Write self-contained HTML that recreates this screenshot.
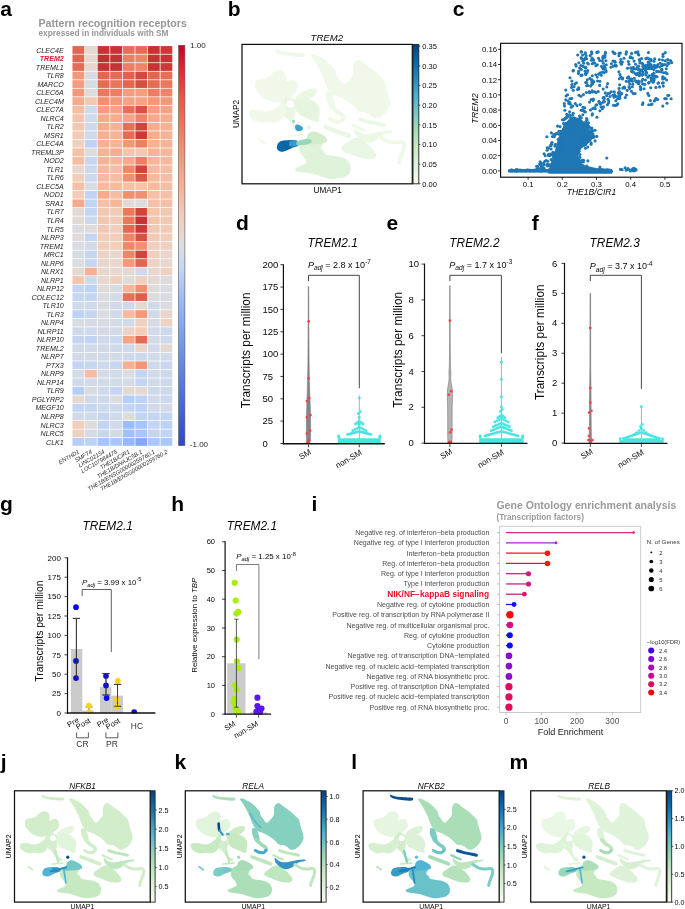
<!DOCTYPE html>
<html><head><meta charset="utf-8"><style>
html,body{margin:0;padding:0;background:#fff;}
svg{display:block;will-change:transform;font-family:"Liberation Sans", sans-serif;}
</style></head><body>
<svg width="685" height="909" viewBox="0 0 685 909">
<text x="0.20" y="15.70" font-size="21" font-weight="bold" fill="#000">a</text>
<text x="227.70" y="15.60" font-size="21" font-weight="bold" fill="#000">b</text>
<text x="452.80" y="16.00" font-size="21" font-weight="bold" fill="#000">c</text>
<text x="235.90" y="230.40" font-size="21" font-weight="bold" fill="#000">d</text>
<text x="386.50" y="230.40" font-size="21" font-weight="bold" fill="#000">e</text>
<text x="531.80" y="230.40" font-size="21" font-weight="bold" fill="#000">f</text>
<text x="0.00" y="511.20" font-size="21" font-weight="bold" fill="#000">g</text>
<text x="171.20" y="511.20" font-size="21" font-weight="bold" fill="#000">h</text>
<text x="311.40" y="511.00" font-size="21" font-weight="bold" fill="#000">i</text>
<text x="0.80" y="769.20" font-size="21" font-weight="bold" fill="#000">j</text>
<text x="174.40" y="769.00" font-size="21" font-weight="bold" fill="#000">k</text>
<text x="351.30" y="769.40" font-size="21" font-weight="bold" fill="#000">l</text>
<text x="509.50" y="769.40" font-size="21" font-weight="bold" fill="#000">m</text>
<g>
<rect x="72.1" y="45.7" width="100.60" height="400.50" fill="#fff"/>
<rect x="72.47" y="46.08" width="11.82" height="7.77" fill="#e16751"/>
<rect x="85.05" y="46.08" width="11.82" height="7.77" fill="#e3d9d3"/>
<rect x="97.62" y="46.08" width="11.82" height="7.77" fill="#c53334"/>
<rect x="110.20" y="46.08" width="11.82" height="7.77" fill="#c53334"/>
<rect x="122.77" y="46.08" width="11.82" height="7.77" fill="#e57058"/>
<rect x="135.35" y="46.08" width="11.82" height="7.77" fill="#e36c55"/>
<rect x="147.92" y="46.08" width="11.82" height="7.77" fill="#c53334"/>
<rect x="160.50" y="46.08" width="11.82" height="7.77" fill="#ca3b37"/>
<rect x="72.47" y="54.60" width="11.82" height="7.77" fill="#e16751"/>
<rect x="85.05" y="54.60" width="11.82" height="7.77" fill="#e7d7ce"/>
<rect x="97.62" y="54.60" width="11.82" height="7.77" fill="#c32e31"/>
<rect x="110.20" y="54.60" width="11.82" height="7.77" fill="#c53334"/>
<rect x="122.77" y="54.60" width="11.82" height="7.77" fill="#ec7f63"/>
<rect x="135.35" y="54.60" width="11.82" height="7.77" fill="#ee8468"/>
<rect x="147.92" y="54.60" width="11.82" height="7.77" fill="#c53334"/>
<rect x="160.50" y="54.60" width="11.82" height="7.77" fill="#c53334"/>
<rect x="72.47" y="63.12" width="11.82" height="7.77" fill="#e36c55"/>
<rect x="85.05" y="63.12" width="11.82" height="7.77" fill="#e7d7ce"/>
<rect x="97.62" y="63.12" width="11.82" height="7.77" fill="#c53334"/>
<rect x="110.20" y="63.12" width="11.82" height="7.77" fill="#c53334"/>
<rect x="122.77" y="63.12" width="11.82" height="7.77" fill="#ec7f63"/>
<rect x="135.35" y="63.12" width="11.82" height="7.77" fill="#ee8468"/>
<rect x="147.92" y="63.12" width="11.82" height="7.77" fill="#c53334"/>
<rect x="160.50" y="63.12" width="11.82" height="7.77" fill="#ca3b37"/>
<rect x="72.47" y="71.64" width="11.82" height="7.77" fill="#f4987a"/>
<rect x="85.05" y="71.64" width="11.82" height="7.77" fill="#d6dce4"/>
<rect x="97.62" y="71.64" width="11.82" height="7.77" fill="#e16751"/>
<rect x="110.20" y="71.64" width="11.82" height="7.77" fill="#e36c55"/>
<rect x="122.77" y="71.64" width="11.82" height="7.77" fill="#df634e"/>
<rect x="135.35" y="71.64" width="11.82" height="7.77" fill="#d1493f"/>
<rect x="147.92" y="71.64" width="11.82" height="7.77" fill="#e16751"/>
<rect x="160.50" y="71.64" width="11.82" height="7.77" fill="#e57058"/>
<rect x="72.47" y="80.16" width="11.82" height="7.77" fill="#f59d7e"/>
<rect x="85.05" y="80.16" width="11.82" height="7.77" fill="#d7dce3"/>
<rect x="97.62" y="80.16" width="11.82" height="7.77" fill="#e36c55"/>
<rect x="110.20" y="80.16" width="11.82" height="7.77" fill="#e8765c"/>
<rect x="122.77" y="80.16" width="11.82" height="7.77" fill="#e16751"/>
<rect x="135.35" y="80.16" width="11.82" height="7.77" fill="#d44e41"/>
<rect x="147.92" y="80.16" width="11.82" height="7.77" fill="#e36c55"/>
<rect x="160.50" y="80.16" width="11.82" height="7.77" fill="#e9785d"/>
<rect x="72.47" y="88.68" width="11.82" height="7.77" fill="#f4987a"/>
<rect x="85.05" y="88.68" width="11.82" height="7.77" fill="#dddcdc"/>
<rect x="97.62" y="88.68" width="11.82" height="7.77" fill="#e9785d"/>
<rect x="110.20" y="88.68" width="11.82" height="7.77" fill="#ec7f63"/>
<rect x="122.77" y="88.68" width="11.82" height="7.77" fill="#f59d7e"/>
<rect x="135.35" y="88.68" width="11.82" height="7.77" fill="#f59d7e"/>
<rect x="147.92" y="88.68" width="11.82" height="7.77" fill="#ec7f63"/>
<rect x="160.50" y="88.68" width="11.82" height="7.77" fill="#ee8468"/>
<rect x="72.47" y="97.20" width="11.82" height="7.77" fill="#f7a98b"/>
<rect x="85.05" y="97.20" width="11.82" height="7.77" fill="#f3c8b2"/>
<rect x="97.62" y="97.20" width="11.82" height="7.77" fill="#f18f71"/>
<rect x="110.20" y="97.20" width="11.82" height="7.77" fill="#f4987a"/>
<rect x="122.77" y="97.20" width="11.82" height="7.77" fill="#f6a385"/>
<rect x="135.35" y="97.20" width="11.82" height="7.77" fill="#f6a385"/>
<rect x="147.92" y="97.20" width="11.82" height="7.77" fill="#f39577"/>
<rect x="160.50" y="97.20" width="11.82" height="7.77" fill="#f4987a"/>
<rect x="72.47" y="105.72" width="11.82" height="7.77" fill="#f6bda2"/>
<rect x="85.05" y="105.72" width="11.82" height="7.77" fill="#cedaeb"/>
<rect x="97.62" y="105.72" width="11.82" height="7.77" fill="#f59d7e"/>
<rect x="110.20" y="105.72" width="11.82" height="7.77" fill="#f6a385"/>
<rect x="122.77" y="105.72" width="11.82" height="7.77" fill="#e57058"/>
<rect x="135.35" y="105.72" width="11.82" height="7.77" fill="#d65244"/>
<rect x="147.92" y="105.72" width="11.82" height="7.77" fill="#f59d7e"/>
<rect x="160.50" y="105.72" width="11.82" height="7.77" fill="#f6a385"/>
<rect x="72.47" y="114.25" width="11.82" height="7.77" fill="#f5c4ac"/>
<rect x="85.05" y="114.25" width="11.82" height="7.77" fill="#cedaeb"/>
<rect x="97.62" y="114.25" width="11.82" height="7.77" fill="#f7a98b"/>
<rect x="110.20" y="114.25" width="11.82" height="7.77" fill="#f7ac8e"/>
<rect x="122.77" y="114.25" width="11.82" height="7.77" fill="#f6a385"/>
<rect x="135.35" y="114.25" width="11.82" height="7.77" fill="#ee8468"/>
<rect x="147.92" y="114.25" width="11.82" height="7.77" fill="#f7a98b"/>
<rect x="160.50" y="114.25" width="11.82" height="7.77" fill="#f7ac8e"/>
<rect x="72.47" y="122.77" width="11.82" height="7.77" fill="#f3c8b2"/>
<rect x="85.05" y="122.77" width="11.82" height="7.77" fill="#cedaeb"/>
<rect x="97.62" y="122.77" width="11.82" height="7.77" fill="#f7ac8e"/>
<rect x="110.20" y="122.77" width="11.82" height="7.77" fill="#f7b093"/>
<rect x="122.77" y="122.77" width="11.82" height="7.77" fill="#e57058"/>
<rect x="135.35" y="122.77" width="11.82" height="7.77" fill="#cf453c"/>
<rect x="147.92" y="122.77" width="11.82" height="7.77" fill="#f7ac8e"/>
<rect x="160.50" y="122.77" width="11.82" height="7.77" fill="#f7b093"/>
<rect x="72.47" y="131.29" width="11.82" height="7.77" fill="#f2cbb7"/>
<rect x="85.05" y="131.29" width="11.82" height="7.77" fill="#cedaeb"/>
<rect x="97.62" y="131.29" width="11.82" height="7.77" fill="#f7b093"/>
<rect x="110.20" y="131.29" width="11.82" height="7.77" fill="#f7b396"/>
<rect x="122.77" y="131.29" width="11.82" height="7.77" fill="#e36c55"/>
<rect x="135.35" y="131.29" width="11.82" height="7.77" fill="#ca3b37"/>
<rect x="147.92" y="131.29" width="11.82" height="7.77" fill="#f7ac8e"/>
<rect x="160.50" y="131.29" width="11.82" height="7.77" fill="#f7b396"/>
<rect x="72.47" y="139.81" width="11.82" height="7.77" fill="#eed0c0"/>
<rect x="85.05" y="139.81" width="11.82" height="7.77" fill="#bed2f6"/>
<rect x="97.62" y="139.81" width="11.82" height="7.77" fill="#f7b093"/>
<rect x="110.20" y="139.81" width="11.82" height="7.77" fill="#f7b396"/>
<rect x="122.77" y="139.81" width="11.82" height="7.77" fill="#f39577"/>
<rect x="135.35" y="139.81" width="11.82" height="7.77" fill="#ec7f63"/>
<rect x="147.92" y="139.81" width="11.82" height="7.77" fill="#f7b093"/>
<rect x="160.50" y="139.81" width="11.82" height="7.77" fill="#f7b396"/>
<rect x="72.47" y="148.33" width="11.82" height="7.77" fill="#f5c0a7"/>
<rect x="85.05" y="148.33" width="11.82" height="7.77" fill="#dddcdc"/>
<rect x="97.62" y="148.33" width="11.82" height="7.77" fill="#f7b396"/>
<rect x="110.20" y="148.33" width="11.82" height="7.77" fill="#f7ac8e"/>
<rect x="122.77" y="148.33" width="11.82" height="7.77" fill="#f5c4ac"/>
<rect x="135.35" y="148.33" width="11.82" height="7.77" fill="#f3c8b2"/>
<rect x="147.92" y="148.33" width="11.82" height="7.77" fill="#f7b396"/>
<rect x="160.50" y="148.33" width="11.82" height="7.77" fill="#f7b79b"/>
<rect x="72.47" y="156.85" width="11.82" height="7.77" fill="#f6bda2"/>
<rect x="85.05" y="156.85" width="11.82" height="7.77" fill="#c6d6f1"/>
<rect x="97.62" y="156.85" width="11.82" height="7.77" fill="#f7b396"/>
<rect x="110.20" y="156.85" width="11.82" height="7.77" fill="#f7b599"/>
<rect x="122.77" y="156.85" width="11.82" height="7.77" fill="#f7a98b"/>
<rect x="135.35" y="156.85" width="11.82" height="7.77" fill="#ec7f63"/>
<rect x="147.92" y="156.85" width="11.82" height="7.77" fill="#f7b599"/>
<rect x="160.50" y="156.85" width="11.82" height="7.77" fill="#f7b89c"/>
<rect x="72.47" y="165.37" width="11.82" height="7.77" fill="#e9d5cb"/>
<rect x="85.05" y="165.37" width="11.82" height="7.77" fill="#cbd8ee"/>
<rect x="97.62" y="165.37" width="11.82" height="7.77" fill="#f7ba9f"/>
<rect x="110.20" y="165.37" width="11.82" height="7.77" fill="#f6bda2"/>
<rect x="122.77" y="165.37" width="11.82" height="7.77" fill="#ef886b"/>
<rect x="135.35" y="165.37" width="11.82" height="7.77" fill="#cf453c"/>
<rect x="147.92" y="165.37" width="11.82" height="7.77" fill="#f7ba9f"/>
<rect x="160.50" y="165.37" width="11.82" height="7.77" fill="#f6bda2"/>
<rect x="72.47" y="173.89" width="11.82" height="7.77" fill="#f1cdba"/>
<rect x="85.05" y="173.89" width="11.82" height="7.77" fill="#cbd8ee"/>
<rect x="97.62" y="173.89" width="11.82" height="7.77" fill="#f7ba9f"/>
<rect x="110.20" y="173.89" width="11.82" height="7.77" fill="#f6bda2"/>
<rect x="122.77" y="173.89" width="11.82" height="7.77" fill="#f18f71"/>
<rect x="135.35" y="173.89" width="11.82" height="7.77" fill="#d95847"/>
<rect x="147.92" y="173.89" width="11.82" height="7.77" fill="#f7ba9f"/>
<rect x="160.50" y="173.89" width="11.82" height="7.77" fill="#f6bda2"/>
<rect x="72.47" y="182.42" width="11.82" height="7.77" fill="#f5c0a7"/>
<rect x="85.05" y="182.42" width="11.82" height="7.77" fill="#d7dce3"/>
<rect x="97.62" y="182.42" width="11.82" height="7.77" fill="#f7ba9f"/>
<rect x="110.20" y="182.42" width="11.82" height="7.77" fill="#f7ba9f"/>
<rect x="122.77" y="182.42" width="11.82" height="7.77" fill="#f5c0a7"/>
<rect x="135.35" y="182.42" width="11.82" height="7.77" fill="#f5c4ac"/>
<rect x="147.92" y="182.42" width="11.82" height="7.77" fill="#f7ba9f"/>
<rect x="160.50" y="182.42" width="11.82" height="7.77" fill="#f6bda2"/>
<rect x="72.47" y="190.94" width="11.82" height="7.77" fill="#f1cdba"/>
<rect x="85.05" y="190.94" width="11.82" height="7.77" fill="#c1d4f4"/>
<rect x="97.62" y="190.94" width="11.82" height="7.77" fill="#f7ac8e"/>
<rect x="110.20" y="190.94" width="11.82" height="7.77" fill="#f6bda2"/>
<rect x="122.77" y="190.94" width="11.82" height="7.77" fill="#f18f71"/>
<rect x="135.35" y="190.94" width="11.82" height="7.77" fill="#f18f71"/>
<rect x="147.92" y="190.94" width="11.82" height="7.77" fill="#f5c0a7"/>
<rect x="160.50" y="190.94" width="11.82" height="7.77" fill="#f5c0a7"/>
<rect x="72.47" y="199.46" width="11.82" height="7.77" fill="#f7a98b"/>
<rect x="85.05" y="199.46" width="11.82" height="7.77" fill="#c1d4f4"/>
<rect x="97.62" y="199.46" width="11.82" height="7.77" fill="#f5c0a7"/>
<rect x="110.20" y="199.46" width="11.82" height="7.77" fill="#f7b599"/>
<rect x="122.77" y="199.46" width="11.82" height="7.77" fill="#dfdbd9"/>
<rect x="135.35" y="199.46" width="11.82" height="7.77" fill="#dddcdc"/>
<rect x="147.92" y="199.46" width="11.82" height="7.77" fill="#f5c0a7"/>
<rect x="160.50" y="199.46" width="11.82" height="7.77" fill="#f5c0a7"/>
<rect x="72.47" y="207.98" width="11.82" height="7.77" fill="#e3d9d3"/>
<rect x="85.05" y="207.98" width="11.82" height="7.77" fill="#c4d5f3"/>
<rect x="97.62" y="207.98" width="11.82" height="7.77" fill="#f3c8b2"/>
<rect x="110.20" y="207.98" width="11.82" height="7.77" fill="#f2cbb7"/>
<rect x="122.77" y="207.98" width="11.82" height="7.77" fill="#e9785d"/>
<rect x="135.35" y="207.98" width="11.82" height="7.77" fill="#cf453c"/>
<rect x="147.92" y="207.98" width="11.82" height="7.77" fill="#f5c4ac"/>
<rect x="160.50" y="207.98" width="11.82" height="7.77" fill="#f3c8b2"/>
<rect x="72.47" y="216.50" width="11.82" height="7.77" fill="#e3d9d3"/>
<rect x="85.05" y="216.50" width="11.82" height="7.77" fill="#cbd8ee"/>
<rect x="97.62" y="216.50" width="11.82" height="7.77" fill="#f3c8b2"/>
<rect x="110.20" y="216.50" width="11.82" height="7.77" fill="#f2cbb7"/>
<rect x="122.77" y="216.50" width="11.82" height="7.77" fill="#e9785d"/>
<rect x="135.35" y="216.50" width="11.82" height="7.77" fill="#c53334"/>
<rect x="147.92" y="216.50" width="11.82" height="7.77" fill="#f5c4ac"/>
<rect x="160.50" y="216.50" width="11.82" height="7.77" fill="#f3c8b2"/>
<rect x="72.47" y="225.02" width="11.82" height="7.77" fill="#dadce0"/>
<rect x="85.05" y="225.02" width="11.82" height="7.77" fill="#e0dbd8"/>
<rect x="97.62" y="225.02" width="11.82" height="7.77" fill="#f3c8b2"/>
<rect x="110.20" y="225.02" width="11.82" height="7.77" fill="#f1cdba"/>
<rect x="122.77" y="225.02" width="11.82" height="7.77" fill="#e16751"/>
<rect x="135.35" y="225.02" width="11.82" height="7.77" fill="#ca3b37"/>
<rect x="147.92" y="225.02" width="11.82" height="7.77" fill="#f3c8b2"/>
<rect x="160.50" y="225.02" width="11.82" height="7.77" fill="#f2cbb7"/>
<rect x="72.47" y="233.54" width="11.82" height="7.77" fill="#dfdbd9"/>
<rect x="85.05" y="233.54" width="11.82" height="7.77" fill="#c4d5f3"/>
<rect x="97.62" y="233.54" width="11.82" height="7.77" fill="#f1cdba"/>
<rect x="110.20" y="233.54" width="11.82" height="7.77" fill="#f1cdba"/>
<rect x="122.77" y="233.54" width="11.82" height="7.77" fill="#ee8468"/>
<rect x="135.35" y="233.54" width="11.82" height="7.77" fill="#d65244"/>
<rect x="147.92" y="233.54" width="11.82" height="7.77" fill="#f2cbb7"/>
<rect x="160.50" y="233.54" width="11.82" height="7.77" fill="#f1cdba"/>
<rect x="72.47" y="242.06" width="11.82" height="7.77" fill="#d9dce1"/>
<rect x="85.05" y="242.06" width="11.82" height="7.77" fill="#d1dae9"/>
<rect x="97.62" y="242.06" width="11.82" height="7.77" fill="#f1cdba"/>
<rect x="110.20" y="242.06" width="11.82" height="7.77" fill="#f1cdba"/>
<rect x="122.77" y="242.06" width="11.82" height="7.77" fill="#ef886b"/>
<rect x="135.35" y="242.06" width="11.82" height="7.77" fill="#f18f71"/>
<rect x="147.92" y="242.06" width="11.82" height="7.77" fill="#eed0c0"/>
<rect x="160.50" y="242.06" width="11.82" height="7.77" fill="#eed0c0"/>
<rect x="72.47" y="250.59" width="11.82" height="7.77" fill="#d7dce3"/>
<rect x="85.05" y="250.59" width="11.82" height="7.77" fill="#c6d6f1"/>
<rect x="97.62" y="250.59" width="11.82" height="7.77" fill="#ebd3c6"/>
<rect x="110.20" y="250.59" width="11.82" height="7.77" fill="#e7d7ce"/>
<rect x="122.77" y="250.59" width="11.82" height="7.77" fill="#ee8468"/>
<rect x="135.35" y="250.59" width="11.82" height="7.77" fill="#cf453c"/>
<rect x="147.92" y="250.59" width="11.82" height="7.77" fill="#eed0c0"/>
<rect x="160.50" y="250.59" width="11.82" height="7.77" fill="#e9d5cb"/>
<rect x="72.47" y="259.11" width="11.82" height="7.77" fill="#dadce0"/>
<rect x="85.05" y="259.11" width="11.82" height="7.77" fill="#c6d6f1"/>
<rect x="97.62" y="259.11" width="11.82" height="7.77" fill="#e9d5cb"/>
<rect x="110.20" y="259.11" width="11.82" height="7.77" fill="#e7d7ce"/>
<rect x="122.77" y="259.11" width="11.82" height="7.77" fill="#f4987a"/>
<rect x="135.35" y="259.11" width="11.82" height="7.77" fill="#e16751"/>
<rect x="147.92" y="259.11" width="11.82" height="7.77" fill="#ebd3c6"/>
<rect x="160.50" y="259.11" width="11.82" height="7.77" fill="#e7d7ce"/>
<rect x="72.47" y="267.63" width="11.82" height="7.77" fill="#e3d9d3"/>
<rect x="85.05" y="267.63" width="11.82" height="7.77" fill="#f7b093"/>
<rect x="97.62" y="267.63" width="11.82" height="7.77" fill="#e7d7ce"/>
<rect x="110.20" y="267.63" width="11.82" height="7.77" fill="#e7d7ce"/>
<rect x="122.77" y="267.63" width="11.82" height="7.77" fill="#e3d9d3"/>
<rect x="135.35" y="267.63" width="11.82" height="7.77" fill="#cedaeb"/>
<rect x="147.92" y="267.63" width="11.82" height="7.77" fill="#e7d7ce"/>
<rect x="160.50" y="267.63" width="11.82" height="7.77" fill="#eed0c0"/>
<rect x="72.47" y="276.15" width="11.82" height="7.77" fill="#f5c4ac"/>
<rect x="85.05" y="276.15" width="11.82" height="7.77" fill="#cedaeb"/>
<rect x="97.62" y="276.15" width="11.82" height="7.77" fill="#e7d7ce"/>
<rect x="110.20" y="276.15" width="11.82" height="7.77" fill="#eed0c0"/>
<rect x="122.77" y="276.15" width="11.82" height="7.77" fill="#dfdbd9"/>
<rect x="135.35" y="276.15" width="11.82" height="7.77" fill="#eed0c0"/>
<rect x="147.92" y="276.15" width="11.82" height="7.77" fill="#e3d9d3"/>
<rect x="160.50" y="276.15" width="11.82" height="7.77" fill="#dddcdc"/>
<rect x="72.47" y="284.67" width="11.82" height="7.77" fill="#c4d5f3"/>
<rect x="85.05" y="284.67" width="11.82" height="7.77" fill="#bed2f6"/>
<rect x="97.62" y="284.67" width="11.82" height="7.77" fill="#dfdbd9"/>
<rect x="110.20" y="284.67" width="11.82" height="7.77" fill="#d7dce3"/>
<rect x="122.77" y="284.67" width="11.82" height="7.77" fill="#f7b599"/>
<rect x="135.35" y="284.67" width="11.82" height="7.77" fill="#f18f71"/>
<rect x="147.92" y="284.67" width="11.82" height="7.77" fill="#dddcdc"/>
<rect x="160.50" y="284.67" width="11.82" height="7.77" fill="#dadce0"/>
<rect x="72.47" y="293.19" width="11.82" height="7.77" fill="#c6d6f1"/>
<rect x="85.05" y="293.19" width="11.82" height="7.77" fill="#c4d5f3"/>
<rect x="97.62" y="293.19" width="11.82" height="7.77" fill="#dadce0"/>
<rect x="110.20" y="293.19" width="11.82" height="7.77" fill="#d4dbe6"/>
<rect x="122.77" y="293.19" width="11.82" height="7.77" fill="#e57058"/>
<rect x="135.35" y="293.19" width="11.82" height="7.77" fill="#dd5f4b"/>
<rect x="147.92" y="293.19" width="11.82" height="7.77" fill="#dddcdc"/>
<rect x="160.50" y="293.19" width="11.82" height="7.77" fill="#d7dce3"/>
<rect x="72.47" y="301.71" width="11.82" height="7.77" fill="#d1dae9"/>
<rect x="85.05" y="301.71" width="11.82" height="7.77" fill="#cedaeb"/>
<rect x="97.62" y="301.71" width="11.82" height="7.77" fill="#d7dce3"/>
<rect x="110.20" y="301.71" width="11.82" height="7.77" fill="#d1dae9"/>
<rect x="122.77" y="301.71" width="11.82" height="7.77" fill="#cedaeb"/>
<rect x="135.35" y="301.71" width="11.82" height="7.77" fill="#e3d9d3"/>
<rect x="147.92" y="301.71" width="11.82" height="7.77" fill="#d1dae9"/>
<rect x="160.50" y="301.71" width="11.82" height="7.77" fill="#dadce0"/>
<rect x="72.47" y="310.23" width="11.82" height="7.77" fill="#bed2f6"/>
<rect x="85.05" y="310.23" width="11.82" height="7.77" fill="#c6d6f1"/>
<rect x="97.62" y="310.23" width="11.82" height="7.77" fill="#d9dce1"/>
<rect x="110.20" y="310.23" width="11.82" height="7.77" fill="#d1dae9"/>
<rect x="122.77" y="310.23" width="11.82" height="7.77" fill="#f7ba9f"/>
<rect x="135.35" y="310.23" width="11.82" height="7.77" fill="#f4987a"/>
<rect x="147.92" y="310.23" width="11.82" height="7.77" fill="#d1dae9"/>
<rect x="160.50" y="310.23" width="11.82" height="7.77" fill="#e9d5cb"/>
<rect x="72.47" y="318.76" width="11.82" height="7.77" fill="#d7dce3"/>
<rect x="85.05" y="318.76" width="11.82" height="7.77" fill="#d4dbe6"/>
<rect x="97.62" y="318.76" width="11.82" height="7.77" fill="#d7dce3"/>
<rect x="110.20" y="318.76" width="11.82" height="7.77" fill="#d4dbe6"/>
<rect x="122.77" y="318.76" width="11.82" height="7.77" fill="#d1dae9"/>
<rect x="135.35" y="318.76" width="11.82" height="7.77" fill="#eed0c0"/>
<rect x="147.92" y="318.76" width="11.82" height="7.77" fill="#d4dbe6"/>
<rect x="160.50" y="318.76" width="11.82" height="7.77" fill="#ebd3c6"/>
<rect x="72.47" y="327.28" width="11.82" height="7.77" fill="#cedaeb"/>
<rect x="85.05" y="327.28" width="11.82" height="7.77" fill="#cedaeb"/>
<rect x="97.62" y="327.28" width="11.82" height="7.77" fill="#d4dbe6"/>
<rect x="110.20" y="327.28" width="11.82" height="7.77" fill="#d1dae9"/>
<rect x="122.77" y="327.28" width="11.82" height="7.77" fill="#ebd3c6"/>
<rect x="135.35" y="327.28" width="11.82" height="7.77" fill="#f1cdba"/>
<rect x="147.92" y="327.28" width="11.82" height="7.77" fill="#d1dae9"/>
<rect x="160.50" y="327.28" width="11.82" height="7.77" fill="#cedaeb"/>
<rect x="72.47" y="335.80" width="11.82" height="7.77" fill="#c4d5f3"/>
<rect x="85.05" y="335.80" width="11.82" height="7.77" fill="#c1d4f4"/>
<rect x="97.62" y="335.80" width="11.82" height="7.77" fill="#cedaeb"/>
<rect x="110.20" y="335.80" width="11.82" height="7.77" fill="#cbd8ee"/>
<rect x="122.77" y="335.80" width="11.82" height="7.77" fill="#f6a385"/>
<rect x="135.35" y="335.80" width="11.82" height="7.77" fill="#e36c55"/>
<rect x="147.92" y="335.80" width="11.82" height="7.77" fill="#d4dbe6"/>
<rect x="160.50" y="335.80" width="11.82" height="7.77" fill="#cedaeb"/>
<rect x="72.47" y="344.32" width="11.82" height="7.77" fill="#d1dae9"/>
<rect x="85.05" y="344.32" width="11.82" height="7.77" fill="#d1dae9"/>
<rect x="97.62" y="344.32" width="11.82" height="7.77" fill="#d1dae9"/>
<rect x="110.20" y="344.32" width="11.82" height="7.77" fill="#cedaeb"/>
<rect x="122.77" y="344.32" width="11.82" height="7.77" fill="#cedaeb"/>
<rect x="135.35" y="344.32" width="11.82" height="7.77" fill="#e9d5cb"/>
<rect x="147.92" y="344.32" width="11.82" height="7.77" fill="#d1dae9"/>
<rect x="160.50" y="344.32" width="11.82" height="7.77" fill="#e3d9d3"/>
<rect x="72.47" y="352.84" width="11.82" height="7.77" fill="#d1dae9"/>
<rect x="85.05" y="352.84" width="11.82" height="7.77" fill="#d1dae9"/>
<rect x="97.62" y="352.84" width="11.82" height="7.77" fill="#d1dae9"/>
<rect x="110.20" y="352.84" width="11.82" height="7.77" fill="#d1dae9"/>
<rect x="122.77" y="352.84" width="11.82" height="7.77" fill="#cedaeb"/>
<rect x="135.35" y="352.84" width="11.82" height="7.77" fill="#cbd8ee"/>
<rect x="147.92" y="352.84" width="11.82" height="7.77" fill="#d1dae9"/>
<rect x="160.50" y="352.84" width="11.82" height="7.77" fill="#d1dae9"/>
<rect x="72.47" y="361.36" width="11.82" height="7.77" fill="#c4d5f3"/>
<rect x="85.05" y="361.36" width="11.82" height="7.77" fill="#c6d6f1"/>
<rect x="97.62" y="361.36" width="11.82" height="7.77" fill="#cedaeb"/>
<rect x="110.20" y="361.36" width="11.82" height="7.77" fill="#c6d6f1"/>
<rect x="122.77" y="361.36" width="11.82" height="7.77" fill="#f7b093"/>
<rect x="135.35" y="361.36" width="11.82" height="7.77" fill="#f39577"/>
<rect x="147.92" y="361.36" width="11.82" height="7.77" fill="#cedaeb"/>
<rect x="160.50" y="361.36" width="11.82" height="7.77" fill="#cbd8ee"/>
<rect x="72.47" y="369.88" width="11.82" height="7.77" fill="#d4dbe6"/>
<rect x="85.05" y="369.88" width="11.82" height="7.77" fill="#f6bda2"/>
<rect x="97.62" y="369.88" width="11.82" height="7.77" fill="#d4dbe6"/>
<rect x="110.20" y="369.88" width="11.82" height="7.77" fill="#d1dae9"/>
<rect x="122.77" y="369.88" width="11.82" height="7.77" fill="#dadce0"/>
<rect x="135.35" y="369.88" width="11.82" height="7.77" fill="#c4d5f3"/>
<rect x="147.92" y="369.88" width="11.82" height="7.77" fill="#d1dae9"/>
<rect x="160.50" y="369.88" width="11.82" height="7.77" fill="#cedaeb"/>
<rect x="72.47" y="378.40" width="11.82" height="7.77" fill="#cedaeb"/>
<rect x="85.05" y="378.40" width="11.82" height="7.77" fill="#d1dae9"/>
<rect x="97.62" y="378.40" width="11.82" height="7.77" fill="#d1dae9"/>
<rect x="110.20" y="378.40" width="11.82" height="7.77" fill="#d1dae9"/>
<rect x="122.77" y="378.40" width="11.82" height="7.77" fill="#d4dbe6"/>
<rect x="135.35" y="378.40" width="11.82" height="7.77" fill="#c4d5f3"/>
<rect x="147.92" y="378.40" width="11.82" height="7.77" fill="#d1dae9"/>
<rect x="160.50" y="378.40" width="11.82" height="7.77" fill="#cedaeb"/>
<rect x="72.47" y="386.93" width="11.82" height="7.77" fill="#b6cefa"/>
<rect x="85.05" y="386.93" width="11.82" height="7.77" fill="#d7dce3"/>
<rect x="97.62" y="386.93" width="11.82" height="7.77" fill="#cedaeb"/>
<rect x="110.20" y="386.93" width="11.82" height="7.77" fill="#c4d5f3"/>
<rect x="122.77" y="386.93" width="11.82" height="7.77" fill="#e3d9d3"/>
<rect x="135.35" y="386.93" width="11.82" height="7.77" fill="#e3d9d3"/>
<rect x="147.92" y="386.93" width="11.82" height="7.77" fill="#cedaeb"/>
<rect x="160.50" y="386.93" width="11.82" height="7.77" fill="#cedaeb"/>
<rect x="72.47" y="395.45" width="11.82" height="7.77" fill="#e3d9d3"/>
<rect x="85.05" y="395.45" width="11.82" height="7.77" fill="#cedaeb"/>
<rect x="97.62" y="395.45" width="11.82" height="7.77" fill="#cedaeb"/>
<rect x="110.20" y="395.45" width="11.82" height="7.77" fill="#dadce0"/>
<rect x="122.77" y="395.45" width="11.82" height="7.77" fill="#b6cefa"/>
<rect x="135.35" y="395.45" width="11.82" height="7.77" fill="#bed2f6"/>
<rect x="147.92" y="395.45" width="11.82" height="7.77" fill="#d1dae9"/>
<rect x="160.50" y="395.45" width="11.82" height="7.77" fill="#cbd8ee"/>
<rect x="72.47" y="403.97" width="11.82" height="7.77" fill="#c4d5f3"/>
<rect x="85.05" y="403.97" width="11.82" height="7.77" fill="#c6d6f1"/>
<rect x="97.62" y="403.97" width="11.82" height="7.77" fill="#cbd8ee"/>
<rect x="110.20" y="403.97" width="11.82" height="7.77" fill="#cbd8ee"/>
<rect x="122.77" y="403.97" width="11.82" height="7.77" fill="#c4d5f3"/>
<rect x="135.35" y="403.97" width="11.82" height="7.77" fill="#bed2f6"/>
<rect x="147.92" y="403.97" width="11.82" height="7.77" fill="#d1dae9"/>
<rect x="160.50" y="403.97" width="11.82" height="7.77" fill="#d4dbe6"/>
<rect x="72.47" y="412.49" width="11.82" height="7.77" fill="#d1dae9"/>
<rect x="85.05" y="412.49" width="11.82" height="7.77" fill="#d1dae9"/>
<rect x="97.62" y="412.49" width="11.82" height="7.77" fill="#c6d6f1"/>
<rect x="110.20" y="412.49" width="11.82" height="7.77" fill="#cedaeb"/>
<rect x="122.77" y="412.49" width="11.82" height="7.77" fill="#dddcdc"/>
<rect x="135.35" y="412.49" width="11.82" height="7.77" fill="#c1d4f4"/>
<rect x="147.92" y="412.49" width="11.82" height="7.77" fill="#c4d5f3"/>
<rect x="160.50" y="412.49" width="11.82" height="7.77" fill="#c4d5f3"/>
<rect x="72.47" y="421.01" width="11.82" height="7.77" fill="#f1cdba"/>
<rect x="85.05" y="421.01" width="11.82" height="7.77" fill="#dddcdc"/>
<rect x="97.62" y="421.01" width="11.82" height="7.77" fill="#c1d4f4"/>
<rect x="110.20" y="421.01" width="11.82" height="7.77" fill="#cedaeb"/>
<rect x="122.77" y="421.01" width="11.82" height="7.77" fill="#9bbcff"/>
<rect x="135.35" y="421.01" width="11.82" height="7.77" fill="#a5c3fe"/>
<rect x="147.92" y="421.01" width="11.82" height="7.77" fill="#c4d5f3"/>
<rect x="160.50" y="421.01" width="11.82" height="7.77" fill="#bed2f6"/>
<rect x="72.47" y="429.53" width="11.82" height="7.77" fill="#eed0c0"/>
<rect x="85.05" y="429.53" width="11.82" height="7.77" fill="#d4dbe6"/>
<rect x="97.62" y="429.53" width="11.82" height="7.77" fill="#c6d6f1"/>
<rect x="110.20" y="429.53" width="11.82" height="7.77" fill="#d1dae9"/>
<rect x="122.77" y="429.53" width="11.82" height="7.77" fill="#9fbfff"/>
<rect x="135.35" y="429.53" width="11.82" height="7.77" fill="#aac7fd"/>
<rect x="147.92" y="429.53" width="11.82" height="7.77" fill="#c4d5f3"/>
<rect x="160.50" y="429.53" width="11.82" height="7.77" fill="#c1d4f4"/>
<rect x="72.47" y="438.05" width="11.82" height="7.77" fill="#b6cefa"/>
<rect x="85.05" y="438.05" width="11.82" height="7.77" fill="#bed2f6"/>
<rect x="97.62" y="438.05" width="11.82" height="7.77" fill="#a5c3fe"/>
<rect x="110.20" y="438.05" width="11.82" height="7.77" fill="#aac7fd"/>
<rect x="122.77" y="438.05" width="11.82" height="7.77" fill="#96b7ff"/>
<rect x="135.35" y="438.05" width="11.82" height="7.77" fill="#85a8fc"/>
<rect x="147.92" y="438.05" width="11.82" height="7.77" fill="#aac7fd"/>
<rect x="160.50" y="438.05" width="11.82" height="7.77" fill="#aac7fd"/>
</g>
<text x="63.80" y="52.56" font-size="7.1" font-style="italic" text-anchor="end" fill="#262626">CLEC4E</text>
<text x="63.80" y="61.08" font-size="7.1" font-weight="bold" font-style="italic" text-anchor="end" fill="#e3172d">TREM2</text>
<text x="63.80" y="69.60" font-size="7.1" font-style="italic" text-anchor="end" fill="#262626">TREML1</text>
<text x="63.80" y="78.12" font-size="7.1" font-style="italic" text-anchor="end" fill="#262626">TLR8</text>
<text x="63.80" y="86.65" font-size="7.1" font-style="italic" text-anchor="end" fill="#262626">MARCO</text>
<text x="63.80" y="95.17" font-size="7.1" font-style="italic" text-anchor="end" fill="#262626">CLEC6A</text>
<text x="63.80" y="103.69" font-size="7.1" font-style="italic" text-anchor="end" fill="#262626">CLEC4M</text>
<text x="63.80" y="112.21" font-size="7.1" font-style="italic" text-anchor="end" fill="#262626">CLEC7A</text>
<text x="63.80" y="120.73" font-size="7.1" font-style="italic" text-anchor="end" fill="#262626">NLRC4</text>
<text x="63.80" y="129.25" font-size="7.1" font-style="italic" text-anchor="end" fill="#262626">TLR2</text>
<text x="63.80" y="137.77" font-size="7.1" font-style="italic" text-anchor="end" fill="#262626">MSR1</text>
<text x="63.80" y="146.29" font-size="7.1" font-style="italic" text-anchor="end" fill="#262626">CLEC4A</text>
<text x="63.80" y="154.82" font-size="7.1" font-style="italic" text-anchor="end" fill="#262626">TREML3P</text>
<text x="63.80" y="163.34" font-size="7.1" font-style="italic" text-anchor="end" fill="#262626">NOD2</text>
<text x="63.80" y="171.86" font-size="7.1" font-style="italic" text-anchor="end" fill="#262626">TLR1</text>
<text x="63.80" y="180.38" font-size="7.1" font-style="italic" text-anchor="end" fill="#262626">TLR6</text>
<text x="63.80" y="188.90" font-size="7.1" font-style="italic" text-anchor="end" fill="#262626">CLEC5A</text>
<text x="63.80" y="197.42" font-size="7.1" font-style="italic" text-anchor="end" fill="#262626">NOD1</text>
<text x="63.80" y="205.94" font-size="7.1" font-style="italic" text-anchor="end" fill="#262626">SRA1</text>
<text x="63.80" y="214.46" font-size="7.1" font-style="italic" text-anchor="end" fill="#262626">TLR7</text>
<text x="63.80" y="222.99" font-size="7.1" font-style="italic" text-anchor="end" fill="#262626">TLR4</text>
<text x="63.80" y="231.51" font-size="7.1" font-style="italic" text-anchor="end" fill="#262626">TLR5</text>
<text x="63.80" y="240.03" font-size="7.1" font-style="italic" text-anchor="end" fill="#262626">NLRP3</text>
<text x="63.80" y="248.55" font-size="7.1" font-style="italic" text-anchor="end" fill="#262626">TREM1</text>
<text x="63.80" y="257.07" font-size="7.1" font-style="italic" text-anchor="end" fill="#262626">MRC1</text>
<text x="63.80" y="265.59" font-size="7.1" font-style="italic" text-anchor="end" fill="#262626">NLRP6</text>
<text x="63.80" y="274.11" font-size="7.1" font-style="italic" text-anchor="end" fill="#262626">NLRX1</text>
<text x="63.80" y="282.64" font-size="7.1" font-style="italic" text-anchor="end" fill="#262626">NLRP1</text>
<text x="63.80" y="291.16" font-size="7.1" font-style="italic" text-anchor="end" fill="#262626">NLRP12</text>
<text x="63.80" y="299.68" font-size="7.1" font-style="italic" text-anchor="end" fill="#262626">COLEC12</text>
<text x="63.80" y="308.20" font-size="7.1" font-style="italic" text-anchor="end" fill="#262626">TLR10</text>
<text x="63.80" y="316.72" font-size="7.1" font-style="italic" text-anchor="end" fill="#262626">TLR3</text>
<text x="63.80" y="325.24" font-size="7.1" font-style="italic" text-anchor="end" fill="#262626">NLRP4</text>
<text x="63.80" y="333.76" font-size="7.1" font-style="italic" text-anchor="end" fill="#262626">NLRP11</text>
<text x="63.80" y="342.28" font-size="7.1" font-style="italic" text-anchor="end" fill="#262626">NLRP10</text>
<text x="63.80" y="350.81" font-size="7.1" font-style="italic" text-anchor="end" fill="#262626">TREML2</text>
<text x="63.80" y="359.33" font-size="7.1" font-style="italic" text-anchor="end" fill="#262626">NLRP7</text>
<text x="63.80" y="367.85" font-size="7.1" font-style="italic" text-anchor="end" fill="#262626">PTX3</text>
<text x="63.80" y="376.37" font-size="7.1" font-style="italic" text-anchor="end" fill="#262626">NLRP9</text>
<text x="63.80" y="384.89" font-size="7.1" font-style="italic" text-anchor="end" fill="#262626">NLRP14</text>
<text x="63.80" y="393.41" font-size="7.1" font-style="italic" text-anchor="end" fill="#262626">TLR9</text>
<text x="63.80" y="401.93" font-size="7.1" font-style="italic" text-anchor="end" fill="#262626">PGLYRP2</text>
<text x="63.80" y="410.45" font-size="7.1" font-style="italic" text-anchor="end" fill="#262626">MEGF10</text>
<text x="63.80" y="418.98" font-size="7.1" font-style="italic" text-anchor="end" fill="#262626">NLRP8</text>
<text x="63.80" y="427.50" font-size="7.1" font-style="italic" text-anchor="end" fill="#262626">NLRC3</text>
<text x="63.80" y="436.02" font-size="7.1" font-style="italic" text-anchor="end" fill="#262626">NLRC5</text>
<text x="63.80" y="444.54" font-size="7.1" font-style="italic" text-anchor="end" fill="#262626">CLK1</text>
<text x="38.50" y="26.90" font-size="10.6" font-weight="bold" fill="#979797">Pattern recognition receptors</text>
<text x="38.50" y="35.60" font-size="8.3" font-weight="bold" fill="#979797">expressed in individuals with SM</text>
<defs><linearGradient id="cwg" x1="0" y1="1" x2="0" y2="0"><stop offset="0.0" stop-color="#2c48c8"/><stop offset="0.12" stop-color="#4a6ee2"/><stop offset="0.25" stop-color="#7097f2"/><stop offset="0.37" stop-color="#9dbcf8"/><stop offset="0.45" stop-color="#c8d8f2"/><stop offset="0.5" stop-color="#dddddd"/><stop offset="0.57" stop-color="#f2cdbd"/><stop offset="0.65" stop-color="#f8b096"/><stop offset="0.75" stop-color="#f58a6a"/><stop offset="0.87" stop-color="#ee5540"/><stop offset="0.95" stop-color="#de2030"/><stop offset="1.0" stop-color="#cc0022"/></linearGradient></defs>
<rect x="178.6" y="45.3" width="6.3" height="400.3" fill="url(#cwg)" stroke="#555" stroke-width="0.6"/>
<text x="190.20" y="48.20" font-size="8" fill="#262626">1.00</text>
<text x="189.80" y="446.80" font-size="8" fill="#262626">-1.00</text>
<text transform="translate(79.89,452.9) rotate(-30)" font-size="5.75" font-style="italic" text-anchor="end" fill="#262626">ENTHD1</text>
<text transform="translate(92.46,452.9) rotate(-30)" font-size="5.75" font-style="italic" text-anchor="end" fill="#262626">SMFT4</text>
<text transform="translate(105.04,452.9) rotate(-30)" font-size="5.75" font-style="italic" text-anchor="end" fill="#262626">LINC02154</text>
<text transform="translate(117.61,452.9) rotate(-30)" font-size="5.75" font-style="italic" text-anchor="end" fill="#262626">LOC107984475</text>
<text transform="translate(130.19,452.9) rotate(-30)" font-size="5.75" font-style="italic" text-anchor="end" fill="#262626">THE1B/CIR1</text>
<text transform="translate(142.76,452.9) rotate(-30)" font-size="5.75" font-style="italic" text-anchor="end" fill="#262626">THE1B/DNAJC5B.1</text>
<text transform="translate(155.34,452.9) rotate(-30)" font-size="5.75" font-style="italic" text-anchor="end" fill="#262626">THE1B/ENSG00000259760.1</text>
<text transform="translate(167.91,452.9) rotate(-30)" font-size="5.75" font-style="italic" text-anchor="end" fill="#262626">THE1B/ENSG00000259760.2</text>
<g fill="#1f77b4">
<polygon points="549.0,171.8 552.7,159.5 555.6,151.3 558.2,141.1 560.9,132.9 564.4,125.8 568.5,120.7 572.6,117.6 577.7,118.6 582.8,121.7 586.9,126.8 590.9,132.9 594.0,136.0 589.9,141.1 584.8,145.2 580.7,148.2 577.7,153.4 578.1,159.5 580.7,163.6 585.8,166.6 596.1,168.7 611.4,169.7 612.4,171.4 611.4,173.0 549.0,173.0" stroke="#1f77b4" stroke-width="1.6" stroke-linejoin="round"/>
<rect x="509.3" y="169.3" width="100.9" height="3.3" rx="1.6"/>
<circle cx="564.9" cy="110.2" r="1.55"/>
<circle cx="557.5" cy="155.1" r="1.55"/>
<circle cx="668.6" cy="95.3" r="1.55"/>
<circle cx="595.3" cy="108.7" r="1.55"/>
<circle cx="652.0" cy="104.1" r="1.55"/>
<circle cx="593.3" cy="99.0" r="1.55"/>
<circle cx="578.4" cy="73.4" r="1.55"/>
<circle cx="592.4" cy="113.9" r="1.55"/>
<circle cx="663.3" cy="86.1" r="1.55"/>
<circle cx="606.8" cy="86.9" r="1.55"/>
<circle cx="555.5" cy="166.8" r="1.55"/>
<circle cx="655.7" cy="99.4" r="1.55"/>
<circle cx="559.9" cy="149.9" r="1.55"/>
<circle cx="560.4" cy="168.7" r="1.55"/>
<circle cx="585.7" cy="82.5" r="1.55"/>
<circle cx="611.0" cy="67.2" r="1.55"/>
<circle cx="576.1" cy="132.6" r="1.55"/>
<circle cx="581.3" cy="51.9" r="1.55"/>
<circle cx="579.6" cy="68.1" r="1.55"/>
<circle cx="642.5" cy="104.5" r="1.55"/>
<circle cx="632.3" cy="86.7" r="1.55"/>
<circle cx="647.5" cy="58.1" r="1.55"/>
<circle cx="567.6" cy="94.8" r="1.55"/>
<circle cx="566.8" cy="117.0" r="1.55"/>
<circle cx="648.1" cy="62.1" r="1.55"/>
<circle cx="579.5" cy="127.5" r="1.55"/>
<circle cx="553.5" cy="156.9" r="1.55"/>
<circle cx="618.9" cy="93.4" r="1.55"/>
<circle cx="589.7" cy="92.7" r="1.55"/>
<circle cx="588.5" cy="122.8" r="1.55"/>
<circle cx="670.5" cy="60.6" r="1.55"/>
<circle cx="650.7" cy="87.8" r="1.55"/>
<circle cx="566.8" cy="114.4" r="1.55"/>
<circle cx="639.6" cy="73.1" r="1.55"/>
<circle cx="566.1" cy="123.4" r="1.55"/>
<circle cx="625.3" cy="97.6" r="1.55"/>
<circle cx="579.0" cy="95.2" r="1.55"/>
<circle cx="593.8" cy="81.6" r="1.55"/>
<circle cx="585.4" cy="73.8" r="1.55"/>
<circle cx="601.1" cy="103.6" r="1.55"/>
<circle cx="581.2" cy="51.8" r="1.55"/>
<circle cx="560.8" cy="131.4" r="1.55"/>
<circle cx="647.8" cy="93.4" r="1.55"/>
<circle cx="662.7" cy="79.0" r="1.55"/>
<circle cx="586.4" cy="92.5" r="1.55"/>
<circle cx="591.7" cy="79.7" r="1.55"/>
<circle cx="659.5" cy="86.9" r="1.55"/>
<circle cx="642.9" cy="102.9" r="1.55"/>
<circle cx="618.9" cy="71.8" r="1.55"/>
<circle cx="637.9" cy="73.2" r="1.55"/>
<circle cx="611.4" cy="63.7" r="1.55"/>
<circle cx="602.8" cy="67.3" r="1.55"/>
<circle cx="566.1" cy="95.9" r="1.55"/>
<circle cx="601.0" cy="106.7" r="1.55"/>
<circle cx="613.4" cy="66.1" r="1.55"/>
<circle cx="570.3" cy="169.5" r="1.55"/>
<circle cx="563.8" cy="120.0" r="1.55"/>
<circle cx="574.9" cy="84.1" r="1.55"/>
<circle cx="580.9" cy="65.5" r="1.55"/>
<circle cx="599.9" cy="81.2" r="1.55"/>
<circle cx="568.8" cy="126.8" r="1.55"/>
<circle cx="555.4" cy="144.2" r="1.55"/>
<circle cx="597.5" cy="81.0" r="1.55"/>
<circle cx="659.3" cy="59.6" r="1.55"/>
<circle cx="594.8" cy="63.0" r="1.55"/>
<circle cx="568.1" cy="101.0" r="1.55"/>
<circle cx="651.0" cy="59.6" r="1.55"/>
<circle cx="662.8" cy="65.1" r="1.55"/>
<circle cx="671.1" cy="98.7" r="1.55"/>
<circle cx="571.8" cy="135.4" r="1.55"/>
<circle cx="605.4" cy="53.2" r="1.55"/>
<circle cx="569.6" cy="111.7" r="1.55"/>
<circle cx="569.9" cy="98.7" r="1.55"/>
<circle cx="662.5" cy="60.0" r="1.55"/>
<circle cx="667.1" cy="73.7" r="1.55"/>
<circle cx="579.8" cy="167.3" r="1.55"/>
<circle cx="607.6" cy="83.6" r="1.55"/>
<circle cx="615.7" cy="65.6" r="1.55"/>
<circle cx="601.2" cy="75.3" r="1.55"/>
<circle cx="557.1" cy="155.4" r="1.55"/>
<circle cx="585.4" cy="67.4" r="1.55"/>
<circle cx="591.8" cy="53.6" r="1.55"/>
<circle cx="585.1" cy="71.3" r="1.55"/>
<circle cx="592.3" cy="75.8" r="1.55"/>
<circle cx="585.7" cy="67.9" r="1.55"/>
<circle cx="585.8" cy="74.6" r="1.55"/>
<circle cx="591.5" cy="60.2" r="1.55"/>
<circle cx="598.2" cy="51.9" r="1.55"/>
<circle cx="584.7" cy="59.4" r="1.55"/>
<circle cx="587.7" cy="70.5" r="1.55"/>
<circle cx="603.0" cy="57.2" r="1.55"/>
<circle cx="604.8" cy="55.3" r="1.55"/>
<circle cx="603.9" cy="72.7" r="1.55"/>
<circle cx="573.1" cy="70.9" r="1.55"/>
<circle cx="586.7" cy="58.7" r="1.55"/>
<circle cx="587.6" cy="63.0" r="1.55"/>
<circle cx="598.6" cy="74.1" r="1.55"/>
<circle cx="595.8" cy="74.7" r="1.55"/>
<circle cx="581.1" cy="57.8" r="1.55"/>
<circle cx="595.9" cy="65.7" r="1.55"/>
<circle cx="582.6" cy="55.1" r="1.55"/>
<circle cx="582.0" cy="75.1" r="1.55"/>
<circle cx="581.0" cy="75.4" r="1.55"/>
<circle cx="600.3" cy="72.8" r="1.55"/>
<circle cx="605.9" cy="70.6" r="1.55"/>
<circle cx="583.0" cy="61.2" r="1.55"/>
<circle cx="583.1" cy="66.4" r="1.55"/>
<circle cx="576.1" cy="66.1" r="1.55"/>
<circle cx="573.4" cy="70.3" r="1.55"/>
<circle cx="603.7" cy="68.9" r="1.55"/>
<circle cx="581.8" cy="58.9" r="1.55"/>
<circle cx="602.8" cy="68.5" r="1.55"/>
<circle cx="585.4" cy="58.0" r="1.55"/>
<circle cx="599.7" cy="60.5" r="1.55"/>
<circle cx="578.7" cy="71.4" r="1.55"/>
<circle cx="598.5" cy="58.2" r="1.55"/>
<circle cx="603.2" cy="56.3" r="1.55"/>
<circle cx="587.0" cy="72.6" r="1.55"/>
<circle cx="603.0" cy="58.5" r="1.55"/>
<circle cx="592.3" cy="58.8" r="1.55"/>
<circle cx="585.7" cy="67.3" r="1.55"/>
<circle cx="592.2" cy="63.8" r="1.55"/>
<circle cx="596.8" cy="52.4" r="1.55"/>
<circle cx="601.5" cy="66.2" r="1.55"/>
<circle cx="585.3" cy="52.7" r="1.55"/>
<circle cx="586.1" cy="55.8" r="1.55"/>
<circle cx="575.7" cy="64.6" r="1.55"/>
<circle cx="590.2" cy="55.6" r="1.55"/>
<circle cx="602.6" cy="72.1" r="1.55"/>
<circle cx="593.7" cy="60.1" r="1.55"/>
<circle cx="577.7" cy="55.0" r="1.55"/>
<circle cx="591.5" cy="51.8" r="1.55"/>
<circle cx="578.9" cy="62.7" r="1.55"/>
<circle cx="583.6" cy="59.8" r="1.55"/>
<circle cx="593.4" cy="63.0" r="1.55"/>
<circle cx="583.7" cy="63.3" r="1.55"/>
<circle cx="585.3" cy="53.6" r="1.55"/>
<circle cx="588.3" cy="64.0" r="1.55"/>
<circle cx="581.4" cy="69.5" r="1.55"/>
<circle cx="605.2" cy="68.0" r="1.55"/>
<circle cx="602.3" cy="61.0" r="1.55"/>
<circle cx="606.1" cy="71.8" r="1.55"/>
<circle cx="604.8" cy="56.5" r="1.55"/>
<circle cx="592.0" cy="58.1" r="1.55"/>
<circle cx="597.3" cy="64.7" r="1.55"/>
<circle cx="622.8" cy="88.1" r="1.55"/>
<circle cx="624.2" cy="87.0" r="1.55"/>
<circle cx="614.3" cy="91.9" r="1.55"/>
<circle cx="639.5" cy="73.2" r="1.55"/>
<circle cx="603.7" cy="97.3" r="1.55"/>
<circle cx="603.5" cy="106.9" r="1.55"/>
<circle cx="636.6" cy="74.7" r="1.55"/>
<circle cx="629.6" cy="88.4" r="1.55"/>
<circle cx="617.8" cy="103.7" r="1.55"/>
<circle cx="618.8" cy="96.3" r="1.55"/>
<circle cx="633.3" cy="93.6" r="1.55"/>
<circle cx="619.1" cy="88.4" r="1.55"/>
<circle cx="613.5" cy="105.2" r="1.55"/>
<circle cx="608.8" cy="101.1" r="1.55"/>
<circle cx="627.2" cy="90.4" r="1.55"/>
<circle cx="618.3" cy="93.0" r="1.55"/>
<circle cx="628.7" cy="81.6" r="1.55"/>
<circle cx="626.2" cy="81.3" r="1.55"/>
<circle cx="647.2" cy="66.7" r="1.55"/>
<circle cx="603.2" cy="101.9" r="1.55"/>
<circle cx="644.7" cy="84.4" r="1.55"/>
<circle cx="629.8" cy="84.1" r="1.55"/>
<circle cx="604.2" cy="98.5" r="1.55"/>
<circle cx="635.1" cy="93.5" r="1.55"/>
<circle cx="617.6" cy="98.7" r="1.55"/>
<circle cx="629.0" cy="86.7" r="1.55"/>
<circle cx="607.4" cy="104.7" r="1.55"/>
<circle cx="646.5" cy="72.5" r="1.55"/>
<circle cx="648.5" cy="83.1" r="1.55"/>
<circle cx="609.9" cy="96.5" r="1.55"/>
<circle cx="645.9" cy="74.9" r="1.55"/>
<circle cx="645.6" cy="70.5" r="1.55"/>
<circle cx="638.6" cy="81.5" r="1.55"/>
<circle cx="624.7" cy="88.1" r="1.55"/>
<circle cx="645.4" cy="80.0" r="1.55"/>
<circle cx="621.7" cy="93.4" r="1.55"/>
<circle cx="631.3" cy="79.8" r="1.55"/>
<circle cx="619.7" cy="84.7" r="1.55"/>
<circle cx="614.6" cy="94.8" r="1.55"/>
<circle cx="615.4" cy="105.5" r="1.55"/>
<circle cx="651.4" cy="78.9" r="1.55"/>
<circle cx="599.0" cy="101.3" r="1.55"/>
<circle cx="622.7" cy="78.0" r="1.55"/>
<circle cx="608.5" cy="103.0" r="1.55"/>
<circle cx="607.8" cy="93.6" r="1.55"/>
<circle cx="635.6" cy="80.8" r="1.55"/>
<circle cx="606.6" cy="95.7" r="1.55"/>
<circle cx="638.6" cy="83.8" r="1.55"/>
<circle cx="637.9" cy="82.7" r="1.55"/>
<circle cx="649.0" cy="68.0" r="1.55"/>
<circle cx="619.8" cy="98.2" r="1.55"/>
<circle cx="642.8" cy="72.1" r="1.55"/>
<circle cx="631.5" cy="91.4" r="1.55"/>
<circle cx="608.0" cy="99.2" r="1.55"/>
<circle cx="634.2" cy="78.3" r="1.55"/>
<circle cx="603.6" cy="102.0" r="1.55"/>
<circle cx="638.4" cy="81.1" r="1.55"/>
<circle cx="632.4" cy="81.2" r="1.55"/>
<circle cx="600.1" cy="104.0" r="1.55"/>
<circle cx="620.7" cy="77.0" r="1.55"/>
<circle cx="615.9" cy="100.7" r="1.55"/>
<circle cx="631.7" cy="70.8" r="1.55"/>
<circle cx="605.2" cy="92.9" r="1.55"/>
<circle cx="650.2" cy="65.0" r="1.55"/>
<circle cx="628.2" cy="78.1" r="1.55"/>
<circle cx="616.9" cy="104.9" r="1.55"/>
<circle cx="620.1" cy="95.6" r="1.55"/>
<circle cx="640.7" cy="89.6" r="1.55"/>
<circle cx="596.6" cy="104.7" r="1.55"/>
<circle cx="626.5" cy="95.0" r="1.55"/>
<circle cx="645.9" cy="67.6" r="1.55"/>
<circle cx="612.9" cy="95.2" r="1.55"/>
<circle cx="633.5" cy="72.3" r="1.55"/>
<circle cx="619.4" cy="91.5" r="1.55"/>
<circle cx="639.2" cy="75.7" r="1.55"/>
<circle cx="619.3" cy="78.8" r="1.55"/>
<circle cx="637.5" cy="66.7" r="1.55"/>
<circle cx="611.3" cy="91.7" r="1.55"/>
<circle cx="631.8" cy="80.5" r="1.55"/>
<circle cx="632.8" cy="84.2" r="1.55"/>
<circle cx="642.6" cy="83.9" r="1.55"/>
<circle cx="651.5" cy="78.9" r="1.55"/>
<circle cx="619.0" cy="98.4" r="1.55"/>
<circle cx="604.4" cy="101.5" r="1.55"/>
<circle cx="609.4" cy="93.4" r="1.55"/>
<circle cx="622.5" cy="79.0" r="1.55"/>
<circle cx="614.1" cy="97.3" r="1.55"/>
<circle cx="615.9" cy="96.4" r="1.55"/>
<circle cx="628.6" cy="76.7" r="1.55"/>
<circle cx="619.2" cy="95.8" r="1.55"/>
<circle cx="643.0" cy="64.4" r="1.55"/>
<circle cx="655.6" cy="76.2" r="1.55"/>
<circle cx="640.6" cy="74.5" r="1.55"/>
<circle cx="662.1" cy="69.5" r="1.55"/>
<circle cx="653.9" cy="73.3" r="1.55"/>
<circle cx="648.3" cy="68.8" r="1.55"/>
<circle cx="630.4" cy="57.1" r="1.55"/>
<circle cx="642.3" cy="75.3" r="1.55"/>
<circle cx="666.3" cy="68.7" r="1.55"/>
<circle cx="651.7" cy="75.5" r="1.55"/>
<circle cx="633.6" cy="69.0" r="1.55"/>
<circle cx="664.7" cy="78.1" r="1.55"/>
<circle cx="666.6" cy="80.0" r="1.55"/>
<circle cx="642.9" cy="66.4" r="1.55"/>
<circle cx="651.2" cy="64.8" r="1.55"/>
<circle cx="642.8" cy="79.2" r="1.55"/>
<circle cx="630.1" cy="80.6" r="1.55"/>
<circle cx="639.1" cy="82.5" r="1.55"/>
<circle cx="654.7" cy="76.1" r="1.55"/>
<circle cx="641.8" cy="81.1" r="1.55"/>
<circle cx="665.2" cy="60.8" r="1.55"/>
<circle cx="638.2" cy="82.9" r="1.55"/>
<circle cx="639.9" cy="61.1" r="1.55"/>
<circle cx="647.7" cy="77.3" r="1.55"/>
<circle cx="650.9" cy="60.5" r="1.55"/>
<circle cx="635.5" cy="73.8" r="1.55"/>
<circle cx="635.6" cy="52.4" r="1.55"/>
<circle cx="671.7" cy="62.6" r="1.55"/>
<circle cx="649.7" cy="65.1" r="1.55"/>
<circle cx="627.5" cy="68.3" r="1.55"/>
<circle cx="636.1" cy="81.7" r="1.55"/>
<circle cx="643.3" cy="73.5" r="1.55"/>
<circle cx="657.7" cy="64.7" r="1.55"/>
<circle cx="654.2" cy="78.5" r="1.55"/>
<circle cx="658.8" cy="71.6" r="1.55"/>
<circle cx="664.5" cy="78.2" r="1.55"/>
<circle cx="620.0" cy="74.6" r="1.55"/>
<circle cx="649.0" cy="63.2" r="1.55"/>
<circle cx="656.9" cy="66.7" r="1.55"/>
<circle cx="645.4" cy="69.9" r="1.55"/>
<circle cx="653.5" cy="76.0" r="1.55"/>
<circle cx="638.6" cy="69.4" r="1.55"/>
<circle cx="662.1" cy="65.2" r="1.55"/>
<circle cx="656.8" cy="66.4" r="1.55"/>
<circle cx="663.0" cy="54.2" r="1.55"/>
<circle cx="651.8" cy="68.4" r="1.55"/>
<circle cx="663.0" cy="56.5" r="1.55"/>
<circle cx="654.8" cy="67.5" r="1.55"/>
<circle cx="652.2" cy="80.7" r="1.55"/>
<circle cx="663.8" cy="72.7" r="1.55"/>
<circle cx="631.8" cy="71.8" r="1.55"/>
<circle cx="631.7" cy="79.0" r="1.55"/>
<circle cx="651.5" cy="78.2" r="1.55"/>
<circle cx="663.4" cy="82.8" r="1.55"/>
<circle cx="654.3" cy="65.9" r="1.55"/>
<circle cx="667.8" cy="62.8" r="1.55"/>
<circle cx="653.9" cy="69.8" r="1.55"/>
<circle cx="650.7" cy="61.0" r="1.55"/>
<circle cx="643.9" cy="66.1" r="1.55"/>
<circle cx="650.3" cy="68.5" r="1.55"/>
<circle cx="648.4" cy="52.6" r="1.55"/>
<circle cx="643.9" cy="68.4" r="1.55"/>
<circle cx="654.5" cy="65.4" r="1.55"/>
<circle cx="656.4" cy="66.9" r="1.55"/>
<circle cx="662.4" cy="83.1" r="1.55"/>
<circle cx="651.5" cy="80.8" r="1.55"/>
<circle cx="654.0" cy="80.4" r="1.55"/>
<circle cx="640.5" cy="71.0" r="1.55"/>
<circle cx="667.1" cy="65.6" r="1.55"/>
<circle cx="654.7" cy="58.7" r="1.55"/>
<circle cx="640.7" cy="88.0" r="1.55"/>
<circle cx="646.6" cy="72.8" r="1.55"/>
<circle cx="665.3" cy="52.6" r="1.55"/>
<circle cx="669.0" cy="63.5" r="1.55"/>
<circle cx="652.3" cy="74.4" r="1.55"/>
<circle cx="652.9" cy="81.9" r="1.55"/>
<circle cx="656.7" cy="71.4" r="1.55"/>
<circle cx="655.1" cy="67.5" r="1.55"/>
<circle cx="639.4" cy="59.5" r="1.55"/>
<circle cx="639.9" cy="63.0" r="1.55"/>
<circle cx="633.4" cy="67.4" r="1.55"/>
<circle cx="642.1" cy="70.1" r="1.55"/>
<circle cx="644.0" cy="88.7" r="1.55"/>
<circle cx="638.8" cy="69.9" r="1.55"/>
<circle cx="658.4" cy="82.7" r="1.55"/>
<circle cx="627.4" cy="77.7" r="1.55"/>
<circle cx="649.0" cy="75.7" r="1.55"/>
<circle cx="642.3" cy="63.3" r="1.55"/>
<circle cx="662.3" cy="64.2" r="1.55"/>
<circle cx="640.8" cy="69.8" r="1.55"/>
<circle cx="649.2" cy="82.4" r="1.55"/>
<circle cx="661.4" cy="69.7" r="1.55"/>
<circle cx="645.9" cy="58.6" r="1.55"/>
<circle cx="660.0" cy="63.3" r="1.55"/>
<circle cx="664.9" cy="64.5" r="1.55"/>
<circle cx="637.1" cy="73.7" r="1.55"/>
<circle cx="662.7" cy="76.9" r="1.55"/>
<circle cx="651.8" cy="67.1" r="1.55"/>
<circle cx="667.7" cy="59.6" r="1.55"/>
<circle cx="661.5" cy="72.0" r="1.55"/>
<circle cx="661.7" cy="66.0" r="1.55"/>
<circle cx="649.5" cy="59.1" r="1.55"/>
<circle cx="657.0" cy="76.8" r="1.55"/>
<circle cx="665.7" cy="72.6" r="1.55"/>
<circle cx="658.1" cy="83.2" r="1.55"/>
<circle cx="651.1" cy="78.4" r="1.55"/>
<circle cx="640.4" cy="86.5" r="1.55"/>
<circle cx="654.0" cy="61.2" r="1.55"/>
<circle cx="650.0" cy="66.2" r="1.55"/>
<circle cx="636.0" cy="68.9" r="1.55"/>
<circle cx="646.7" cy="66.3" r="1.55"/>
<circle cx="653.4" cy="82.1" r="1.55"/>
<circle cx="630.4" cy="79.0" r="1.55"/>
<circle cx="659.6" cy="67.0" r="1.55"/>
<circle cx="655.9" cy="87.4" r="1.55"/>
<circle cx="647.6" cy="65.1" r="1.55"/>
<circle cx="634.1" cy="61.1" r="1.55"/>
<circle cx="621.2" cy="63.8" r="1.55"/>
<circle cx="624.0" cy="58.3" r="1.55"/>
<circle cx="620.8" cy="59.5" r="1.55"/>
<circle cx="631.6" cy="53.4" r="1.55"/>
<circle cx="628.3" cy="61.6" r="1.55"/>
<circle cx="646.1" cy="65.3" r="1.55"/>
<circle cx="605.4" cy="52.4" r="1.55"/>
<circle cx="615.2" cy="65.7" r="1.55"/>
<circle cx="620.5" cy="62.3" r="1.55"/>
<circle cx="619.1" cy="53.4" r="1.55"/>
<circle cx="616.3" cy="66.0" r="1.55"/>
<circle cx="612.9" cy="51.7" r="1.55"/>
<circle cx="622.4" cy="62.0" r="1.55"/>
<circle cx="637.9" cy="51.9" r="1.55"/>
<circle cx="626.0" cy="54.1" r="1.55"/>
<circle cx="615.1" cy="62.2" r="1.55"/>
<circle cx="629.0" cy="64.2" r="1.55"/>
<circle cx="615.6" cy="65.0" r="1.55"/>
<circle cx="615.0" cy="53.6" r="1.55"/>
<circle cx="638.7" cy="66.3" r="1.55"/>
<circle cx="618.9" cy="55.7" r="1.55"/>
<circle cx="641.6" cy="58.5" r="1.55"/>
<circle cx="635.6" cy="64.2" r="1.55"/>
<circle cx="638.1" cy="54.0" r="1.55"/>
<circle cx="621.4" cy="64.2" r="1.55"/>
<circle cx="604.8" cy="57.3" r="1.55"/>
<circle cx="631.5" cy="68.3" r="1.55"/>
<circle cx="626.5" cy="51.9" r="1.55"/>
<circle cx="604.6" cy="65.9" r="1.55"/>
<circle cx="605.9" cy="60.7" r="1.55"/>
<circle cx="620.4" cy="53.1" r="1.55"/>
<circle cx="606.3" cy="64.8" r="1.55"/>
<circle cx="645.0" cy="68.0" r="1.55"/>
<circle cx="614.9" cy="61.4" r="1.55"/>
<circle cx="603.4" cy="63.3" r="1.55"/>
<circle cx="630.1" cy="57.5" r="1.55"/>
<circle cx="630.4" cy="56.9" r="1.55"/>
<circle cx="630.7" cy="67.7" r="1.55"/>
<circle cx="632.5" cy="58.1" r="1.55"/>
<circle cx="613.0" cy="61.0" r="1.55"/>
<circle cx="613.9" cy="53.1" r="1.55"/>
<circle cx="615.7" cy="65.5" r="1.55"/>
<circle cx="638.8" cy="55.0" r="1.55"/>
<circle cx="664.8" cy="98.6" r="1.55"/>
<circle cx="654.4" cy="100.9" r="1.55"/>
<circle cx="657.7" cy="99.5" r="1.55"/>
<circle cx="667.0" cy="103.3" r="1.55"/>
<circle cx="662.8" cy="106.1" r="1.55"/>
<circle cx="648.9" cy="95.5" r="1.55"/>
<circle cx="650.4" cy="100.5" r="1.55"/>
<circle cx="666.3" cy="98.8" r="1.55"/>
<circle cx="656.1" cy="98.3" r="1.55"/>
<circle cx="667.8" cy="95.6" r="1.55"/>
<circle cx="648.7" cy="104.7" r="1.55"/>
<circle cx="651.3" cy="104.6" r="1.55"/>
<circle cx="592.8" cy="83.5" r="1.55"/>
<circle cx="565.1" cy="118.2" r="1.55"/>
<circle cx="573.3" cy="90.2" r="1.55"/>
<circle cx="593.1" cy="100.5" r="1.55"/>
<circle cx="587.3" cy="79.7" r="1.55"/>
<circle cx="590.6" cy="86.1" r="1.55"/>
<circle cx="599.2" cy="102.4" r="1.55"/>
<circle cx="565.8" cy="99.9" r="1.55"/>
<circle cx="575.3" cy="103.5" r="1.55"/>
<circle cx="594.6" cy="91.8" r="1.55"/>
<circle cx="589.1" cy="91.7" r="1.55"/>
<circle cx="565.2" cy="118.8" r="1.55"/>
<circle cx="576.4" cy="82.8" r="1.55"/>
<circle cx="587.7" cy="85.4" r="1.55"/>
<circle cx="586.6" cy="85.7" r="1.55"/>
<circle cx="603.2" cy="89.0" r="1.55"/>
<circle cx="597.2" cy="77.1" r="1.55"/>
<circle cx="591.8" cy="84.4" r="1.55"/>
<circle cx="562.4" cy="119.8" r="1.55"/>
<circle cx="599.9" cy="110.7" r="1.55"/>
<circle cx="572.5" cy="115.3" r="1.55"/>
<circle cx="587.1" cy="120.1" r="1.55"/>
<circle cx="594.4" cy="107.9" r="1.55"/>
<circle cx="592.0" cy="80.0" r="1.55"/>
<circle cx="589.6" cy="102.1" r="1.55"/>
<circle cx="586.7" cy="82.5" r="1.55"/>
<circle cx="590.5" cy="110.0" r="1.55"/>
<circle cx="586.6" cy="118.6" r="1.55"/>
<circle cx="583.4" cy="94.6" r="1.55"/>
<circle cx="571.9" cy="81.1" r="1.55"/>
<circle cx="569.5" cy="114.9" r="1.55"/>
<circle cx="572.6" cy="106.1" r="1.55"/>
<circle cx="598.2" cy="91.5" r="1.55"/>
<circle cx="564.3" cy="103.5" r="1.55"/>
<circle cx="596.9" cy="117.2" r="1.55"/>
<circle cx="581.1" cy="110.3" r="1.55"/>
<circle cx="571.6" cy="87.4" r="1.55"/>
<circle cx="602.3" cy="108.8" r="1.55"/>
<circle cx="583.0" cy="107.3" r="1.55"/>
<circle cx="565.8" cy="90.1" r="1.55"/>
<circle cx="592.1" cy="115.0" r="1.55"/>
<circle cx="585.4" cy="112.0" r="1.55"/>
<circle cx="592.8" cy="108.5" r="1.55"/>
<circle cx="589.5" cy="92.0" r="1.55"/>
<circle cx="584.5" cy="111.6" r="1.55"/>
<circle cx="596.0" cy="105.3" r="1.55"/>
<circle cx="593.1" cy="99.8" r="1.55"/>
<circle cx="578.8" cy="89.0" r="1.55"/>
<circle cx="574.0" cy="86.7" r="1.55"/>
<circle cx="578.7" cy="87.7" r="1.55"/>
<circle cx="589.9" cy="78.4" r="1.55"/>
<circle cx="577.0" cy="105.6" r="1.55"/>
<circle cx="603.1" cy="98.0" r="1.55"/>
<circle cx="577.5" cy="89.5" r="1.55"/>
<circle cx="570.0" cy="77.8" r="1.55"/>
<circle cx="592.4" cy="91.9" r="1.55"/>
<circle cx="571.9" cy="84.6" r="1.55"/>
<circle cx="599.7" cy="85.4" r="1.55"/>
<circle cx="591.8" cy="82.0" r="1.55"/>
<circle cx="580.1" cy="117.8" r="1.55"/>
<circle cx="583.0" cy="110.4" r="1.55"/>
<circle cx="595.9" cy="92.6" r="1.55"/>
<circle cx="592.2" cy="90.9" r="1.55"/>
<circle cx="579.5" cy="116.0" r="1.55"/>
<circle cx="571.7" cy="98.4" r="1.55"/>
<circle cx="584.8" cy="107.8" r="1.55"/>
<circle cx="564.5" cy="105.9" r="1.55"/>
<circle cx="568.7" cy="103.5" r="1.55"/>
<circle cx="583.0" cy="110.0" r="1.55"/>
<circle cx="580.9" cy="96.3" r="1.55"/>
<circle cx="582.8" cy="114.8" r="1.55"/>
<circle cx="591.2" cy="99.5" r="1.55"/>
<circle cx="570.3" cy="104.2" r="1.55"/>
<circle cx="580.3" cy="104.6" r="1.55"/>
<circle cx="569.9" cy="102.5" r="1.55"/>
<circle cx="553.3" cy="170.5" r="1.55"/>
<circle cx="529.2" cy="170.6" r="1.55"/>
<circle cx="593.4" cy="170.8" r="1.55"/>
<circle cx="573.0" cy="170.6" r="1.55"/>
<circle cx="607.7" cy="170.5" r="1.55"/>
<circle cx="598.8" cy="170.9" r="1.55"/>
<circle cx="526.6" cy="170.7" r="1.55"/>
<circle cx="526.0" cy="170.5" r="1.55"/>
<circle cx="577.4" cy="170.9" r="1.55"/>
<circle cx="589.0" cy="170.4" r="1.55"/>
<circle cx="606.9" cy="170.8" r="1.55"/>
<circle cx="517.2" cy="169.8" r="1.55"/>
<circle cx="535.2" cy="170.8" r="1.55"/>
<circle cx="601.0" cy="169.9" r="1.55"/>
<circle cx="514.5" cy="170.8" r="1.55"/>
<circle cx="565.3" cy="170.8" r="1.55"/>
<circle cx="585.7" cy="170.3" r="1.55"/>
<circle cx="533.5" cy="170.9" r="1.55"/>
<circle cx="531.8" cy="170.6" r="1.55"/>
<circle cx="600.8" cy="170.4" r="1.55"/>
<circle cx="521.1" cy="170.8" r="1.55"/>
<circle cx="555.4" cy="170.6" r="1.55"/>
<circle cx="608.1" cy="170.8" r="1.55"/>
<circle cx="535.8" cy="170.4" r="1.55"/>
<circle cx="555.2" cy="170.7" r="1.55"/>
<circle cx="575.2" cy="169.9" r="1.55"/>
<circle cx="553.7" cy="170.8" r="1.55"/>
<circle cx="590.4" cy="170.3" r="1.55"/>
<circle cx="553.9" cy="170.8" r="1.55"/>
<circle cx="578.4" cy="169.8" r="1.55"/>
<circle cx="548.4" cy="170.8" r="1.55"/>
<circle cx="517.7" cy="170.5" r="1.55"/>
<circle cx="535.0" cy="170.7" r="1.55"/>
<circle cx="554.3" cy="170.0" r="1.55"/>
<circle cx="603.7" cy="170.6" r="1.55"/>
<circle cx="547.9" cy="170.7" r="1.55"/>
<circle cx="589.6" cy="170.8" r="1.55"/>
<circle cx="601.5" cy="169.8" r="1.55"/>
<circle cx="540.1" cy="170.1" r="1.55"/>
<circle cx="512.0" cy="170.7" r="1.55"/>
<circle cx="551.6" cy="170.0" r="1.55"/>
<circle cx="557.2" cy="170.6" r="1.55"/>
<circle cx="596.1" cy="170.2" r="1.55"/>
<circle cx="584.6" cy="169.2" r="1.55"/>
<circle cx="553.7" cy="170.2" r="1.55"/>
<circle cx="584.2" cy="170.6" r="1.55"/>
<circle cx="549.2" cy="170.8" r="1.55"/>
<circle cx="595.3" cy="170.5" r="1.55"/>
<circle cx="538.5" cy="170.1" r="1.55"/>
<circle cx="527.3" cy="170.1" r="1.55"/>
<circle cx="534.6" cy="170.0" r="1.55"/>
<circle cx="570.9" cy="170.4" r="1.55"/>
<circle cx="529.3" cy="170.0" r="1.55"/>
<circle cx="589.4" cy="170.2" r="1.55"/>
<circle cx="541.8" cy="170.9" r="1.55"/>
<circle cx="517.0" cy="170.3" r="1.55"/>
<circle cx="511.9" cy="170.4" r="1.55"/>
<circle cx="574.5" cy="170.6" r="1.55"/>
<circle cx="532.4" cy="170.2" r="1.55"/>
<circle cx="553.3" cy="170.2" r="1.55"/>
<circle cx="521.2" cy="170.2" r="1.55"/>
<circle cx="600.3" cy="170.8" r="1.55"/>
<circle cx="517.5" cy="170.1" r="1.55"/>
<circle cx="541.4" cy="170.9" r="1.55"/>
<circle cx="609.0" cy="170.5" r="1.55"/>
<circle cx="602.2" cy="170.5" r="1.55"/>
<circle cx="512.3" cy="170.8" r="1.55"/>
<circle cx="516.9" cy="170.7" r="1.55"/>
<circle cx="600.9" cy="170.3" r="1.55"/>
<circle cx="512.1" cy="170.8" r="1.55"/>
<circle cx="536.8" cy="170.7" r="1.55"/>
<circle cx="607.0" cy="170.7" r="1.55"/>
<circle cx="604.1" cy="170.4" r="1.55"/>
<circle cx="592.1" cy="170.3" r="1.55"/>
<circle cx="538.8" cy="170.6" r="1.55"/>
<circle cx="538.5" cy="170.6" r="1.55"/>
<circle cx="592.3" cy="170.4" r="1.55"/>
<circle cx="526.9" cy="170.2" r="1.55"/>
<circle cx="556.0" cy="170.6" r="1.55"/>
<circle cx="541.4" cy="170.7" r="1.55"/>
<circle cx="599.7" cy="170.1" r="1.55"/>
<circle cx="602.1" cy="170.2" r="1.55"/>
<circle cx="604.1" cy="170.7" r="1.55"/>
<circle cx="566.6" cy="170.4" r="1.55"/>
<circle cx="538.3" cy="169.6" r="1.55"/>
<circle cx="570.3" cy="170.5" r="1.55"/>
<circle cx="556.5" cy="170.3" r="1.55"/>
<circle cx="586.7" cy="170.8" r="1.55"/>
<circle cx="529.9" cy="170.6" r="1.55"/>
<circle cx="559.4" cy="170.2" r="1.55"/>
<circle cx="555.9" cy="170.5" r="1.55"/>
<circle cx="539.6" cy="170.8" r="1.55"/>
<circle cx="592.9" cy="170.8" r="1.55"/>
<circle cx="581.6" cy="170.1" r="1.55"/>
<circle cx="530.1" cy="170.9" r="1.55"/>
<circle cx="584.7" cy="170.6" r="1.55"/>
<circle cx="569.4" cy="170.8" r="1.55"/>
<circle cx="524.2" cy="170.7" r="1.55"/>
<circle cx="542.5" cy="170.3" r="1.55"/>
<circle cx="561.5" cy="170.7" r="1.55"/>
<circle cx="579.4" cy="170.6" r="1.55"/>
<circle cx="595.7" cy="170.6" r="1.55"/>
<circle cx="576.7" cy="170.4" r="1.55"/>
<circle cx="519.5" cy="170.3" r="1.55"/>
<circle cx="594.4" cy="170.5" r="1.55"/>
<circle cx="520.0" cy="170.1" r="1.55"/>
<circle cx="579.4" cy="170.5" r="1.55"/>
<circle cx="517.1" cy="170.0" r="1.55"/>
<circle cx="579.5" cy="170.3" r="1.55"/>
<circle cx="591.1" cy="170.4" r="1.55"/>
<circle cx="559.2" cy="170.7" r="1.55"/>
<circle cx="547.9" cy="170.7" r="1.55"/>
<circle cx="512.6" cy="170.5" r="1.55"/>
<circle cx="554.3" cy="170.9" r="1.55"/>
<circle cx="575.4" cy="169.9" r="1.55"/>
<circle cx="596.7" cy="170.5" r="1.55"/>
<circle cx="570.7" cy="170.8" r="1.55"/>
<circle cx="593.9" cy="170.7" r="1.55"/>
<circle cx="576.1" cy="170.6" r="1.55"/>
<circle cx="560.7" cy="170.6" r="1.55"/>
<circle cx="525.7" cy="170.7" r="1.55"/>
<circle cx="538.4" cy="170.5" r="1.55"/>
<circle cx="509.5" cy="170.8" r="1.55"/>
<circle cx="571.4" cy="170.9" r="1.55"/>
<circle cx="566.2" cy="170.9" r="1.55"/>
<circle cx="575.3" cy="170.7" r="1.55"/>
<circle cx="568.8" cy="170.9" r="1.55"/>
<circle cx="524.6" cy="170.7" r="1.55"/>
<circle cx="514.5" cy="170.8" r="1.55"/>
<circle cx="544.9" cy="170.8" r="1.55"/>
<circle cx="554.8" cy="170.6" r="1.55"/>
<circle cx="598.5" cy="169.5" r="1.55"/>
<circle cx="592.3" cy="170.4" r="1.55"/>
<circle cx="604.2" cy="170.4" r="1.55"/>
<circle cx="556.2" cy="170.4" r="1.55"/>
<circle cx="552.1" cy="170.5" r="1.55"/>
<circle cx="576.2" cy="170.8" r="1.55"/>
<circle cx="563.4" cy="170.8" r="1.55"/>
<circle cx="570.8" cy="170.1" r="1.55"/>
<circle cx="560.8" cy="170.0" r="1.55"/>
<circle cx="554.0" cy="170.5" r="1.55"/>
<circle cx="531.8" cy="170.8" r="1.55"/>
<circle cx="590.5" cy="170.8" r="1.55"/>
<circle cx="529.0" cy="170.5" r="1.55"/>
<circle cx="521.5" cy="170.6" r="1.55"/>
<circle cx="601.1" cy="170.6" r="1.55"/>
<circle cx="591.8" cy="170.8" r="1.55"/>
<circle cx="511.3" cy="170.1" r="1.55"/>
<circle cx="601.3" cy="170.7" r="1.55"/>
<circle cx="550.0" cy="170.8" r="1.55"/>
<circle cx="520.4" cy="170.5" r="1.55"/>
<circle cx="574.5" cy="170.9" r="1.55"/>
<circle cx="509.4" cy="170.9" r="1.55"/>
<circle cx="592.2" cy="170.8" r="1.55"/>
<circle cx="516.7" cy="170.9" r="1.55"/>
<circle cx="517.1" cy="170.7" r="1.55"/>
<circle cx="591.7" cy="170.7" r="1.55"/>
<circle cx="550.2" cy="170.7" r="1.55"/>
<circle cx="549.5" cy="170.7" r="1.55"/>
<circle cx="563.3" cy="170.1" r="1.55"/>
<circle cx="589.4" cy="170.7" r="1.55"/>
<circle cx="544.8" cy="170.6" r="1.55"/>
<circle cx="580.5" cy="170.7" r="1.55"/>
<circle cx="607.1" cy="169.9" r="1.55"/>
<circle cx="543.6" cy="170.3" r="1.55"/>
<circle cx="516.1" cy="169.9" r="1.55"/>
<circle cx="538.4" cy="170.2" r="1.55"/>
<circle cx="609.0" cy="170.0" r="1.55"/>
<circle cx="528.7" cy="170.2" r="1.55"/>
<circle cx="552.9" cy="170.5" r="1.55"/>
<circle cx="556.5" cy="170.9" r="1.55"/>
<circle cx="601.1" cy="170.7" r="1.55"/>
<circle cx="578.8" cy="170.6" r="1.55"/>
<circle cx="526.9" cy="170.2" r="1.55"/>
<circle cx="554.6" cy="170.7" r="1.55"/>
<circle cx="511.7" cy="170.0" r="1.55"/>
<circle cx="518.4" cy="170.8" r="1.55"/>
<circle cx="546.3" cy="170.6" r="1.55"/>
<circle cx="606.6" cy="170.4" r="1.55"/>
<circle cx="550.1" cy="170.6" r="1.55"/>
<circle cx="580.7" cy="170.9" r="1.55"/>
<circle cx="581.7" cy="169.8" r="1.55"/>
<circle cx="526.7" cy="170.2" r="1.55"/>
<circle cx="601.8" cy="170.5" r="1.55"/>
<circle cx="589.9" cy="170.4" r="1.55"/>
<circle cx="589.6" cy="170.5" r="1.55"/>
<circle cx="566.0" cy="170.8" r="1.55"/>
<circle cx="573.1" cy="170.3" r="1.55"/>
<circle cx="515.4" cy="170.7" r="1.55"/>
<circle cx="591.8" cy="170.2" r="1.55"/>
<circle cx="541.5" cy="170.6" r="1.55"/>
<circle cx="522.3" cy="170.8" r="1.55"/>
<circle cx="535.2" cy="170.3" r="1.55"/>
<circle cx="584.2" cy="170.3" r="1.55"/>
<circle cx="550.4" cy="170.1" r="1.55"/>
<circle cx="515.9" cy="170.1" r="1.55"/>
<circle cx="522.9" cy="170.6" r="1.55"/>
<circle cx="582.0" cy="170.0" r="1.55"/>
<circle cx="560.4" cy="170.2" r="1.55"/>
<circle cx="565.8" cy="170.7" r="1.55"/>
<circle cx="628.2" cy="169.3" r="1.55"/>
<circle cx="620.7" cy="169.3" r="1.55"/>
<circle cx="634.4" cy="170.8" r="1.55"/>
<circle cx="634.2" cy="169.6" r="1.55"/>
<circle cx="631.5" cy="169.9" r="1.55"/>
<circle cx="632.9" cy="170.6" r="1.55"/>
<circle cx="626.3" cy="170.2" r="1.55"/>
<circle cx="633.8" cy="170.8" r="1.55"/>
<circle cx="622.1" cy="169.8" r="1.55"/>
<circle cx="620.7" cy="169.5" r="1.55"/>
<circle cx="636.1" cy="170.0" r="1.55"/>
<circle cx="633.4" cy="169.1" r="1.55"/>
<circle cx="625.1" cy="167.9" r="1.55"/>
<circle cx="635.6" cy="169.3" r="1.55"/>
<circle cx="627.9" cy="168.5" r="1.55"/>
<circle cx="630.2" cy="170.9" r="1.55"/>
<circle cx="632.8" cy="168.9" r="1.55"/>
<circle cx="634.1" cy="168.3" r="1.55"/>
<circle cx="559.2" cy="140.7" r="1.55"/>
<circle cx="537.6" cy="166.3" r="1.55"/>
<circle cx="547.5" cy="166.0" r="1.55"/>
<circle cx="542.0" cy="168.1" r="1.55"/>
<circle cx="557.6" cy="167.6" r="1.55"/>
<circle cx="560.2" cy="170.0" r="1.55"/>
<circle cx="555.2" cy="161.6" r="1.55"/>
<circle cx="549.9" cy="165.6" r="1.55"/>
<circle cx="559.7" cy="163.2" r="1.55"/>
<circle cx="548.6" cy="154.2" r="1.55"/>
<circle cx="548.3" cy="165.1" r="1.55"/>
<circle cx="544.1" cy="153.8" r="1.55"/>
<circle cx="539.9" cy="170.7" r="1.55"/>
<circle cx="560.0" cy="126.6" r="1.55"/>
<circle cx="554.2" cy="152.7" r="1.55"/>
<circle cx="561.1" cy="149.3" r="1.55"/>
<circle cx="537.0" cy="169.1" r="1.55"/>
<circle cx="550.2" cy="154.1" r="1.55"/>
<circle cx="559.4" cy="167.6" r="1.55"/>
<circle cx="558.6" cy="146.2" r="1.55"/>
<circle cx="555.4" cy="153.9" r="1.55"/>
<circle cx="544.2" cy="164.7" r="1.55"/>
<circle cx="543.7" cy="163.0" r="1.55"/>
<circle cx="552.0" cy="142.6" r="1.55"/>
<circle cx="541.1" cy="165.3" r="1.55"/>
<circle cx="550.3" cy="145.8" r="1.55"/>
<circle cx="554.9" cy="146.1" r="1.55"/>
<circle cx="553.9" cy="153.9" r="1.55"/>
<circle cx="557.3" cy="133.4" r="1.55"/>
<circle cx="551.2" cy="167.1" r="1.55"/>
<circle cx="547.6" cy="164.2" r="1.55"/>
<circle cx="541.6" cy="167.0" r="1.55"/>
<circle cx="557.7" cy="155.1" r="1.55"/>
<circle cx="547.7" cy="161.2" r="1.55"/>
<circle cx="541.4" cy="163.5" r="1.55"/>
<circle cx="547.3" cy="147.7" r="1.55"/>
<circle cx="552.5" cy="136.5" r="1.55"/>
<circle cx="558.7" cy="147.6" r="1.55"/>
<circle cx="537.1" cy="170.0" r="1.55"/>
<circle cx="539.7" cy="163.9" r="1.55"/>
<circle cx="540.2" cy="164.1" r="1.55"/>
<circle cx="544.9" cy="161.3" r="1.55"/>
<circle cx="556.1" cy="158.3" r="1.55"/>
<circle cx="541.1" cy="167.4" r="1.55"/>
<circle cx="560.9" cy="142.2" r="1.55"/>
<circle cx="544.0" cy="168.3" r="1.55"/>
<circle cx="538.4" cy="168.6" r="1.55"/>
<circle cx="552.4" cy="154.9" r="1.55"/>
<circle cx="557.5" cy="126.1" r="1.55"/>
<circle cx="551.3" cy="159.6" r="1.55"/>
<circle cx="557.0" cy="167.0" r="1.55"/>
<circle cx="556.1" cy="133.5" r="1.55"/>
<circle cx="556.6" cy="166.6" r="1.55"/>
<circle cx="551.6" cy="144.2" r="1.55"/>
<circle cx="547.2" cy="150.2" r="1.55"/>
<circle cx="540.9" cy="164.6" r="1.55"/>
<circle cx="551.0" cy="145.6" r="1.55"/>
<circle cx="547.2" cy="164.6" r="1.55"/>
<circle cx="554.9" cy="166.3" r="1.55"/>
<circle cx="546.1" cy="160.5" r="1.55"/>
<circle cx="556.9" cy="152.3" r="1.55"/>
<circle cx="551.1" cy="149.0" r="1.55"/>
<circle cx="554.0" cy="134.2" r="1.55"/>
<circle cx="548.5" cy="155.4" r="1.55"/>
<circle cx="537.1" cy="170.1" r="1.55"/>
<circle cx="543.0" cy="167.5" r="1.55"/>
<circle cx="550.0" cy="164.9" r="1.55"/>
<circle cx="551.3" cy="143.9" r="1.55"/>
<circle cx="538.5" cy="169.2" r="1.55"/>
<circle cx="549.4" cy="169.6" r="1.55"/>
<circle cx="580.1" cy="121.9" r="1.55"/>
<circle cx="559.5" cy="143.9" r="1.55"/>
<circle cx="550.0" cy="155.6" r="1.55"/>
<circle cx="570.1" cy="120.2" r="1.55"/>
<circle cx="578.4" cy="152.5" r="1.55"/>
<circle cx="559.1" cy="134.2" r="1.55"/>
<circle cx="568.2" cy="124.1" r="1.55"/>
<circle cx="571.9" cy="122.8" r="1.55"/>
<circle cx="579.9" cy="157.2" r="1.55"/>
<circle cx="591.8" cy="128.0" r="1.55"/>
<circle cx="579.1" cy="158.9" r="1.55"/>
<circle cx="591.2" cy="142.8" r="1.55"/>
<circle cx="577.5" cy="152.9" r="1.55"/>
<circle cx="585.7" cy="144.4" r="1.55"/>
<circle cx="591.4" cy="129.6" r="1.55"/>
<circle cx="582.1" cy="144.3" r="1.55"/>
<circle cx="573.0" cy="152.9" r="1.55"/>
<circle cx="571.3" cy="131.5" r="1.55"/>
<circle cx="587.3" cy="167.1" r="1.55"/>
<circle cx="564.0" cy="132.5" r="1.55"/>
<circle cx="591.0" cy="134.9" r="1.55"/>
<circle cx="577.6" cy="147.8" r="1.55"/>
<circle cx="552.9" cy="152.3" r="1.55"/>
<circle cx="587.9" cy="160.9" r="1.55"/>
<circle cx="573.9" cy="150.1" r="1.55"/>
<circle cx="564.6" cy="128.2" r="1.55"/>
<circle cx="566.9" cy="117.5" r="1.55"/>
<circle cx="570.3" cy="126.7" r="1.55"/>
<circle cx="588.7" cy="136.9" r="1.55"/>
<circle cx="594.1" cy="136.7" r="1.55"/>
<circle cx="583.3" cy="161.9" r="1.55"/>
<circle cx="579.1" cy="151.2" r="1.55"/>
<circle cx="585.6" cy="140.7" r="1.55"/>
<circle cx="559.6" cy="148.1" r="1.55"/>
<circle cx="595.0" cy="130.2" r="1.55"/>
<circle cx="567.5" cy="116.7" r="1.55"/>
<circle cx="587.8" cy="147.0" r="1.55"/>
<circle cx="581.3" cy="144.6" r="1.55"/>
<circle cx="578.5" cy="162.0" r="1.55"/>
<circle cx="557.8" cy="149.4" r="1.55"/>
<circle cx="580.3" cy="161.3" r="1.55"/>
<circle cx="592.6" cy="130.5" r="1.55"/>
<circle cx="586.8" cy="142.2" r="1.55"/>
<circle cx="551.1" cy="159.7" r="1.55"/>
<circle cx="586.6" cy="125.4" r="1.55"/>
<circle cx="588.8" cy="126.4" r="1.55"/>
<circle cx="559.0" cy="131.2" r="1.55"/>
<circle cx="570.8" cy="120.6" r="1.55"/>
<circle cx="585.1" cy="141.4" r="1.55"/>
<circle cx="595.1" cy="140.9" r="1.55"/>
<circle cx="591.0" cy="144.2" r="1.55"/>
<circle cx="584.4" cy="140.9" r="1.55"/>
<circle cx="559.4" cy="149.3" r="1.55"/>
<circle cx="574.3" cy="119.6" r="1.55"/>
<circle cx="580.9" cy="161.8" r="1.55"/>
<circle cx="559.5" cy="141.3" r="1.55"/>
<circle cx="574.4" cy="118.0" r="1.55"/>
<circle cx="564.0" cy="148.6" r="1.55"/>
<circle cx="558.3" cy="139.3" r="1.55"/>
<circle cx="593.1" cy="137.3" r="1.55"/>
<circle cx="569.6" cy="123.6" r="1.55"/>
<circle cx="565.0" cy="125.1" r="1.55"/>
<circle cx="573.2" cy="113.2" r="1.55"/>
<circle cx="578.9" cy="119.9" r="1.55"/>
<circle cx="585.0" cy="144.0" r="1.55"/>
<circle cx="554.2" cy="136.8" r="1.55"/>
<circle cx="589.5" cy="127.5" r="1.55"/>
<circle cx="584.3" cy="145.3" r="1.55"/>
<circle cx="584.4" cy="129.9" r="1.55"/>
<circle cx="589.6" cy="139.1" r="1.55"/>
<circle cx="563.5" cy="123.6" r="1.55"/>
<circle cx="579.9" cy="154.5" r="1.55"/>
<circle cx="582.1" cy="137.3" r="1.55"/>
<circle cx="561.6" cy="142.0" r="1.55"/>
<circle cx="575.6" cy="159.6" r="1.55"/>
<circle cx="577.4" cy="163.5" r="1.55"/>
<circle cx="556.1" cy="156.5" r="1.55"/>
<circle cx="596.8" cy="136.4" r="1.55"/>
<circle cx="581.3" cy="117.9" r="1.55"/>
<circle cx="572.2" cy="118.7" r="1.55"/>
<circle cx="586.8" cy="166.1" r="1.55"/>
<circle cx="583.5" cy="160.3" r="1.55"/>
<circle cx="592.8" cy="137.5" r="1.55"/>
<circle cx="578.1" cy="121.9" r="1.55"/>
<circle cx="593.6" cy="137.1" r="1.55"/>
<circle cx="569.2" cy="121.7" r="1.55"/>
<circle cx="593.0" cy="134.0" r="1.55"/>
<circle cx="570.9" cy="121.2" r="1.55"/>
<circle cx="557.6" cy="148.8" r="1.55"/>
<circle cx="578.8" cy="160.5" r="1.55"/>
<circle cx="581.6" cy="127.1" r="1.55"/>
<circle cx="585.5" cy="124.4" r="1.55"/>
<circle cx="563.1" cy="130.1" r="1.55"/>
<circle cx="591.4" cy="132.1" r="1.55"/>
<circle cx="570.5" cy="117.5" r="1.55"/>
<circle cx="587.0" cy="124.6" r="1.55"/>
<circle cx="585.7" cy="121.7" r="1.55"/>
<circle cx="582.0" cy="160.3" r="1.55"/>
<circle cx="552.8" cy="153.9" r="1.55"/>
<circle cx="571.3" cy="107.2" r="1.55"/>
<circle cx="555.2" cy="134.7" r="1.55"/>
<circle cx="585.8" cy="124.0" r="1.55"/>
<circle cx="579.7" cy="119.8" r="1.55"/>
<circle cx="592.2" cy="131.5" r="1.55"/>
<circle cx="577.8" cy="158.7" r="1.55"/>
<circle cx="585.4" cy="140.3" r="1.55"/>
<circle cx="578.6" cy="150.8" r="1.55"/>
<circle cx="585.4" cy="148.2" r="1.55"/>
<circle cx="587.7" cy="123.6" r="1.55"/>
<circle cx="582.4" cy="160.3" r="1.55"/>
<circle cx="606.8" cy="158.0" r="1.55"/>
<circle cx="599.9" cy="167.1" r="1.55"/>
<circle cx="536.6" cy="166.3" r="1.55"/>
<circle cx="540.1" cy="161.8" r="1.55"/>
<circle cx="545.2" cy="155.7" r="1.55"/>
<circle cx="541.8" cy="167.9" r="1.55"/>
<circle cx="548.6" cy="148.1" r="1.55"/>
<circle cx="546.9" cy="136.7" r="1.55"/>
<circle cx="551.4" cy="132.9" r="1.55"/>
</g>
<rect x="500.6" y="43.3" width="181.4" height="133.9" fill="none" stroke="#000" stroke-width="1.1"/>
<line x1="528.1" y1="177.2" x2="528.1" y2="179.79999999999998" stroke="#000" stroke-width="0.8"/>
<text x="528.10" y="186.50" font-size="7.8" text-anchor="middle" fill="#080808">0.1</text>
<line x1="562.3" y1="177.2" x2="562.3" y2="179.79999999999998" stroke="#000" stroke-width="0.8"/>
<text x="562.30" y="186.50" font-size="7.8" text-anchor="middle" fill="#080808">0.2</text>
<line x1="596.5" y1="177.2" x2="596.5" y2="179.79999999999998" stroke="#000" stroke-width="0.8"/>
<text x="596.50" y="186.50" font-size="7.8" text-anchor="middle" fill="#080808">0.3</text>
<line x1="630.7" y1="177.2" x2="630.7" y2="179.79999999999998" stroke="#000" stroke-width="0.8"/>
<text x="630.70" y="186.50" font-size="7.8" text-anchor="middle" fill="#080808">0.4</text>
<line x1="664.9" y1="177.2" x2="664.9" y2="179.79999999999998" stroke="#000" stroke-width="0.8"/>
<text x="664.90" y="186.50" font-size="7.8" text-anchor="middle" fill="#080808">0.5</text>
<line x1="498.0" y1="170.9" x2="500.6" y2="170.9" stroke="#000" stroke-width="0.8"/>
<text x="497.20" y="173.70" font-size="7.8" text-anchor="end" fill="#080808">0.00</text>
<line x1="498.0" y1="155.7" x2="500.6" y2="155.7" stroke="#000" stroke-width="0.8"/>
<text x="497.20" y="158.50" font-size="7.8" text-anchor="end" fill="#080808">0.02</text>
<line x1="498.0" y1="140.5" x2="500.6" y2="140.5" stroke="#000" stroke-width="0.8"/>
<text x="497.20" y="143.30" font-size="7.8" text-anchor="end" fill="#080808">0.04</text>
<line x1="498.0" y1="125.3" x2="500.6" y2="125.3" stroke="#000" stroke-width="0.8"/>
<text x="497.20" y="128.10" font-size="7.8" text-anchor="end" fill="#080808">0.06</text>
<line x1="498.0" y1="110.1" x2="500.6" y2="110.1" stroke="#000" stroke-width="0.8"/>
<text x="497.20" y="112.90" font-size="7.8" text-anchor="end" fill="#080808">0.08</text>
<line x1="498.0" y1="94.9" x2="500.6" y2="94.9" stroke="#000" stroke-width="0.8"/>
<text x="497.20" y="97.70" font-size="7.8" text-anchor="end" fill="#080808">0.10</text>
<line x1="498.0" y1="79.7" x2="500.6" y2="79.7" stroke="#000" stroke-width="0.8"/>
<text x="497.20" y="82.50" font-size="7.8" text-anchor="end" fill="#080808">0.12</text>
<line x1="498.0" y1="64.5" x2="500.6" y2="64.5" stroke="#000" stroke-width="0.8"/>
<text x="497.20" y="67.30" font-size="7.8" text-anchor="end" fill="#080808">0.14</text>
<line x1="498.0" y1="49.3" x2="500.6" y2="49.3" stroke="#000" stroke-width="0.8"/>
<text x="497.20" y="52.10" font-size="7.8" text-anchor="end" fill="#080808">0.16</text>
<text x="591.50" y="194.50" font-size="8.6" font-style="italic" text-anchor="middle" fill="#080808">THE1B/CIR1</text>
<text transform="translate(478.4,108.6) rotate(-90)" font-size="9.0" font-style="italic" text-anchor="middle" fill="#111">TREM2</text>
<text x="332.70" y="246.90" font-size="11.9" font-style="italic" text-anchor="middle" fill="#080808">TREM2.1</text>
<text x="307.90" y="267.80" font-size="9.0" fill="#080808"><tspan font-style="italic">P</tspan><tspan font-size="6.7" font-style="italic" dy="2.61">adj</tspan><tspan dy="-2.61"> = 2.8 x 10</tspan><tspan font-size="6.3" dy="-3.78">-7</tspan></text>
<polyline points="308.5,281.2 308.5,275.3 359.3,275.3 359.3,388.2" fill="none" stroke="#3a3030" stroke-width="0.9"/>
<polygon points="307.30,443.50 306.70,440.82 306.40,434.56 306.40,421.15 306.70,407.74 307.20,394.33 307.60,380.92 307.90,363.04 308.10,336.22 308.20,309.40 308.25,286.60 308.75,286.60 308.80,309.40 308.90,336.22 309.10,363.04 309.40,380.92 309.80,394.33 310.30,407.74 310.60,421.15 310.60,434.56 310.30,440.82 309.70,443.50" fill="#858585" stroke="#707070" stroke-width="0.55"/>
<circle cx="308.70" cy="321.38" r="1.35" fill="#f2424b"/>
<circle cx="308.50" cy="378.24" r="1.35" fill="#f2424b"/>
<circle cx="309.30" cy="398.00" r="1.35" fill="#f2424b"/>
<circle cx="306.90" cy="401.12" r="1.35" fill="#f2424b"/>
<circle cx="310.50" cy="415.07" r="1.35" fill="#f2424b"/>
<circle cx="306.90" cy="417.31" r="1.35" fill="#f2424b"/>
<circle cx="310.00" cy="430.81" r="1.35" fill="#f2424b"/>
<circle cx="306.90" cy="433.49" r="1.35" fill="#f2424b"/>
<circle cx="309.10" cy="440.19" r="1.35" fill="#f2424b"/>
<circle cx="307.30" cy="442.43" r="1.35" fill="#f2424b"/>
<line x1="359.30" y1="395.22" x2="359.30" y2="443.50" stroke="#777" stroke-width="0.6"/>
<circle cx="339.00" cy="441.70" r="1.45" fill="#45e6e0"/>
<circle cx="340.62" cy="441.70" r="1.45" fill="#45e6e0"/>
<circle cx="342.25" cy="441.70" r="1.45" fill="#45e6e0"/>
<circle cx="343.87" cy="441.70" r="1.45" fill="#45e6e0"/>
<circle cx="345.50" cy="441.70" r="1.45" fill="#45e6e0"/>
<circle cx="347.12" cy="441.70" r="1.45" fill="#45e6e0"/>
<circle cx="348.74" cy="441.70" r="1.45" fill="#45e6e0"/>
<circle cx="350.37" cy="441.70" r="1.45" fill="#45e6e0"/>
<circle cx="351.99" cy="441.70" r="1.45" fill="#45e6e0"/>
<circle cx="353.62" cy="441.70" r="1.45" fill="#45e6e0"/>
<circle cx="355.24" cy="441.70" r="1.45" fill="#45e6e0"/>
<circle cx="356.86" cy="441.70" r="1.45" fill="#45e6e0"/>
<circle cx="358.49" cy="441.70" r="1.45" fill="#45e6e0"/>
<circle cx="360.11" cy="441.70" r="1.45" fill="#45e6e0"/>
<circle cx="361.74" cy="441.70" r="1.45" fill="#45e6e0"/>
<circle cx="363.36" cy="441.70" r="1.45" fill="#45e6e0"/>
<circle cx="364.98" cy="441.70" r="1.45" fill="#45e6e0"/>
<circle cx="366.61" cy="441.70" r="1.45" fill="#45e6e0"/>
<circle cx="368.23" cy="441.70" r="1.45" fill="#45e6e0"/>
<circle cx="369.86" cy="441.70" r="1.45" fill="#45e6e0"/>
<circle cx="371.48" cy="441.70" r="1.45" fill="#45e6e0"/>
<circle cx="373.10" cy="441.70" r="1.45" fill="#45e6e0"/>
<circle cx="374.73" cy="441.70" r="1.45" fill="#45e6e0"/>
<circle cx="376.35" cy="441.70" r="1.45" fill="#45e6e0"/>
<circle cx="377.98" cy="441.70" r="1.45" fill="#45e6e0"/>
<circle cx="379.60" cy="441.70" r="1.45" fill="#45e6e0"/>
<circle cx="339.30" cy="439.70" r="1.45" fill="#45e6e0"/>
<circle cx="340.90" cy="439.70" r="1.45" fill="#45e6e0"/>
<circle cx="342.50" cy="439.70" r="1.45" fill="#45e6e0"/>
<circle cx="344.10" cy="439.70" r="1.45" fill="#45e6e0"/>
<circle cx="345.70" cy="439.70" r="1.45" fill="#45e6e0"/>
<circle cx="347.30" cy="439.70" r="1.45" fill="#45e6e0"/>
<circle cx="348.90" cy="439.70" r="1.45" fill="#45e6e0"/>
<circle cx="350.50" cy="439.70" r="1.45" fill="#45e6e0"/>
<circle cx="352.10" cy="439.70" r="1.45" fill="#45e6e0"/>
<circle cx="353.70" cy="439.70" r="1.45" fill="#45e6e0"/>
<circle cx="355.30" cy="439.70" r="1.45" fill="#45e6e0"/>
<circle cx="356.90" cy="439.70" r="1.45" fill="#45e6e0"/>
<circle cx="358.50" cy="439.70" r="1.45" fill="#45e6e0"/>
<circle cx="360.10" cy="439.70" r="1.45" fill="#45e6e0"/>
<circle cx="361.70" cy="439.70" r="1.45" fill="#45e6e0"/>
<circle cx="363.30" cy="439.70" r="1.45" fill="#45e6e0"/>
<circle cx="364.90" cy="439.70" r="1.45" fill="#45e6e0"/>
<circle cx="366.50" cy="439.70" r="1.45" fill="#45e6e0"/>
<circle cx="368.10" cy="439.70" r="1.45" fill="#45e6e0"/>
<circle cx="369.70" cy="439.70" r="1.45" fill="#45e6e0"/>
<circle cx="371.30" cy="439.70" r="1.45" fill="#45e6e0"/>
<circle cx="372.90" cy="439.70" r="1.45" fill="#45e6e0"/>
<circle cx="374.50" cy="439.70" r="1.45" fill="#45e6e0"/>
<circle cx="376.10" cy="439.70" r="1.45" fill="#45e6e0"/>
<circle cx="377.70" cy="439.70" r="1.45" fill="#45e6e0"/>
<circle cx="379.30" cy="439.70" r="1.45" fill="#45e6e0"/>
<circle cx="338.80" cy="437.60" r="1.45" fill="#45e6e0"/>
<circle cx="338.70" cy="436.00" r="1.45" fill="#45e6e0"/>
<circle cx="379.80" cy="437.60" r="1.45" fill="#45e6e0"/>
<circle cx="379.90" cy="436.00" r="1.45" fill="#45e6e0"/>
<circle cx="359.30" cy="431.50" r="1.45" fill="#45e6e0"/>
<circle cx="357.38" cy="432.00" r="1.45" fill="#45e6e0"/>
<circle cx="361.22" cy="432.00" r="1.45" fill="#45e6e0"/>
<circle cx="355.47" cy="432.50" r="1.45" fill="#45e6e0"/>
<circle cx="363.13" cy="432.50" r="1.45" fill="#45e6e0"/>
<circle cx="353.55" cy="433.00" r="1.45" fill="#45e6e0"/>
<circle cx="365.05" cy="433.00" r="1.45" fill="#45e6e0"/>
<circle cx="351.63" cy="433.50" r="1.45" fill="#45e6e0"/>
<circle cx="366.97" cy="433.50" r="1.45" fill="#45e6e0"/>
<circle cx="349.72" cy="434.00" r="1.45" fill="#45e6e0"/>
<circle cx="368.88" cy="434.00" r="1.45" fill="#45e6e0"/>
<circle cx="347.80" cy="434.50" r="1.45" fill="#45e6e0"/>
<circle cx="370.80" cy="434.50" r="1.45" fill="#45e6e0"/>
<circle cx="359.30" cy="427.20" r="1.45" fill="#45e6e0"/>
<circle cx="357.10" cy="428.40" r="1.45" fill="#45e6e0"/>
<circle cx="361.50" cy="428.40" r="1.45" fill="#45e6e0"/>
<circle cx="354.90" cy="429.60" r="1.45" fill="#45e6e0"/>
<circle cx="363.70" cy="429.60" r="1.45" fill="#45e6e0"/>
<circle cx="352.70" cy="430.80" r="1.45" fill="#45e6e0"/>
<circle cx="365.90" cy="430.80" r="1.45" fill="#45e6e0"/>
<circle cx="359.30" cy="421.00" r="1.45" fill="#45e6e0"/>
<circle cx="357.45" cy="422.50" r="1.45" fill="#45e6e0"/>
<circle cx="361.15" cy="422.50" r="1.45" fill="#45e6e0"/>
<circle cx="355.60" cy="424.00" r="1.45" fill="#45e6e0"/>
<circle cx="363.00" cy="424.00" r="1.45" fill="#45e6e0"/>
<circle cx="360.30" cy="411.70" r="1.45" fill="#45e6e0"/>
<circle cx="358.30" cy="413.60" r="1.45" fill="#45e6e0"/>
<circle cx="359.30" cy="398.10" r="1.45" fill="#45e6e0"/>
<circle cx="359.30" cy="424.50" r="1.45" fill="#45e6e0"/>
<circle cx="359.30" cy="417.50" r="1.45" fill="#45e6e0"/>
<line x1="283.40" y1="264.20" x2="283.40" y2="444.20" stroke="#111" stroke-width="1.2"/>
<line x1="282.80" y1="443.80" x2="384.80" y2="443.80" stroke="#111" stroke-width="1.4"/>
<line x1="280.40" y1="443.50" x2="283.40" y2="443.50" stroke="#111" stroke-width="0.8"/>
<text x="262.40" y="446.60" font-size="9.5" fill="#080808">0</text>
<line x1="280.40" y1="421.15" x2="283.40" y2="421.15" stroke="#111" stroke-width="0.8"/>
<text x="262.40" y="424.25" font-size="9.5" fill="#080808">25</text>
<line x1="280.40" y1="398.80" x2="283.40" y2="398.80" stroke="#111" stroke-width="0.8"/>
<text x="262.40" y="401.90" font-size="9.5" fill="#080808">50</text>
<line x1="280.40" y1="376.45" x2="283.40" y2="376.45" stroke="#111" stroke-width="0.8"/>
<text x="262.40" y="379.55" font-size="9.5" fill="#080808">75</text>
<line x1="280.40" y1="354.10" x2="283.40" y2="354.10" stroke="#111" stroke-width="0.8"/>
<text x="262.40" y="357.20" font-size="9.5" fill="#080808">100</text>
<line x1="280.40" y1="331.75" x2="283.40" y2="331.75" stroke="#111" stroke-width="0.8"/>
<text x="262.40" y="334.85" font-size="9.5" fill="#080808">125</text>
<line x1="280.40" y1="309.40" x2="283.40" y2="309.40" stroke="#111" stroke-width="0.8"/>
<text x="262.40" y="312.50" font-size="9.5" fill="#080808">150</text>
<line x1="280.40" y1="287.05" x2="283.40" y2="287.05" stroke="#111" stroke-width="0.8"/>
<text x="262.40" y="290.15" font-size="9.5" fill="#080808">175</text>
<line x1="280.40" y1="264.70" x2="283.40" y2="264.70" stroke="#111" stroke-width="0.8"/>
<text x="262.40" y="267.80" font-size="9.5" fill="#080808">200</text>
<line x1="308.50" y1="444.50" x2="308.50" y2="447.30" stroke="#111" stroke-width="0.8"/>
<line x1="359.30" y1="444.50" x2="359.30" y2="447.30" stroke="#111" stroke-width="0.8"/>
<text transform="translate(311.60,453.50) rotate(-30)" font-size="8.2" text-anchor="end" fill="#080808">SM</text>
<text transform="translate(362.40,454.20) rotate(-30)" font-size="8.2" text-anchor="end" fill="#080808">non-SM</text>
<text transform="translate(249.80,350.40) rotate(-90)" font-size="11.9" text-anchor="middle" fill="#080808">Transcripts per million</text>
<text x="474.45" y="246.90" font-size="11.9" font-style="italic" text-anchor="middle" fill="#080808">TREM2.2</text>
<text x="449.30" y="267.80" font-size="9.0" fill="#080808"><tspan font-style="italic">P</tspan><tspan font-size="6.7" font-style="italic" dy="2.61">adj</tspan><tspan dy="-2.61"> = 1.7 x 10</tspan><tspan font-size="6.3" dy="-3.78">-3</tspan></text>
<polyline points="449.9,281.2 449.9,275.3 501.4,275.3 501.4,353.3" fill="none" stroke="#3a3030" stroke-width="0.9"/>
<polygon points="448.10,443.10 447.70,437.73 447.70,425.20 447.60,407.30 447.30,396.56 447.50,389.40 448.70,382.24 449.10,378.66 448.90,373.29 449.30,366.13 449.50,353.60 449.60,326.75 449.70,285.58 450.10,285.58 450.20,326.75 450.30,353.60 450.50,366.13 450.90,373.29 450.70,378.66 451.10,382.24 452.30,389.40 452.50,396.56 452.20,407.30 452.10,425.20 452.10,437.73 451.70,443.10" fill="#b4b4b4" stroke="#707070" stroke-width="0.55"/>
<circle cx="449.90" cy="320.66" r="1.35" fill="#f2424b"/>
<circle cx="451.20" cy="391.19" r="1.35" fill="#f2424b"/>
<circle cx="448.90" cy="394.77" r="1.35" fill="#f2424b"/>
<circle cx="451.50" cy="429.68" r="1.35" fill="#f2424b"/>
<circle cx="450.30" cy="432.36" r="1.35" fill="#f2424b"/>
<circle cx="448.90" cy="442.21" r="1.35" fill="#f2424b"/>
<circle cx="450.90" cy="441.85" r="1.35" fill="#f2424b"/>
<line x1="501.40" y1="357.18" x2="501.40" y2="443.10" stroke="#777" stroke-width="0.6"/>
<circle cx="480.40" cy="441.70" r="1.45" fill="#45e6e0"/>
<circle cx="482.02" cy="441.70" r="1.45" fill="#45e6e0"/>
<circle cx="483.63" cy="441.70" r="1.45" fill="#45e6e0"/>
<circle cx="485.25" cy="441.70" r="1.45" fill="#45e6e0"/>
<circle cx="486.86" cy="441.70" r="1.45" fill="#45e6e0"/>
<circle cx="488.48" cy="441.70" r="1.45" fill="#45e6e0"/>
<circle cx="490.09" cy="441.70" r="1.45" fill="#45e6e0"/>
<circle cx="491.71" cy="441.70" r="1.45" fill="#45e6e0"/>
<circle cx="493.32" cy="441.70" r="1.45" fill="#45e6e0"/>
<circle cx="494.94" cy="441.70" r="1.45" fill="#45e6e0"/>
<circle cx="496.55" cy="441.70" r="1.45" fill="#45e6e0"/>
<circle cx="498.17" cy="441.70" r="1.45" fill="#45e6e0"/>
<circle cx="499.78" cy="441.70" r="1.45" fill="#45e6e0"/>
<circle cx="501.40" cy="441.70" r="1.45" fill="#45e6e0"/>
<circle cx="503.02" cy="441.70" r="1.45" fill="#45e6e0"/>
<circle cx="504.63" cy="441.70" r="1.45" fill="#45e6e0"/>
<circle cx="506.25" cy="441.70" r="1.45" fill="#45e6e0"/>
<circle cx="507.86" cy="441.70" r="1.45" fill="#45e6e0"/>
<circle cx="509.48" cy="441.70" r="1.45" fill="#45e6e0"/>
<circle cx="511.09" cy="441.70" r="1.45" fill="#45e6e0"/>
<circle cx="512.71" cy="441.70" r="1.45" fill="#45e6e0"/>
<circle cx="514.32" cy="441.70" r="1.45" fill="#45e6e0"/>
<circle cx="515.94" cy="441.70" r="1.45" fill="#45e6e0"/>
<circle cx="517.55" cy="441.70" r="1.45" fill="#45e6e0"/>
<circle cx="519.17" cy="441.70" r="1.45" fill="#45e6e0"/>
<circle cx="520.78" cy="441.70" r="1.45" fill="#45e6e0"/>
<circle cx="522.40" cy="441.70" r="1.45" fill="#45e6e0"/>
<circle cx="480.60" cy="439.70" r="1.45" fill="#45e6e0"/>
<circle cx="482.20" cy="439.70" r="1.45" fill="#45e6e0"/>
<circle cx="483.80" cy="439.70" r="1.45" fill="#45e6e0"/>
<circle cx="485.40" cy="439.70" r="1.45" fill="#45e6e0"/>
<circle cx="487.00" cy="439.70" r="1.45" fill="#45e6e0"/>
<circle cx="488.60" cy="439.70" r="1.45" fill="#45e6e0"/>
<circle cx="490.20" cy="439.70" r="1.45" fill="#45e6e0"/>
<circle cx="491.80" cy="439.70" r="1.45" fill="#45e6e0"/>
<circle cx="493.40" cy="439.70" r="1.45" fill="#45e6e0"/>
<circle cx="495.00" cy="439.70" r="1.45" fill="#45e6e0"/>
<circle cx="496.60" cy="439.70" r="1.45" fill="#45e6e0"/>
<circle cx="498.20" cy="439.70" r="1.45" fill="#45e6e0"/>
<circle cx="499.80" cy="439.70" r="1.45" fill="#45e6e0"/>
<circle cx="501.40" cy="439.70" r="1.45" fill="#45e6e0"/>
<circle cx="503.00" cy="439.70" r="1.45" fill="#45e6e0"/>
<circle cx="504.60" cy="439.70" r="1.45" fill="#45e6e0"/>
<circle cx="506.20" cy="439.70" r="1.45" fill="#45e6e0"/>
<circle cx="507.80" cy="439.70" r="1.45" fill="#45e6e0"/>
<circle cx="509.40" cy="439.70" r="1.45" fill="#45e6e0"/>
<circle cx="511.00" cy="439.70" r="1.45" fill="#45e6e0"/>
<circle cx="512.60" cy="439.70" r="1.45" fill="#45e6e0"/>
<circle cx="514.20" cy="439.70" r="1.45" fill="#45e6e0"/>
<circle cx="515.80" cy="439.70" r="1.45" fill="#45e6e0"/>
<circle cx="517.40" cy="439.70" r="1.45" fill="#45e6e0"/>
<circle cx="519.00" cy="439.70" r="1.45" fill="#45e6e0"/>
<circle cx="520.60" cy="439.70" r="1.45" fill="#45e6e0"/>
<circle cx="522.20" cy="439.70" r="1.45" fill="#45e6e0"/>
<circle cx="480.20" cy="437.60" r="1.45" fill="#45e6e0"/>
<circle cx="480.10" cy="436.00" r="1.45" fill="#45e6e0"/>
<circle cx="522.60" cy="437.60" r="1.45" fill="#45e6e0"/>
<circle cx="522.70" cy="436.00" r="1.45" fill="#45e6e0"/>
<circle cx="501.40" cy="431.40" r="1.45" fill="#45e6e0"/>
<circle cx="499.34" cy="431.96" r="1.45" fill="#45e6e0"/>
<circle cx="503.46" cy="431.96" r="1.45" fill="#45e6e0"/>
<circle cx="497.27" cy="432.52" r="1.45" fill="#45e6e0"/>
<circle cx="505.52" cy="432.52" r="1.45" fill="#45e6e0"/>
<circle cx="495.21" cy="433.09" r="1.45" fill="#45e6e0"/>
<circle cx="507.59" cy="433.09" r="1.45" fill="#45e6e0"/>
<circle cx="493.15" cy="433.65" r="1.45" fill="#45e6e0"/>
<circle cx="509.65" cy="433.65" r="1.45" fill="#45e6e0"/>
<circle cx="491.09" cy="434.21" r="1.45" fill="#45e6e0"/>
<circle cx="511.71" cy="434.21" r="1.45" fill="#45e6e0"/>
<circle cx="489.02" cy="434.77" r="1.45" fill="#45e6e0"/>
<circle cx="513.77" cy="434.77" r="1.45" fill="#45e6e0"/>
<circle cx="486.96" cy="435.34" r="1.45" fill="#45e6e0"/>
<circle cx="515.84" cy="435.34" r="1.45" fill="#45e6e0"/>
<circle cx="484.90" cy="435.90" r="1.45" fill="#45e6e0"/>
<circle cx="517.90" cy="435.90" r="1.45" fill="#45e6e0"/>
<circle cx="501.40" cy="426.70" r="1.45" fill="#45e6e0"/>
<circle cx="499.40" cy="427.50" r="1.45" fill="#45e6e0"/>
<circle cx="503.40" cy="427.50" r="1.45" fill="#45e6e0"/>
<circle cx="497.40" cy="428.30" r="1.45" fill="#45e6e0"/>
<circle cx="505.40" cy="428.30" r="1.45" fill="#45e6e0"/>
<circle cx="495.40" cy="429.10" r="1.45" fill="#45e6e0"/>
<circle cx="507.40" cy="429.10" r="1.45" fill="#45e6e0"/>
<circle cx="493.40" cy="429.90" r="1.45" fill="#45e6e0"/>
<circle cx="509.40" cy="429.90" r="1.45" fill="#45e6e0"/>
<circle cx="491.40" cy="430.70" r="1.45" fill="#45e6e0"/>
<circle cx="511.40" cy="430.70" r="1.45" fill="#45e6e0"/>
<circle cx="501.40" cy="423.20" r="1.45" fill="#45e6e0"/>
<circle cx="499.40" cy="424.07" r="1.45" fill="#45e6e0"/>
<circle cx="503.40" cy="424.07" r="1.45" fill="#45e6e0"/>
<circle cx="497.40" cy="424.95" r="1.45" fill="#45e6e0"/>
<circle cx="505.40" cy="424.95" r="1.45" fill="#45e6e0"/>
<circle cx="495.40" cy="425.82" r="1.45" fill="#45e6e0"/>
<circle cx="507.40" cy="425.82" r="1.45" fill="#45e6e0"/>
<circle cx="493.40" cy="426.70" r="1.45" fill="#45e6e0"/>
<circle cx="509.40" cy="426.70" r="1.45" fill="#45e6e0"/>
<circle cx="501.40" cy="418.50" r="1.45" fill="#45e6e0"/>
<circle cx="499.23" cy="419.67" r="1.45" fill="#45e6e0"/>
<circle cx="503.57" cy="419.67" r="1.45" fill="#45e6e0"/>
<circle cx="497.07" cy="420.83" r="1.45" fill="#45e6e0"/>
<circle cx="505.73" cy="420.83" r="1.45" fill="#45e6e0"/>
<circle cx="494.90" cy="422.00" r="1.45" fill="#45e6e0"/>
<circle cx="507.90" cy="422.00" r="1.45" fill="#45e6e0"/>
<circle cx="501.40" cy="415.00" r="1.45" fill="#45e6e0"/>
<circle cx="499.65" cy="416.40" r="1.45" fill="#45e6e0"/>
<circle cx="503.15" cy="416.40" r="1.45" fill="#45e6e0"/>
<circle cx="497.90" cy="417.80" r="1.45" fill="#45e6e0"/>
<circle cx="504.90" cy="417.80" r="1.45" fill="#45e6e0"/>
<circle cx="500.60" cy="411.50" r="1.45" fill="#45e6e0"/>
<circle cx="502.20" cy="409.50" r="1.45" fill="#45e6e0"/>
<circle cx="501.40" cy="407.00" r="1.45" fill="#45e6e0"/>
<circle cx="501.40" cy="397.00" r="1.45" fill="#45e6e0"/>
<circle cx="501.40" cy="379.60" r="1.45" fill="#45e6e0"/>
<circle cx="501.40" cy="362.20" r="1.45" fill="#45e6e0"/>
<line x1="424.50" y1="263.60" x2="424.50" y2="443.80" stroke="#111" stroke-width="1.2"/>
<line x1="423.90" y1="443.40" x2="527.50" y2="443.40" stroke="#111" stroke-width="1.4"/>
<line x1="421.50" y1="443.10" x2="424.50" y2="443.10" stroke="#111" stroke-width="0.8"/>
<text x="408.40" y="446.20" font-size="9.5" fill="#080808">0</text>
<line x1="421.50" y1="407.30" x2="424.50" y2="407.30" stroke="#111" stroke-width="0.8"/>
<text x="408.40" y="410.40" font-size="9.5" fill="#080808">2</text>
<line x1="421.50" y1="371.50" x2="424.50" y2="371.50" stroke="#111" stroke-width="0.8"/>
<text x="408.40" y="374.60" font-size="9.5" fill="#080808">4</text>
<line x1="421.50" y1="335.70" x2="424.50" y2="335.70" stroke="#111" stroke-width="0.8"/>
<text x="408.40" y="338.80" font-size="9.5" fill="#080808">6</text>
<line x1="421.50" y1="299.90" x2="424.50" y2="299.90" stroke="#111" stroke-width="0.8"/>
<text x="408.40" y="303.00" font-size="9.5" fill="#080808">8</text>
<line x1="421.50" y1="264.10" x2="424.50" y2="264.10" stroke="#111" stroke-width="0.8"/>
<text x="408.40" y="267.20" font-size="9.5" fill="#080808">10</text>
<line x1="449.90" y1="444.10" x2="449.90" y2="446.90" stroke="#111" stroke-width="0.8"/>
<line x1="501.40" y1="444.10" x2="501.40" y2="446.90" stroke="#111" stroke-width="0.8"/>
<text transform="translate(453.00,453.10) rotate(-30)" font-size="8.2" text-anchor="end" fill="#080808">SM</text>
<text transform="translate(504.50,453.80) rotate(-30)" font-size="8.2" text-anchor="end" fill="#080808">non-SM</text>
<text transform="translate(402.40,349.80) rotate(-90)" font-size="11.9" text-anchor="middle" fill="#080808">Transcripts per million</text>
<text x="614.65" y="246.90" font-size="11.9" font-style="italic" text-anchor="middle" fill="#080808">TREM2.3</text>
<text x="589.70" y="269.30" font-size="9.0" fill="#080808"><tspan font-style="italic">P</tspan><tspan font-size="6.7" font-style="italic" dy="2.61">adj</tspan><tspan dy="-2.61"> = 3.7 x 10</tspan><tspan font-size="6.3" dy="-3.78">-4</tspan></text>
<polyline points="590.3,281.0 590.3,275.3 641.4,275.3 641.4,388.9" fill="none" stroke="#3a3030" stroke-width="0.9"/>
<polygon points="589.00,443.10 589.20,437.11 589.40,425.13 589.50,407.16 589.60,389.19 589.90,368.23 589.95,338.28 590.00,293.35 590.60,293.35 590.65,338.28 590.70,368.23 591.00,389.19 591.10,407.16 591.20,425.13 591.40,437.11 591.60,443.10" fill="#8a8a8a" stroke="#707070" stroke-width="0.55"/>
<circle cx="590.30" cy="328.09" r="1.35" fill="#f2424b"/>
<circle cx="590.30" cy="387.99" r="1.35" fill="#f2424b"/>
<circle cx="590.30" cy="402.67" r="1.35" fill="#f2424b"/>
<circle cx="589.00" cy="412.55" r="1.35" fill="#f2424b"/>
<circle cx="591.50" cy="410.75" r="1.35" fill="#f2424b"/>
<circle cx="589.10" cy="428.42" r="1.35" fill="#f2424b"/>
<circle cx="589.00" cy="435.91" r="1.35" fill="#f2424b"/>
<circle cx="588.50" cy="440.11" r="1.35" fill="#f2424b"/>
<circle cx="590.70" cy="440.70" r="1.35" fill="#f2424b"/>
<circle cx="592.50" cy="440.11" r="1.35" fill="#f2424b"/>
<line x1="641.40" y1="405.66" x2="641.40" y2="443.10" stroke="#777" stroke-width="0.6"/>
<circle cx="620.40" cy="441.40" r="1.45" fill="#45e6e0"/>
<circle cx="622.02" cy="441.40" r="1.45" fill="#45e6e0"/>
<circle cx="623.63" cy="441.40" r="1.45" fill="#45e6e0"/>
<circle cx="625.25" cy="441.40" r="1.45" fill="#45e6e0"/>
<circle cx="626.86" cy="441.40" r="1.45" fill="#45e6e0"/>
<circle cx="628.48" cy="441.40" r="1.45" fill="#45e6e0"/>
<circle cx="630.09" cy="441.40" r="1.45" fill="#45e6e0"/>
<circle cx="631.71" cy="441.40" r="1.45" fill="#45e6e0"/>
<circle cx="633.32" cy="441.40" r="1.45" fill="#45e6e0"/>
<circle cx="634.94" cy="441.40" r="1.45" fill="#45e6e0"/>
<circle cx="636.55" cy="441.40" r="1.45" fill="#45e6e0"/>
<circle cx="638.17" cy="441.40" r="1.45" fill="#45e6e0"/>
<circle cx="639.78" cy="441.40" r="1.45" fill="#45e6e0"/>
<circle cx="641.40" cy="441.40" r="1.45" fill="#45e6e0"/>
<circle cx="643.02" cy="441.40" r="1.45" fill="#45e6e0"/>
<circle cx="644.63" cy="441.40" r="1.45" fill="#45e6e0"/>
<circle cx="646.25" cy="441.40" r="1.45" fill="#45e6e0"/>
<circle cx="647.86" cy="441.40" r="1.45" fill="#45e6e0"/>
<circle cx="649.48" cy="441.40" r="1.45" fill="#45e6e0"/>
<circle cx="651.09" cy="441.40" r="1.45" fill="#45e6e0"/>
<circle cx="652.71" cy="441.40" r="1.45" fill="#45e6e0"/>
<circle cx="654.32" cy="441.40" r="1.45" fill="#45e6e0"/>
<circle cx="655.94" cy="441.40" r="1.45" fill="#45e6e0"/>
<circle cx="657.55" cy="441.40" r="1.45" fill="#45e6e0"/>
<circle cx="659.17" cy="441.40" r="1.45" fill="#45e6e0"/>
<circle cx="660.78" cy="441.40" r="1.45" fill="#45e6e0"/>
<circle cx="662.40" cy="441.40" r="1.45" fill="#45e6e0"/>
<circle cx="624.40" cy="439.60" r="1.45" fill="#45e6e0"/>
<circle cx="626.02" cy="439.60" r="1.45" fill="#45e6e0"/>
<circle cx="627.64" cy="439.60" r="1.45" fill="#45e6e0"/>
<circle cx="629.26" cy="439.60" r="1.45" fill="#45e6e0"/>
<circle cx="630.88" cy="439.60" r="1.45" fill="#45e6e0"/>
<circle cx="632.50" cy="439.60" r="1.45" fill="#45e6e0"/>
<circle cx="634.11" cy="439.60" r="1.45" fill="#45e6e0"/>
<circle cx="635.73" cy="439.60" r="1.45" fill="#45e6e0"/>
<circle cx="637.35" cy="439.60" r="1.45" fill="#45e6e0"/>
<circle cx="638.97" cy="439.60" r="1.45" fill="#45e6e0"/>
<circle cx="640.59" cy="439.60" r="1.45" fill="#45e6e0"/>
<circle cx="642.21" cy="439.60" r="1.45" fill="#45e6e0"/>
<circle cx="643.83" cy="439.60" r="1.45" fill="#45e6e0"/>
<circle cx="645.45" cy="439.60" r="1.45" fill="#45e6e0"/>
<circle cx="647.07" cy="439.60" r="1.45" fill="#45e6e0"/>
<circle cx="648.69" cy="439.60" r="1.45" fill="#45e6e0"/>
<circle cx="650.30" cy="439.60" r="1.45" fill="#45e6e0"/>
<circle cx="651.92" cy="439.60" r="1.45" fill="#45e6e0"/>
<circle cx="653.54" cy="439.60" r="1.45" fill="#45e6e0"/>
<circle cx="655.16" cy="439.60" r="1.45" fill="#45e6e0"/>
<circle cx="656.78" cy="439.60" r="1.45" fill="#45e6e0"/>
<circle cx="658.40" cy="439.60" r="1.45" fill="#45e6e0"/>
<circle cx="620.20" cy="439.00" r="1.45" fill="#45e6e0"/>
<circle cx="662.60" cy="439.00" r="1.45" fill="#45e6e0"/>
<circle cx="641.40" cy="432.60" r="1.45" fill="#45e6e0"/>
<circle cx="639.15" cy="433.33" r="1.45" fill="#45e6e0"/>
<circle cx="643.65" cy="433.33" r="1.45" fill="#45e6e0"/>
<circle cx="636.90" cy="434.05" r="1.45" fill="#45e6e0"/>
<circle cx="645.90" cy="434.05" r="1.45" fill="#45e6e0"/>
<circle cx="634.65" cy="434.78" r="1.45" fill="#45e6e0"/>
<circle cx="648.15" cy="434.78" r="1.45" fill="#45e6e0"/>
<circle cx="632.40" cy="435.50" r="1.45" fill="#45e6e0"/>
<circle cx="650.40" cy="435.50" r="1.45" fill="#45e6e0"/>
<circle cx="630.15" cy="436.23" r="1.45" fill="#45e6e0"/>
<circle cx="652.65" cy="436.23" r="1.45" fill="#45e6e0"/>
<circle cx="627.90" cy="436.95" r="1.45" fill="#45e6e0"/>
<circle cx="654.90" cy="436.95" r="1.45" fill="#45e6e0"/>
<circle cx="625.65" cy="437.68" r="1.45" fill="#45e6e0"/>
<circle cx="657.15" cy="437.68" r="1.45" fill="#45e6e0"/>
<circle cx="623.40" cy="438.40" r="1.45" fill="#45e6e0"/>
<circle cx="659.40" cy="438.40" r="1.45" fill="#45e6e0"/>
<circle cx="641.40" cy="428.60" r="1.45" fill="#45e6e0"/>
<circle cx="639.07" cy="430.60" r="1.45" fill="#45e6e0"/>
<circle cx="643.73" cy="430.60" r="1.45" fill="#45e6e0"/>
<circle cx="636.73" cy="432.60" r="1.45" fill="#45e6e0"/>
<circle cx="646.07" cy="432.60" r="1.45" fill="#45e6e0"/>
<circle cx="634.40" cy="434.60" r="1.45" fill="#45e6e0"/>
<circle cx="648.40" cy="434.60" r="1.45" fill="#45e6e0"/>
<circle cx="640.60" cy="426.60" r="1.45" fill="#45e6e0"/>
<circle cx="642.20" cy="424.40" r="1.45" fill="#45e6e0"/>
<circle cx="641.40" cy="406.80" r="1.45" fill="#45e6e0"/>
<line x1="564.50" y1="262.90" x2="564.50" y2="443.80" stroke="#111" stroke-width="1.2"/>
<line x1="563.90" y1="443.40" x2="667.50" y2="443.40" stroke="#111" stroke-width="1.4"/>
<line x1="561.50" y1="443.10" x2="564.50" y2="443.10" stroke="#111" stroke-width="0.8"/>
<text x="551.90" y="446.20" font-size="9.5" fill="#080808">0</text>
<line x1="561.50" y1="413.15" x2="564.50" y2="413.15" stroke="#111" stroke-width="0.8"/>
<text x="551.90" y="416.25" font-size="9.5" fill="#080808">1</text>
<line x1="561.50" y1="383.20" x2="564.50" y2="383.20" stroke="#111" stroke-width="0.8"/>
<text x="551.90" y="386.30" font-size="9.5" fill="#080808">2</text>
<line x1="561.50" y1="353.25" x2="564.50" y2="353.25" stroke="#111" stroke-width="0.8"/>
<text x="551.90" y="356.35" font-size="9.5" fill="#080808">3</text>
<line x1="561.50" y1="323.30" x2="564.50" y2="323.30" stroke="#111" stroke-width="0.8"/>
<text x="551.90" y="326.40" font-size="9.5" fill="#080808">4</text>
<line x1="561.50" y1="293.35" x2="564.50" y2="293.35" stroke="#111" stroke-width="0.8"/>
<text x="551.90" y="296.45" font-size="9.5" fill="#080808">5</text>
<line x1="561.50" y1="263.40" x2="564.50" y2="263.40" stroke="#111" stroke-width="0.8"/>
<text x="551.90" y="266.50" font-size="9.5" fill="#080808">6</text>
<line x1="590.30" y1="444.10" x2="590.30" y2="446.90" stroke="#111" stroke-width="0.8"/>
<line x1="641.40" y1="444.10" x2="641.40" y2="446.90" stroke="#111" stroke-width="0.8"/>
<text transform="translate(593.40,453.10) rotate(-30)" font-size="8.2" text-anchor="end" fill="#080808">SM</text>
<text transform="translate(644.50,453.80) rotate(-30)" font-size="8.2" text-anchor="end" fill="#080808">non-SM</text>
<text transform="translate(543.60,342.20) rotate(-90)" font-size="11.9" text-anchor="middle" fill="#080808">Transcripts per million</text>
<text x="107.70" y="529.90" font-size="11.9" font-style="italic" text-anchor="middle" fill="#080808">TREM2.1</text>
<rect x="70.9" y="648.98" width="11.40" height="64.02" fill="#cbcbcb"/>
<rect x="82.3" y="710.67" width="11.50" height="2.33" fill="#cbcbcb"/>
<rect x="99.9" y="686.93" width="11.40" height="26.07" fill="#cbcbcb"/>
<rect x="111.3" y="695.62" width="11.70" height="17.38" fill="#cbcbcb"/>
<rect x="129.0" y="712.53" width="11.40" height="0.47" fill="#cbcbcb"/>
<polyline points="82.2,596.0 82.2,589.5 111.3,589.5 111.3,652.1" fill="none" stroke="#4a4040" stroke-width="0.85"/>
<text x="82.00" y="584.80" font-size="7.9" fill="#080808"><tspan font-style="italic">P</tspan><tspan font-size="5.8" font-style="italic" dy="2.29">adj</tspan><tspan dy="-2.29"> = 3.99 x 10</tspan><tspan font-size="5.6" dy="-3.32">-5</tspan></text>
<line x1="76.4" y1="678.5" x2="76.4" y2="618.4" stroke="#333" stroke-width="0.8"/>
<line x1="72.80000000000001" y1="618.4" x2="80.0" y2="618.4" stroke="#333" stroke-width="0.8"/>
<line x1="89.0" y1="713.0" x2="89.0" y2="706.9" stroke="#333" stroke-width="0.8"/>
<line x1="85.4" y1="706.9" x2="92.6" y2="706.9" stroke="#333" stroke-width="0.8"/>
<line x1="106.0" y1="695.0" x2="106.0" y2="673.6" stroke="#333" stroke-width="0.8"/>
<line x1="102.4" y1="673.6" x2="109.6" y2="673.6" stroke="#333" stroke-width="0.8"/>
<line x1="102.4" y1="695.0" x2="109.6" y2="695.0" stroke="#333" stroke-width="0.8"/>
<line x1="117.5" y1="706.3" x2="117.5" y2="684.4" stroke="#333" stroke-width="0.8"/>
<line x1="113.9" y1="684.4" x2="121.1" y2="684.4" stroke="#333" stroke-width="0.8"/>
<line x1="113.9" y1="706.3" x2="121.1" y2="706.3" stroke="#333" stroke-width="0.8"/>
<circle cx="76" cy="607.2" r="2.85" fill="#0a0af0"/>
<circle cx="76" cy="660.9" r="2.85" fill="#0a0af0"/>
<circle cx="76" cy="678.1" r="2.85" fill="#0a0af0"/>
<circle cx="106" cy="676" r="2.85" fill="#0a0af0"/>
<circle cx="106" cy="685.4" r="2.85" fill="#0a0af0"/>
<circle cx="106.6" cy="698.1" r="2.85" fill="#0a0af0"/>
<circle cx="134.2" cy="712.2" r="2.85" fill="#0a0af0"/>
<circle cx="88.9" cy="705.7" r="2.85" fill="#f6d21a"/>
<circle cx="89.3" cy="712.3" r="2.85" fill="#f6d21a"/>
<circle cx="117.9" cy="680.9" r="2.85" fill="#f6d21a"/>
<circle cx="116.4" cy="699.7" r="2.85" fill="#f6d21a"/>
<circle cx="116.9" cy="706.7" r="2.85" fill="#f6d21a"/>
<line x1="76.4" y1="678.5" x2="76.4" y2="618.4" stroke="#333" stroke-width="0.8"/>
<line x1="72.80000000000001" y1="618.4" x2="80.0" y2="618.4" stroke="#333" stroke-width="0.8"/>
<line x1="106.0" y1="695.0" x2="106.0" y2="673.6" stroke="#333" stroke-width="0.8"/>
<line x1="102.4" y1="673.6" x2="109.6" y2="673.6" stroke="#333" stroke-width="0.8"/>
<line x1="102.4" y1="695.0" x2="109.6" y2="695.0" stroke="#333" stroke-width="0.8"/>
<line x1="117.5" y1="706.3" x2="117.5" y2="684.4" stroke="#333" stroke-width="0.8"/>
<line x1="113.9" y1="684.4" x2="121.1" y2="684.4" stroke="#333" stroke-width="0.8"/>
<line x1="113.9" y1="706.3" x2="121.1" y2="706.3" stroke="#333" stroke-width="0.8"/>
<rect x="66.5" y="713.6" width="150" height="40" fill="#fff"/>
<line x1="67.5" y1="557.30" x2="67.5" y2="713.6" stroke="#111" stroke-width="1.2"/>
<line x1="66.9" y1="713.0" x2="155.4" y2="713.0" stroke="#111" stroke-width="1.3"/>
<line x1="64.5" y1="713.00" x2="67.5" y2="713.00" stroke="#111" stroke-width="0.8"/>
<text x="60.90" y="715.80" font-size="8.0" text-anchor="end" fill="#080808">0</text>
<line x1="64.5" y1="693.60" x2="67.5" y2="693.60" stroke="#111" stroke-width="0.8"/>
<text x="60.90" y="696.40" font-size="8.0" text-anchor="end" fill="#080808">25</text>
<line x1="64.5" y1="674.20" x2="67.5" y2="674.20" stroke="#111" stroke-width="0.8"/>
<text x="60.90" y="677.00" font-size="8.0" text-anchor="end" fill="#080808">50</text>
<line x1="64.5" y1="654.80" x2="67.5" y2="654.80" stroke="#111" stroke-width="0.8"/>
<text x="60.90" y="657.60" font-size="8.0" text-anchor="end" fill="#080808">75</text>
<line x1="64.5" y1="635.40" x2="67.5" y2="635.40" stroke="#111" stroke-width="0.8"/>
<text x="60.90" y="638.20" font-size="8.0" text-anchor="end" fill="#080808">100</text>
<line x1="64.5" y1="616.00" x2="67.5" y2="616.00" stroke="#111" stroke-width="0.8"/>
<text x="60.90" y="618.80" font-size="8.0" text-anchor="end" fill="#080808">125</text>
<line x1="64.5" y1="596.60" x2="67.5" y2="596.60" stroke="#111" stroke-width="0.8"/>
<text x="60.90" y="599.40" font-size="8.0" text-anchor="end" fill="#080808">150</text>
<line x1="64.5" y1="577.20" x2="67.5" y2="577.20" stroke="#111" stroke-width="0.8"/>
<text x="60.90" y="580.00" font-size="8.0" text-anchor="end" fill="#080808">175</text>
<line x1="64.5" y1="557.80" x2="67.5" y2="557.80" stroke="#111" stroke-width="0.8"/>
<text x="60.90" y="560.60" font-size="8.0" text-anchor="end" fill="#080808">200</text>
<text transform="translate(43.2,631) rotate(-90)" font-size="10.4" text-anchor="middle" fill="#080808">Transcripts per million</text>
<text transform="translate(79.3,721.5) rotate(-30)" font-size="7.6" text-anchor="end" fill="#080808">Pre</text>
<text transform="translate(91.0,722.1) rotate(-30)" font-size="7.6" text-anchor="end" fill="#080808">Post</text>
<text transform="translate(109.0,721.5) rotate(-30)" font-size="7.6" text-anchor="end" fill="#080808">Pre</text>
<text transform="translate(120.7,722.1) rotate(-30)" font-size="7.6" text-anchor="end" fill="#080808">Post</text>
<text x="136.90" y="729.00" font-size="8.4" text-anchor="middle" fill="#333">HC</text>
<polyline points="76.6,732.4 76.6,737.8 88.4,737.8 88.4,732.4" fill="none" stroke="#333" stroke-width="0.8"/>
<text x="82.50" y="746.90" font-size="8.5" text-anchor="middle" fill="#333">CR</text>
<polyline points="105.9,732.4 105.9,737.8 117.9,737.8 117.9,732.4" fill="none" stroke="#333" stroke-width="0.8"/>
<text x="111.90" y="746.90" font-size="8.5" text-anchor="middle" fill="#333">PR</text>
<text x="251.90" y="529.90" font-size="11.9" font-style="italic" text-anchor="middle" fill="#080808">TREM2.1</text>
<rect x="227.2" y="663.27" width="18.3" height="50.83" fill="#cbcbcb"/>
<rect x="249.9" y="712.38" width="17.5" height="1.72" fill="#cbcbcb"/>
<polyline points="236.5,571.1 236.5,564.5 258.9,564.5 258.9,659.3" fill="none" stroke="#666" stroke-width="0.85"/>
<text x="236.30" y="559.00" font-size="7.9" fill="#080808"><tspan font-style="italic">P</tspan><tspan font-size="5.8" font-style="italic" dy="2.29">adj</tspan><tspan dy="-2.29"> = 1.25 x 10</tspan><tspan font-size="5.6" dy="-3.32">-8</tspan></text>
<circle cx="234.7" cy="582.8" r="3.1" fill="#aaee10"/>
<circle cx="235.7" cy="600.5" r="3.1" fill="#aaee10"/>
<circle cx="238.2" cy="611.9" r="3.1" fill="#aaee10"/>
<circle cx="236.4" cy="613.6" r="3.1" fill="#aaee10"/>
<circle cx="236.7" cy="639.6" r="3.1" fill="#aaee10"/>
<circle cx="237" cy="661.5" r="3.1" fill="#aaee10"/>
<circle cx="238.5" cy="668.1" r="3.1" fill="#aaee10"/>
<circle cx="235" cy="685.2" r="3.1" fill="#aaee10"/>
<circle cx="236.7" cy="689.7" r="3.1" fill="#aaee10"/>
<circle cx="234.5" cy="698.8" r="3.1" fill="#aaee10"/>
<circle cx="233.8" cy="702.4" r="3.1" fill="#aaee10"/>
<circle cx="235.3" cy="708" r="3.1" fill="#aaee10"/>
<circle cx="238.2" cy="711.9" r="3.1" fill="#aaee10"/>
<circle cx="236.5" cy="713" r="3.1" fill="#aaee10"/>
<circle cx="257.4" cy="697.7" r="3.1" fill="#5a18ec"/>
<circle cx="257.4" cy="706" r="3.1" fill="#5a18ec"/>
<circle cx="261.5" cy="708.5" r="3.1" fill="#5a18ec"/>
<circle cx="256.4" cy="711.9" r="3.1" fill="#5a18ec"/>
<circle cx="260" cy="711.9" r="3.1" fill="#5a18ec"/>
<line x1="236.4" y1="707.2" x2="236.4" y2="619.2" stroke="#333" stroke-width="0.8"/>
<line x1="234.20000000000002" y1="619.2" x2="238.6" y2="619.2" stroke="#333" stroke-width="0.8"/>
<line x1="234.20000000000002" y1="707.2" x2="238.6" y2="707.2" stroke="#333" stroke-width="0.8"/>
<line x1="257.5" y1="707.5" x2="257.5" y2="712" stroke="#333" stroke-width="0.7"/>
<rect x="224.1" y="714.7" width="60" height="30" fill="#fff"/>
<line x1="225.1" y1="541.28" x2="225.1" y2="714.7" stroke="#111" stroke-width="1.2"/>
<line x1="224.5" y1="714.1" x2="271" y2="714.1" stroke="#111" stroke-width="1.3"/>
<line x1="222.1" y1="714.10" x2="225.1" y2="714.10" stroke="#111" stroke-width="0.8"/>
<text x="215.00" y="716.80" font-size="7.5" text-anchor="end" fill="#080808">0</text>
<line x1="222.1" y1="685.38" x2="225.1" y2="685.38" stroke="#111" stroke-width="0.8"/>
<text x="215.00" y="688.08" font-size="7.5" text-anchor="end" fill="#080808">10</text>
<line x1="222.1" y1="656.66" x2="225.1" y2="656.66" stroke="#111" stroke-width="0.8"/>
<text x="215.00" y="659.36" font-size="7.5" text-anchor="end" fill="#080808">20</text>
<line x1="222.1" y1="627.94" x2="225.1" y2="627.94" stroke="#111" stroke-width="0.8"/>
<text x="215.00" y="630.64" font-size="7.5" text-anchor="end" fill="#080808">30</text>
<line x1="222.1" y1="599.22" x2="225.1" y2="599.22" stroke="#111" stroke-width="0.8"/>
<text x="215.00" y="601.92" font-size="7.5" text-anchor="end" fill="#080808">40</text>
<line x1="222.1" y1="570.50" x2="225.1" y2="570.50" stroke="#111" stroke-width="0.8"/>
<text x="215.00" y="573.20" font-size="7.5" text-anchor="end" fill="#080808">50</text>
<line x1="222.1" y1="541.78" x2="225.1" y2="541.78" stroke="#111" stroke-width="0.8"/>
<text x="215.00" y="544.48" font-size="7.5" text-anchor="end" fill="#080808">60</text>
<line x1="236.4" y1="715.1" x2="236.4" y2="717.6" stroke="#111" stroke-width="0.8"/>
<line x1="258.6" y1="715.1" x2="258.6" y2="717.6" stroke="#111" stroke-width="0.8"/>
<text transform="translate(196.5,625.2) rotate(-90)" font-size="7.9" text-anchor="middle" fill="#080808">Relative expression to <tspan font-style="italic">TBP</tspan></text>
<text transform="translate(236.1,725.2) rotate(-30)" font-size="7.6" text-anchor="end" fill="#080808">SM</text>
<text transform="translate(258.8,725.2) rotate(-30)" font-size="7.6" text-anchor="end" fill="#080808">non-SM</text>
<text x="496.40" y="509.00" font-size="10.55" font-weight="bold" fill="#9a9a9a">Gene Ontology enrichment analysis</text>
<text x="496.40" y="519.80" font-size="8.25" font-weight="bold" fill="#9a9a9a">(Transcription factors)</text>
<rect x="499.6" y="526.3" width="141.1" height="186.2" fill="none" stroke="#c4c4c4" stroke-width="0.9"/>
<line x1="497.0" y1="532.60" x2="499.6" y2="532.60" stroke="#999" stroke-width="0.6"/>
<text x="489.40" y="535.10" font-size="7.05" text-anchor="end" fill="#4d4d4d">Negative reg. of interferon−beta production</text>
<line x1="506.00" y1="532.60" x2="633.62" y2="532.60" stroke="#e0287e" stroke-width="1.25"/>
<circle cx="633.62" cy="532.60" r="1.35" fill="#e0287e"/>
<line x1="497.0" y1="542.87" x2="499.6" y2="542.87" stroke="#999" stroke-width="0.6"/>
<text x="489.40" y="545.37" font-size="7.05" text-anchor="end" fill="#4d4d4d">Negative reg. of type I interferon production</text>
<line x1="506.00" y1="542.87" x2="555.98" y2="542.87" stroke="#a526d6" stroke-width="1.25"/>
<circle cx="555.98" cy="542.87" r="1.5" fill="#a526d6"/>
<line x1="497.0" y1="553.14" x2="499.6" y2="553.14" stroke="#999" stroke-width="0.6"/>
<text x="489.40" y="555.64" font-size="7.05" text-anchor="end" fill="#4d4d4d">Interferon−beta production</text>
<line x1="506.00" y1="553.14" x2="547.48" y2="553.14" stroke="#ff1414" stroke-width="1.25"/>
<circle cx="547.48" cy="553.14" r="2.75" fill="#ff1414"/>
<line x1="497.0" y1="563.41" x2="499.6" y2="563.41" stroke="#999" stroke-width="0.6"/>
<text x="489.40" y="565.91" font-size="7.05" text-anchor="end" fill="#4d4d4d">Reg. of interferon−beta production</text>
<line x1="506.00" y1="563.41" x2="547.48" y2="563.41" stroke="#ff1414" stroke-width="1.25"/>
<circle cx="547.48" cy="563.41" r="2.75" fill="#ff1414"/>
<line x1="497.0" y1="573.68" x2="499.6" y2="573.68" stroke="#999" stroke-width="0.6"/>
<text x="489.40" y="576.18" font-size="7.05" text-anchor="end" fill="#4d4d4d">Reg. of type I interferon production</text>
<line x1="506.00" y1="573.68" x2="528.51" y2="573.68" stroke="#d8157a" stroke-width="1.25"/>
<circle cx="528.51" cy="573.68" r="2.55" fill="#d8157a"/>
<line x1="497.0" y1="583.95" x2="499.6" y2="583.95" stroke="#999" stroke-width="0.6"/>
<text x="489.40" y="586.45" font-size="7.05" text-anchor="end" fill="#4d4d4d">Type I interferon production</text>
<line x1="506.00" y1="583.95" x2="528.51" y2="583.95" stroke="#d8157a" stroke-width="1.25"/>
<circle cx="528.51" cy="583.95" r="2.55" fill="#d8157a"/>
<line x1="497.0" y1="594.22" x2="499.6" y2="594.22" stroke="#999" stroke-width="0.6"/>
<text x="489.00" y="596.92" font-size="8.35" font-weight="bold" text-anchor="end" fill="#e8102a">NIK/NF−kappaB signaling</text>
<line x1="506.00" y1="594.22" x2="524.43" y2="594.22" stroke="#d8156e" stroke-width="1.25"/>
<circle cx="524.43" cy="594.22" r="2.35" fill="#d8156e"/>
<line x1="497.0" y1="604.49" x2="499.6" y2="604.49" stroke="#999" stroke-width="0.6"/>
<text x="489.40" y="606.99" font-size="7.05" text-anchor="end" fill="#4d4d4d">Negative reg. of cytokine production</text>
<line x1="506.00" y1="604.49" x2="514.05" y2="604.49" stroke="#1212fa" stroke-width="1.25"/>
<circle cx="514.05" cy="604.49" r="2.45" fill="#1212fa"/>
<line x1="497.0" y1="614.76" x2="499.6" y2="614.76" stroke="#999" stroke-width="0.6"/>
<text x="489.40" y="617.26" font-size="7.05" text-anchor="end" fill="#4d4d4d">Positive reg. of transcription by RNA polymerase II</text>
<line x1="506.00" y1="614.76" x2="509.90" y2="614.76" stroke="#ff0808" stroke-width="1.25"/>
<circle cx="509.90" cy="614.76" r="3.7" fill="#ff0808"/>
<line x1="497.0" y1="625.03" x2="499.6" y2="625.03" stroke="#999" stroke-width="0.6"/>
<text x="489.40" y="627.53" font-size="7.05" text-anchor="end" fill="#4d4d4d">Negative reg. of multicellular organismal proc.</text>
<line x1="506.00" y1="625.03" x2="509.90" y2="625.03" stroke="#d01282" stroke-width="1.25"/>
<circle cx="509.90" cy="625.03" r="3.3" fill="#d01282"/>
<line x1="497.0" y1="635.30" x2="499.6" y2="635.30" stroke="#999" stroke-width="0.6"/>
<text x="489.40" y="637.80" font-size="7.05" text-anchor="end" fill="#4d4d4d">Reg. of cytokine production</text>
<line x1="506.00" y1="635.30" x2="509.79" y2="635.30" stroke="#0c0cfa" stroke-width="1.25"/>
<circle cx="509.79" cy="635.30" r="3.05" fill="#0c0cfa"/>
<line x1="497.0" y1="645.57" x2="499.6" y2="645.57" stroke="#999" stroke-width="0.6"/>
<text x="489.40" y="648.07" font-size="7.05" text-anchor="end" fill="#4d4d4d">Cytokine production</text>
<line x1="506.00" y1="645.57" x2="509.79" y2="645.57" stroke="#0c0cfa" stroke-width="1.25"/>
<circle cx="509.79" cy="645.57" r="3.05" fill="#0c0cfa"/>
<line x1="497.0" y1="655.84" x2="499.6" y2="655.84" stroke="#999" stroke-width="0.6"/>
<text x="489.40" y="658.34" font-size="7.05" text-anchor="end" fill="#4d4d4d">Negative reg. of transcription DNA−templated</text>
<line x1="506.00" y1="655.84" x2="508.94" y2="655.84" stroke="#8c0ccc" stroke-width="1.25"/>
<circle cx="508.94" cy="655.84" r="3.35" fill="#8c0ccc"/>
<line x1="497.0" y1="666.11" x2="499.6" y2="666.11" stroke="#999" stroke-width="0.6"/>
<text x="489.40" y="668.61" font-size="7.05" text-anchor="end" fill="#4d4d4d">Negative reg. of nucleic acid−templated transcription</text>
<line x1="506.00" y1="666.11" x2="508.94" y2="666.11" stroke="#8c0ccc" stroke-width="1.25"/>
<circle cx="508.94" cy="666.11" r="3.35" fill="#8c0ccc"/>
<line x1="497.0" y1="676.38" x2="499.6" y2="676.38" stroke="#999" stroke-width="0.6"/>
<text x="489.40" y="678.88" font-size="7.05" text-anchor="end" fill="#4d4d4d">Negative reg. of RNA biosynthetic proc.</text>
<line x1="506.00" y1="676.38" x2="508.94" y2="676.38" stroke="#8c0ccc" stroke-width="1.25"/>
<circle cx="508.94" cy="676.38" r="3.35" fill="#8c0ccc"/>
<line x1="497.0" y1="686.65" x2="499.6" y2="686.65" stroke="#999" stroke-width="0.6"/>
<text x="489.40" y="689.15" font-size="7.05" text-anchor="end" fill="#4d4d4d">Positive reg. of transcription DNA−templated</text>
<line x1="506.00" y1="686.65" x2="508.94" y2="686.65" stroke="#e00c5e" stroke-width="1.25"/>
<circle cx="508.94" cy="686.65" r="3.6" fill="#e00c5e"/>
<line x1="497.0" y1="696.92" x2="499.6" y2="696.92" stroke="#999" stroke-width="0.6"/>
<text x="489.40" y="699.42" font-size="7.05" text-anchor="end" fill="#4d4d4d">Positive reg. of nucleic acid−templated transcription</text>
<line x1="506.00" y1="696.92" x2="508.94" y2="696.92" stroke="#e00c5e" stroke-width="1.25"/>
<circle cx="508.94" cy="696.92" r="3.6" fill="#e00c5e"/>
<line x1="497.0" y1="707.19" x2="499.6" y2="707.19" stroke="#999" stroke-width="0.6"/>
<text x="489.40" y="709.69" font-size="7.05" text-anchor="end" fill="#4d4d4d">Positive reg. of RNA biosynthetic proc.</text>
<line x1="506.00" y1="707.19" x2="508.94" y2="707.19" stroke="#e00c5e" stroke-width="1.25"/>
<circle cx="508.94" cy="707.19" r="3.6" fill="#e00c5e"/>
<line x1="506.00" y1="712.5" x2="506.00" y2="714.9" stroke="#999" stroke-width="0.6"/>
<text x="506.00" y="723.90" font-size="8.4" text-anchor="middle" fill="#555">0</text>
<line x1="541.45" y1="712.5" x2="541.45" y2="714.9" stroke="#999" stroke-width="0.6"/>
<text x="541.45" y="723.90" font-size="8.4" text-anchor="middle" fill="#555">100</text>
<line x1="576.90" y1="712.5" x2="576.90" y2="714.9" stroke="#999" stroke-width="0.6"/>
<text x="576.90" y="723.90" font-size="8.4" text-anchor="middle" fill="#555">200</text>
<line x1="612.35" y1="712.5" x2="612.35" y2="714.9" stroke="#999" stroke-width="0.6"/>
<text x="612.35" y="723.90" font-size="8.4" text-anchor="middle" fill="#555">300</text>
<text x="570.50" y="734.90" font-size="9.0" text-anchor="middle" fill="#1a1a1a">Fold Enrichment</text>
<text x="646.80" y="544.00" font-size="6.2" fill="#333">N. of Genes</text>
<circle cx="651.3" cy="552.4" r="0.95" fill="#000"/>
<text x="659.20" y="554.50" font-size="5.9" fill="#333">2</text>
<circle cx="651.3" cy="561.5" r="1.85" fill="#000"/>
<text x="659.20" y="563.60" font-size="5.9" fill="#333">3</text>
<circle cx="651.3" cy="570.6" r="2.25" fill="#000"/>
<text x="659.20" y="572.70" font-size="5.9" fill="#333">4</text>
<circle cx="651.3" cy="579.5" r="2.55" fill="#000"/>
<text x="659.20" y="581.60" font-size="5.9" fill="#333">5</text>
<circle cx="651.3" cy="588.5" r="2.85" fill="#000"/>
<text x="659.20" y="590.60" font-size="5.9" fill="#333">6</text>
<text x="646.80" y="643.60" font-size="5.8" fill="#333">−log10(FDR)</text>
<circle cx="651.2" cy="650.6" r="3.0" fill="#4000f8"/>
<text x="658.90" y="652.70" font-size="5.9" fill="#333">2.4</text>
<circle cx="651.2" cy="659.1" r="3.0" fill="#8000d8"/>
<text x="658.90" y="661.20" font-size="5.9" fill="#333">2.6</text>
<circle cx="651.2" cy="667.4" r="3.0" fill="#a800b8"/>
<text x="658.90" y="669.50" font-size="5.9" fill="#333">2.8</text>
<circle cx="651.2" cy="675.7" r="3.0" fill="#cc0090"/>
<text x="658.90" y="677.80" font-size="5.9" fill="#333">3.0</text>
<circle cx="651.2" cy="684.2" r="3.0" fill="#e80058"/>
<text x="658.90" y="686.30" font-size="5.9" fill="#333">3.2</text>
<circle cx="651.2" cy="692.6" r="3.0" fill="#ff0010"/>
<text x="658.90" y="694.70" font-size="5.9" fill="#333">3.4</text>
<g transform="translate(242.00,44.40) scale(1.2513,1.2536)">
<path d="M27.20,4.00 C27.68,3.80 29.28,4.78 30.50,5.10 C31.72,5.42 33.15,5.72 34.50,5.90 C35.85,6.08 37.23,6.10 38.60,6.20 C39.97,6.30 41.33,6.40 42.70,6.50 C44.07,6.60 45.60,6.67 46.80,6.80 C48.00,6.93 49.42,6.85 49.90,7.30 C50.38,7.75 50.22,9.07 49.70,9.50 C49.18,9.93 47.97,9.85 46.80,9.90 C45.63,9.95 44.07,9.90 42.70,9.80 C41.33,9.70 39.97,9.47 38.60,9.30 C37.23,9.13 35.85,9.05 34.50,8.80 C33.15,8.55 31.65,8.22 30.50,7.80 C29.35,7.38 28.15,6.93 27.60,6.30 C27.05,5.67 26.72,4.20 27.20,4.00Z" fill="#f0f9e9"/>
<path d="M55.00,7.90 C55.52,7.73 57.08,7.65 58.10,7.90 C59.12,8.15 59.92,8.80 61.10,9.40 C62.28,10.00 63.92,10.65 65.20,11.50 C66.48,12.35 67.68,13.48 68.80,14.50 C69.92,15.52 70.95,16.57 71.90,17.60 C72.85,18.63 73.90,19.52 74.50,20.70 C75.10,21.88 74.92,23.52 75.50,24.70 C76.08,25.88 77.23,26.77 78.00,27.80 C78.77,28.83 79.43,30.20 80.10,30.90 C80.77,31.60 81.32,32.17 82.00,32.00 C82.68,31.83 83.33,30.77 84.20,29.90 C85.07,29.03 86.43,27.83 87.20,26.80 C87.97,25.77 88.53,24.90 88.80,23.70 C89.07,22.50 88.72,20.95 88.80,19.60 C88.88,18.25 88.72,16.82 89.30,15.60 C89.88,14.38 91.37,12.73 92.30,12.30 C93.23,11.87 93.87,12.45 94.90,13.00 C95.93,13.55 97.22,14.67 98.50,15.60 C99.78,16.53 101.23,17.58 102.60,18.60 C103.97,19.62 105.52,20.68 106.70,21.70 C107.88,22.72 108.52,23.52 109.70,24.70 C110.88,25.88 112.95,27.43 113.80,28.80 C114.65,30.17 114.45,31.53 114.80,32.90 C115.15,34.27 115.55,35.80 115.90,37.00 C116.25,38.20 116.57,39.08 116.90,40.10 C117.23,41.12 117.65,41.92 117.90,43.10 C118.15,44.28 118.48,46.00 118.40,47.20 C118.32,48.40 118.00,49.10 117.40,50.30 C116.80,51.50 115.57,53.42 114.80,54.40 C114.03,55.38 113.65,55.55 112.80,56.20 C111.95,56.85 110.90,57.87 109.70,58.30 C108.50,58.73 106.97,59.23 105.60,58.80 C104.23,58.37 102.85,56.47 101.50,55.70 C100.15,54.93 98.68,54.52 97.50,54.20 C96.32,53.88 95.27,54.12 94.40,53.80 C93.53,53.48 93.15,53.05 92.30,52.30 C91.45,51.55 90.48,50.32 89.30,49.30 C88.12,48.28 86.73,47.23 85.20,46.20 C83.67,45.17 81.80,43.95 80.10,43.10 C78.40,42.25 76.37,41.60 75.00,41.10 C73.63,40.60 72.77,40.70 71.90,40.10 C71.03,39.50 70.48,38.53 69.80,37.50 C69.12,36.47 68.48,35.35 67.80,33.90 C67.12,32.45 66.38,30.50 65.70,28.80 C65.02,27.10 64.47,25.40 63.70,23.70 C62.93,22.00 62.05,20.30 61.10,18.60 C60.15,16.90 59.02,15.12 58.00,13.50 C56.98,11.88 55.50,9.83 55.00,8.90 C54.50,7.97 54.48,8.07 55.00,7.90Z" fill="#f0f9e9"/>
<path d="M67.20,37.50 C67.90,36.67 70.15,37.42 71.20,38.50 C72.25,39.58 72.95,42.25 73.50,44.00 C74.05,45.75 74.50,47.67 74.50,49.00 C74.50,50.33 74.17,51.67 73.50,52.00 C72.83,52.33 71.33,51.83 70.50,51.00 C69.67,50.17 69.08,48.25 68.50,47.00 C67.92,45.75 67.22,45.08 67.00,43.50 C66.78,41.92 66.50,38.33 67.20,37.50Z" fill="#f0f9e9"/>
<path d="M71.30,49.00 C71.65,49.33 72.62,50.23 73.40,51.00 C74.18,51.77 75.05,52.83 76.00,53.60 C76.95,54.37 78.27,54.95 79.10,55.60 C79.93,56.25 80.72,56.85 81.00,57.50 C81.28,58.15 80.83,59.17 80.80,59.50" fill="none" stroke="#f0f9e9" stroke-width="3.6" stroke-linecap="round" stroke-linejoin="round"/>
<path d="M80.80,59.50 C80.58,59.75 80.05,60.62 79.50,61.00 C78.95,61.38 78.50,61.73 77.50,61.80 C76.50,61.87 74.72,61.77 73.50,61.40 C72.28,61.03 70.75,59.90 70.20,59.60" fill="none" stroke="#f0f9e9" stroke-width="3.0" stroke-linecap="round" stroke-linejoin="round"/>
<path d="M10.50,30.90 C10.73,29.58 11.57,28.67 12.60,28.10 C13.63,27.53 15.35,27.80 16.70,27.50 C18.05,27.20 19.43,27.07 20.70,26.30 C21.97,25.53 23.15,23.80 24.30,22.90 C25.45,22.00 26.48,21.30 27.60,20.90 C28.72,20.50 29.93,20.27 31.00,20.50 C32.07,20.73 33.28,21.38 34.00,22.30 C34.72,23.22 35.12,24.77 35.30,26.00 C35.48,27.23 34.68,29.23 35.10,29.70 C35.52,30.17 36.78,29.05 37.80,28.80 C38.82,28.55 40.22,28.02 41.20,28.20 C42.18,28.38 43.10,29.03 43.70,29.90 C44.30,30.77 44.75,32.25 44.80,33.40 C44.85,34.55 44.52,35.77 44.00,36.80 C43.48,37.83 42.60,38.80 41.70,39.60 C40.80,40.40 39.62,40.83 38.60,41.60 C37.58,42.37 36.78,43.52 35.60,44.20 C34.42,44.88 32.87,45.37 31.50,45.70 C30.13,46.03 28.77,46.25 27.40,46.20 C26.03,46.15 24.67,45.80 23.30,45.40 C21.93,45.00 20.40,44.43 19.20,43.80 C18.00,43.17 17.03,42.38 16.10,41.60 C15.17,40.82 14.42,40.03 13.60,39.10 C12.78,38.17 11.72,37.37 11.20,36.00 C10.68,34.63 10.27,32.22 10.50,30.90Z" fill="#f0f9e9"/>
<path d="M42.70,42.10 C42.87,41.25 44.77,40.37 45.80,39.60 C46.83,38.83 47.72,38.13 48.90,37.50 C50.08,36.87 51.55,36.18 52.90,35.80 C54.25,35.42 55.88,35.08 57.00,35.20 C58.12,35.32 59.25,35.77 59.60,36.50 C59.95,37.23 59.62,38.67 59.10,39.60 C58.58,40.53 57.53,41.33 56.50,42.10 C55.47,42.87 54.17,43.68 52.90,44.20 C51.63,44.72 50.25,45.12 48.90,45.20 C47.55,45.28 45.83,45.22 44.80,44.70 C43.77,44.18 42.53,42.95 42.70,42.10Z" fill="#ebf7e5"/>
<path d="M42.70,44.40 C43.63,43.38 45.92,43.48 47.80,43.40 C49.68,43.32 52.12,43.38 54.00,43.90 C55.88,44.42 57.83,45.38 59.10,46.50 C60.37,47.62 61.10,49.25 61.60,50.60 C62.10,51.95 62.18,53.25 62.10,54.60 C62.02,55.95 61.18,57.58 61.10,58.70 C61.02,59.82 61.93,60.78 61.60,61.30 C61.27,61.82 60.20,61.97 59.10,61.80 C58.00,61.63 56.37,60.82 55.00,60.30 C53.63,59.78 52.27,59.30 50.90,58.70 C49.53,58.10 48.00,57.55 46.80,56.70 C45.60,55.85 44.47,54.80 43.70,53.60 C42.93,52.40 42.37,51.03 42.20,49.50 C42.03,47.97 41.77,45.42 42.70,44.40Z" fill="#e5f5e0"/>
<path d="M30.50,47.50 C30.33,46.13 32.73,45.42 33.50,44.40 C34.27,43.38 34.42,41.82 35.10,41.40 C35.78,40.98 36.67,41.57 37.60,41.90 C38.53,42.23 39.85,42.98 40.70,43.40 C41.55,43.82 42.45,43.38 42.70,44.40 C42.95,45.42 42.20,47.80 42.20,49.50 C42.20,51.20 42.78,53.07 42.70,54.60 C42.62,56.13 41.70,57.17 41.70,58.70 C41.70,60.23 42.18,62.43 42.70,63.80 C43.22,65.17 43.95,66.22 44.80,66.90 C45.65,67.58 47.38,67.38 47.80,67.90 C48.22,68.42 47.98,69.65 47.30,70.00 C46.62,70.35 44.63,70.52 43.70,70.00 C42.77,69.48 42.37,67.93 41.70,66.90 C41.03,65.87 40.38,64.82 39.70,63.80 C39.02,62.78 38.37,61.65 37.60,60.80 C36.83,59.95 35.78,59.38 35.10,58.70 C34.42,58.02 33.60,57.72 33.50,56.70 C33.40,55.68 35.00,54.13 34.50,52.60 C34.00,51.07 30.67,48.87 30.50,47.50Z" fill="#e9f6e3"/>
<circle cx="38.6" cy="47.5" r="3.0" fill="#fff"/>
<path d="M5.40,53.60 C5.75,52.80 6.88,52.65 8.00,52.40 C9.12,52.15 10.73,51.98 12.10,52.10 C13.47,52.22 14.85,52.85 16.20,53.10 C17.55,53.35 18.85,53.68 20.20,53.60 C21.55,53.52 23.10,53.10 24.30,52.60 C25.50,52.10 26.37,51.28 27.40,50.60 C28.43,49.92 29.48,49.10 30.50,48.50 C31.52,47.90 32.65,47.00 33.50,47.00 C34.35,47.00 35.43,47.57 35.60,48.50 C35.77,49.43 34.85,51.23 34.50,52.60 C34.15,53.97 34.00,55.52 33.50,56.70 C33.00,57.88 32.35,58.85 31.50,59.70 C30.65,60.55 29.60,61.37 28.40,61.80 C27.20,62.23 25.67,62.27 24.30,62.30 C22.93,62.33 21.55,62.00 20.20,62.00 C18.85,62.00 17.55,62.33 16.20,62.30 C14.85,62.27 13.47,62.23 12.10,61.80 C10.73,61.37 9.03,60.47 8.00,59.70 C6.97,58.93 6.33,58.22 5.90,57.20 C5.47,56.18 5.05,54.40 5.40,53.60Z" fill="#f0f9e9"/>
<path d="M13.90,75.90 C14.57,76.38 17.23,78.32 17.90,78.80" fill="none" stroke="#f0f9e9" stroke-width="2.0" stroke-linecap="round" stroke-linejoin="round"/>
<path d="M28.40,79.80 C28.83,78.92 29.48,78.05 30.50,77.50 C31.52,76.95 32.80,76.72 34.50,76.50 C36.20,76.28 38.98,76.08 40.70,76.20 C42.42,76.32 43.78,76.78 44.80,77.20 C45.82,77.62 46.80,78.10 46.80,78.70 C46.80,79.30 45.82,80.20 44.80,80.80 C43.78,81.40 42.07,81.72 40.70,82.30 C39.33,82.88 37.97,83.73 36.60,84.30 C35.23,84.87 33.70,85.60 32.50,85.70 C31.30,85.80 30.17,85.38 29.40,84.90 C28.63,84.42 28.07,83.65 27.90,82.80 C27.73,81.95 27.97,80.68 28.40,79.80Z" fill="#0866a9"/>
<path d="M46.80,77.70 C47.82,76.67 50.88,75.62 51.90,74.60 C52.92,73.58 52.05,72.45 52.90,71.60 C53.75,70.75 55.28,69.50 57.00,69.50 C58.72,69.50 61.50,70.75 63.20,71.60 C64.90,72.45 66.43,73.67 67.20,74.60 C67.97,75.53 68.13,76.52 67.80,77.20 C67.47,77.88 65.97,77.77 65.20,78.70 C64.43,79.63 63.20,81.77 63.20,82.80 C63.20,83.83 64.53,84.05 65.20,84.90 C65.87,85.75 66.08,87.23 67.20,87.90 C68.32,88.57 69.92,88.55 71.90,88.90 C73.88,89.25 77.05,89.40 79.10,90.00 C81.15,90.60 82.93,91.32 84.20,92.50 C85.47,93.68 86.37,95.48 86.70,97.10 C87.03,98.72 86.80,100.83 86.20,102.20 C85.60,103.57 84.63,104.53 83.10,105.30 C81.57,106.07 79.03,106.47 77.00,106.80 C74.97,107.13 73.20,107.55 70.90,107.30 C68.60,107.05 65.52,105.97 63.20,105.30 C60.88,104.63 59.40,103.82 57.00,103.30 C54.60,102.78 51.02,102.55 48.80,102.20 C46.58,101.85 44.72,101.70 43.70,101.20 C42.68,100.70 42.18,99.88 42.70,99.20 C43.22,98.52 45.43,97.78 46.80,97.10 C48.17,96.42 50.22,95.95 50.90,95.10 C51.58,94.25 51.42,93.20 50.90,92.00 C50.38,90.80 48.65,89.08 47.80,87.90 C46.95,86.72 46.13,86.08 45.80,84.90 C45.47,83.72 45.63,82.00 45.80,80.80 C45.97,79.60 45.78,78.73 46.80,77.70Z" fill="#dff3da"/>
<path d="M47.50,77.50 C47.98,76.60 51.00,75.58 51.90,74.60 C52.80,73.62 52.05,72.45 52.90,71.60 C53.75,70.75 55.28,69.50 57.00,69.50 C58.72,69.50 61.50,70.75 63.20,71.60 C64.90,72.45 66.43,73.67 67.20,74.60 C67.97,75.53 68.13,76.52 67.80,77.20 C67.47,77.88 66.50,78.32 65.20,78.70 C63.90,79.08 61.87,79.28 60.00,79.50 C58.13,79.72 55.83,79.92 54.00,80.00 C52.17,80.08 50.08,80.42 49.00,80.00 C47.92,79.58 47.02,78.40 47.50,77.50Z" fill="#d1edca"/>
<path d="M79.10,82.80 C79.27,81.85 80.92,80.72 82.10,79.70 C83.28,78.68 84.83,77.55 86.20,76.70 C87.57,75.85 88.77,74.77 90.30,74.60 C91.83,74.43 93.70,74.85 95.40,75.70 C97.10,76.55 98.97,78.35 100.50,79.70 C102.03,81.05 103.48,82.43 104.60,83.80 C105.72,85.17 107.03,86.70 107.20,87.90 C107.37,89.10 106.72,90.40 105.60,91.00 C104.48,91.60 102.37,91.58 100.50,91.50 C98.63,91.42 96.62,91.10 94.40,90.50 C92.18,89.90 89.42,88.75 87.20,87.90 C84.98,87.05 82.45,86.25 81.10,85.40 C79.75,84.55 78.93,83.75 79.10,82.80Z" fill="#e9f6e3"/>
<path d="M89.60,67.20 C90.12,66.97 92.08,69.22 93.40,69.90 C94.72,70.58 95.97,71.10 97.50,71.30 C99.03,71.50 100.90,71.28 102.60,71.10 C104.30,70.92 106.00,70.52 107.70,70.20 C109.40,69.88 110.85,69.45 112.80,69.20 C114.75,68.95 118.18,68.53 119.40,68.70 C120.62,68.87 120.87,69.78 120.10,70.20 C119.33,70.62 116.53,70.60 114.80,71.20 C113.07,71.80 111.05,72.88 109.70,73.80 C108.35,74.72 108.07,75.93 106.70,76.70 C105.33,77.47 103.03,78.30 101.50,78.40 C99.97,78.50 98.85,77.90 97.50,77.30 C96.15,76.70 94.60,75.80 93.40,74.80 C92.20,73.80 90.93,72.57 90.30,71.30 C89.67,70.03 89.08,67.43 89.60,67.20Z" fill="#ecf8e6"/>
<path d="M94.40,59.80 C95.33,60.08 97.90,60.97 100.00,61.50 C102.10,62.03 104.78,62.52 107.00,63.00 C109.22,63.48 112.25,64.17 113.30,64.40" fill="none" stroke="#ecf8e6" stroke-width="3.0" stroke-linecap="round" stroke-linejoin="round"/>
<path d="M88.30,64.40 C89.00,64.73 90.97,65.72 92.50,66.40 C94.03,67.08 96.67,68.15 97.50,68.50" fill="none" stroke="#f0f9e9" stroke-width="2.4" stroke-linecap="round" stroke-linejoin="round"/>
<path d="M109.70,73.60 C110.73,74.20 113.85,76.43 115.90,77.20 C117.95,77.97 120.13,78.12 122.00,78.20 C123.87,78.28 125.83,77.52 127.10,77.70 C128.37,77.88 129.27,78.28 129.60,79.30 C129.93,80.32 129.43,82.37 129.10,83.80 C128.77,85.23 128.10,86.53 127.60,87.90 C127.10,89.27 126.43,90.88 126.10,92.00 C125.77,93.12 125.68,94.17 125.60,94.60" fill="none" stroke="#eef9e8" stroke-width="3.0" stroke-linecap="round" stroke-linejoin="round"/>
<path d="M66.80,66.00 C67.67,66.33 70.13,67.30 72.00,68.00 C73.87,68.70 75.75,69.37 78.00,70.20 C80.25,71.03 84.25,72.53 85.50,73.00" fill="none" stroke="#ebf7e5" stroke-width="3.6" stroke-linecap="round" stroke-linejoin="round"/>
<path d="M37.60,73.20 C38.50,73.10 41.13,72.77 43.00,72.60 C44.87,72.43 47.83,72.27 48.80,72.20" fill="none" stroke="#f0f9e9" stroke-width="1.6" stroke-linecap="round" stroke-linejoin="round"/>
<circle cx="53.4" cy="66.3" r="1.6" fill="#e5f5e0"/>
<path d="M38.00,77.50 C38.67,76.75 40.87,76.55 42.00,76.50 C43.13,76.45 44.00,76.83 44.80,77.20 C45.60,77.57 46.80,78.10 46.80,78.70 C46.80,79.30 45.77,80.33 44.80,80.80 C43.83,81.27 42.13,81.47 41.00,81.50 C39.87,81.53 38.50,81.67 38.00,81.00 C37.50,80.33 37.33,78.25 38.00,77.50Z" fill="#389bc6"/>
<path d="M42.50,65.00 C42.83,64.33 44.00,63.83 45.00,64.00 C46.00,64.17 48.00,65.25 48.50,66.00 C49.00,66.75 48.58,68.00 48.00,68.50 C47.42,69.00 45.83,69.08 45.00,69.00 C44.17,68.92 43.42,68.67 43.00,68.00 C42.58,67.33 42.17,65.67 42.50,65.00Z" fill="#3ea1c9"/>
<circle cx="41.2" cy="61.5" r="1.1" fill="#8dd3be"/>
<path d="M44.00,77.30 C44.83,76.55 47.33,76.08 49.00,75.80 C50.67,75.52 52.83,75.32 54.00,75.60 C55.17,75.88 56.17,76.85 56.00,77.50 C55.83,78.15 54.33,79.03 53.00,79.50 C51.67,79.97 49.50,80.17 48.00,80.30 C46.50,80.43 44.67,80.80 44.00,80.30 C43.33,79.80 43.17,78.05 44.00,77.30Z" fill="#98d7ba"/>
</g>
<rect x="242.00" y="44.40" width="170.30" height="139.40" fill="none" stroke="#111" stroke-width="1.25"/>
<text x="326.80" y="40.80" font-size="9.6" font-style="italic" text-anchor="middle" fill="#080808">TREM2</text>
<defs><linearGradient id="gb413" x1="0" y1="1" x2="0" y2="0"><stop offset="0.000" stop-color="#f7fcf0"/><stop offset="0.062" stop-color="#ebf7e5"/><stop offset="0.125" stop-color="#e0f3db"/><stop offset="0.188" stop-color="#d6efd0"/><stop offset="0.250" stop-color="#ccebc5"/><stop offset="0.312" stop-color="#bae4bd"/><stop offset="0.375" stop-color="#a7ddb5"/><stop offset="0.438" stop-color="#91d4bd"/><stop offset="0.500" stop-color="#7accc4"/><stop offset="0.562" stop-color="#64bfcc"/><stop offset="0.625" stop-color="#4db2d3"/><stop offset="0.688" stop-color="#3c9fc8"/><stop offset="0.750" stop-color="#2a8bbe"/><stop offset="0.812" stop-color="#1979b5"/><stop offset="0.875" stop-color="#0867ab"/><stop offset="0.938" stop-color="#085395"/><stop offset="1.000" stop-color="#084081"/></linearGradient></defs>
<rect x="413.00" y="44.40" width="5.80" height="139.40" fill="url(#gb413)" stroke="#222" stroke-width="0.9"/>
<line x1="418.80" y1="183.80" x2="420.40" y2="183.80" stroke="#111" stroke-width="0.7"/>
<text x="422.30" y="186.50" font-size="7.5" fill="#080808">0.00</text>
<line x1="418.80" y1="164.14" x2="420.40" y2="164.14" stroke="#111" stroke-width="0.7"/>
<text x="422.30" y="166.84" font-size="7.5" fill="#080808">0.05</text>
<line x1="418.80" y1="144.49" x2="420.40" y2="144.49" stroke="#111" stroke-width="0.7"/>
<text x="422.30" y="147.19" font-size="7.5" fill="#080808">0.10</text>
<line x1="418.80" y1="124.83" x2="420.40" y2="124.83" stroke="#111" stroke-width="0.7"/>
<text x="422.30" y="127.53" font-size="7.5" fill="#080808">0.15</text>
<line x1="418.80" y1="105.18" x2="420.40" y2="105.18" stroke="#111" stroke-width="0.7"/>
<text x="422.30" y="107.88" font-size="7.5" fill="#080808">0.20</text>
<line x1="418.80" y1="85.52" x2="420.40" y2="85.52" stroke="#111" stroke-width="0.7"/>
<text x="422.30" y="88.22" font-size="7.5" fill="#080808">0.25</text>
<line x1="418.80" y1="65.86" x2="420.40" y2="65.86" stroke="#111" stroke-width="0.7"/>
<text x="422.30" y="68.56" font-size="7.5" fill="#080808">0.30</text>
<line x1="418.80" y1="46.21" x2="420.40" y2="46.21" stroke="#111" stroke-width="0.7"/>
<text x="422.30" y="48.91" font-size="7.5" fill="#080808">0.35</text>
<text x="327.60" y="193.10" font-size="8.2" text-anchor="middle" fill="#080808">UMAP1</text>
<text transform="translate(239.4,114) rotate(-90)" font-size="8.2" text-anchor="middle" fill="#080808">UMAP2</text>
<g transform="translate(14.50,790.80) scale(0.9971,1.0009)">
<path d="M27.20,4.00 C27.68,3.80 29.28,4.78 30.50,5.10 C31.72,5.42 33.15,5.72 34.50,5.90 C35.85,6.08 37.23,6.10 38.60,6.20 C39.97,6.30 41.33,6.40 42.70,6.50 C44.07,6.60 45.60,6.67 46.80,6.80 C48.00,6.93 49.42,6.85 49.90,7.30 C50.38,7.75 50.22,9.07 49.70,9.50 C49.18,9.93 47.97,9.85 46.80,9.90 C45.63,9.95 44.07,9.90 42.70,9.80 C41.33,9.70 39.97,9.47 38.60,9.30 C37.23,9.13 35.85,9.05 34.50,8.80 C33.15,8.55 31.65,8.22 30.50,7.80 C29.35,7.38 28.15,6.93 27.60,6.30 C27.05,5.67 26.72,4.20 27.20,4.00Z" fill="#d1edca"/>
<path d="M55.00,7.90 C55.52,7.73 57.08,7.65 58.10,7.90 C59.12,8.15 59.92,8.80 61.10,9.40 C62.28,10.00 63.92,10.65 65.20,11.50 C66.48,12.35 67.68,13.48 68.80,14.50 C69.92,15.52 70.95,16.57 71.90,17.60 C72.85,18.63 73.90,19.52 74.50,20.70 C75.10,21.88 74.92,23.52 75.50,24.70 C76.08,25.88 77.23,26.77 78.00,27.80 C78.77,28.83 79.43,30.20 80.10,30.90 C80.77,31.60 81.32,32.17 82.00,32.00 C82.68,31.83 83.33,30.77 84.20,29.90 C85.07,29.03 86.43,27.83 87.20,26.80 C87.97,25.77 88.53,24.90 88.80,23.70 C89.07,22.50 88.72,20.95 88.80,19.60 C88.88,18.25 88.72,16.82 89.30,15.60 C89.88,14.38 91.37,12.73 92.30,12.30 C93.23,11.87 93.87,12.45 94.90,13.00 C95.93,13.55 97.22,14.67 98.50,15.60 C99.78,16.53 101.23,17.58 102.60,18.60 C103.97,19.62 105.52,20.68 106.70,21.70 C107.88,22.72 108.52,23.52 109.70,24.70 C110.88,25.88 112.95,27.43 113.80,28.80 C114.65,30.17 114.45,31.53 114.80,32.90 C115.15,34.27 115.55,35.80 115.90,37.00 C116.25,38.20 116.57,39.08 116.90,40.10 C117.23,41.12 117.65,41.92 117.90,43.10 C118.15,44.28 118.48,46.00 118.40,47.20 C118.32,48.40 118.00,49.10 117.40,50.30 C116.80,51.50 115.57,53.42 114.80,54.40 C114.03,55.38 113.65,55.55 112.80,56.20 C111.95,56.85 110.90,57.87 109.70,58.30 C108.50,58.73 106.97,59.23 105.60,58.80 C104.23,58.37 102.85,56.47 101.50,55.70 C100.15,54.93 98.68,54.52 97.50,54.20 C96.32,53.88 95.27,54.12 94.40,53.80 C93.53,53.48 93.15,53.05 92.30,52.30 C91.45,51.55 90.48,50.32 89.30,49.30 C88.12,48.28 86.73,47.23 85.20,46.20 C83.67,45.17 81.80,43.95 80.10,43.10 C78.40,42.25 76.37,41.60 75.00,41.10 C73.63,40.60 72.77,40.70 71.90,40.10 C71.03,39.50 70.48,38.53 69.80,37.50 C69.12,36.47 68.48,35.35 67.80,33.90 C67.12,32.45 66.38,30.50 65.70,28.80 C65.02,27.10 64.47,25.40 63.70,23.70 C62.93,22.00 62.05,20.30 61.10,18.60 C60.15,16.90 59.02,15.12 58.00,13.50 C56.98,11.88 55.50,9.83 55.00,8.90 C54.50,7.97 54.48,8.07 55.00,7.90Z" fill="#d1edca"/>
<path d="M67.20,37.50 C67.90,36.67 70.15,37.42 71.20,38.50 C72.25,39.58 72.95,42.25 73.50,44.00 C74.05,45.75 74.50,47.67 74.50,49.00 C74.50,50.33 74.17,51.67 73.50,52.00 C72.83,52.33 71.33,51.83 70.50,51.00 C69.67,50.17 69.08,48.25 68.50,47.00 C67.92,45.75 67.22,45.08 67.00,43.50 C66.78,41.92 66.50,38.33 67.20,37.50Z" fill="#d1edca"/>
<path d="M71.30,49.00 C71.65,49.33 72.62,50.23 73.40,51.00 C74.18,51.77 75.05,52.83 76.00,53.60 C76.95,54.37 78.27,54.95 79.10,55.60 C79.93,56.25 80.72,56.85 81.00,57.50 C81.28,58.15 80.83,59.17 80.80,59.50" fill="none" stroke="#d1edca" stroke-width="3.6" stroke-linecap="round" stroke-linejoin="round"/>
<path d="M80.80,59.50 C80.58,59.75 80.05,60.62 79.50,61.00 C78.95,61.38 78.50,61.73 77.50,61.80 C76.50,61.87 74.72,61.77 73.50,61.40 C72.28,61.03 70.75,59.90 70.20,59.60" fill="none" stroke="#d1edca" stroke-width="3.0" stroke-linecap="round" stroke-linejoin="round"/>
<path d="M10.50,30.90 C10.73,29.58 11.57,28.67 12.60,28.10 C13.63,27.53 15.35,27.80 16.70,27.50 C18.05,27.20 19.43,27.07 20.70,26.30 C21.97,25.53 23.15,23.80 24.30,22.90 C25.45,22.00 26.48,21.30 27.60,20.90 C28.72,20.50 29.93,20.27 31.00,20.50 C32.07,20.73 33.28,21.38 34.00,22.30 C34.72,23.22 35.12,24.77 35.30,26.00 C35.48,27.23 34.68,29.23 35.10,29.70 C35.52,30.17 36.78,29.05 37.80,28.80 C38.82,28.55 40.22,28.02 41.20,28.20 C42.18,28.38 43.10,29.03 43.70,29.90 C44.30,30.77 44.75,32.25 44.80,33.40 C44.85,34.55 44.52,35.77 44.00,36.80 C43.48,37.83 42.60,38.80 41.70,39.60 C40.80,40.40 39.62,40.83 38.60,41.60 C37.58,42.37 36.78,43.52 35.60,44.20 C34.42,44.88 32.87,45.37 31.50,45.70 C30.13,46.03 28.77,46.25 27.40,46.20 C26.03,46.15 24.67,45.80 23.30,45.40 C21.93,45.00 20.40,44.43 19.20,43.80 C18.00,43.17 17.03,42.38 16.10,41.60 C15.17,40.82 14.42,40.03 13.60,39.10 C12.78,38.17 11.72,37.37 11.20,36.00 C10.68,34.63 10.27,32.22 10.50,30.90Z" fill="#d1edca"/>
<path d="M42.70,42.10 C42.87,41.25 44.77,40.37 45.80,39.60 C46.83,38.83 47.72,38.13 48.90,37.50 C50.08,36.87 51.55,36.18 52.90,35.80 C54.25,35.42 55.88,35.08 57.00,35.20 C58.12,35.32 59.25,35.77 59.60,36.50 C59.95,37.23 59.62,38.67 59.10,39.60 C58.58,40.53 57.53,41.33 56.50,42.10 C55.47,42.87 54.17,43.68 52.90,44.20 C51.63,44.72 50.25,45.12 48.90,45.20 C47.55,45.28 45.83,45.22 44.80,44.70 C43.77,44.18 42.53,42.95 42.70,42.10Z" fill="#e5f5e0"/>
<path d="M42.70,44.40 C43.63,43.38 45.92,43.48 47.80,43.40 C49.68,43.32 52.12,43.38 54.00,43.90 C55.88,44.42 57.83,45.38 59.10,46.50 C60.37,47.62 61.10,49.25 61.60,50.60 C62.10,51.95 62.18,53.25 62.10,54.60 C62.02,55.95 61.18,57.58 61.10,58.70 C61.02,59.82 61.93,60.78 61.60,61.30 C61.27,61.82 60.20,61.97 59.10,61.80 C58.00,61.63 56.37,60.82 55.00,60.30 C53.63,59.78 52.27,59.30 50.90,58.70 C49.53,58.10 48.00,57.55 46.80,56.70 C45.60,55.85 44.47,54.80 43.70,53.60 C42.93,52.40 42.37,51.03 42.20,49.50 C42.03,47.97 41.77,45.42 42.70,44.40Z" fill="#e1f4dc"/>
<path d="M30.50,47.50 C30.33,46.13 32.73,45.42 33.50,44.40 C34.27,43.38 34.42,41.82 35.10,41.40 C35.78,40.98 36.67,41.57 37.60,41.90 C38.53,42.23 39.85,42.98 40.70,43.40 C41.55,43.82 42.45,43.38 42.70,44.40 C42.95,45.42 42.20,47.80 42.20,49.50 C42.20,51.20 42.78,53.07 42.70,54.60 C42.62,56.13 41.70,57.17 41.70,58.70 C41.70,60.23 42.18,62.43 42.70,63.80 C43.22,65.17 43.95,66.22 44.80,66.90 C45.65,67.58 47.38,67.38 47.80,67.90 C48.22,68.42 47.98,69.65 47.30,70.00 C46.62,70.35 44.63,70.52 43.70,70.00 C42.77,69.48 42.37,67.93 41.70,66.90 C41.03,65.87 40.38,64.82 39.70,63.80 C39.02,62.78 38.37,61.65 37.60,60.80 C36.83,59.95 35.78,59.38 35.10,58.70 C34.42,58.02 33.60,57.72 33.50,56.70 C33.40,55.68 35.00,54.13 34.50,52.60 C34.00,51.07 30.67,48.87 30.50,47.50Z" fill="#d4eece"/>
<circle cx="38.6" cy="47.5" r="3.0" fill="#fff"/>
<path d="M5.40,53.60 C5.75,52.80 6.88,52.65 8.00,52.40 C9.12,52.15 10.73,51.98 12.10,52.10 C13.47,52.22 14.85,52.85 16.20,53.10 C17.55,53.35 18.85,53.68 20.20,53.60 C21.55,53.52 23.10,53.10 24.30,52.60 C25.50,52.10 26.37,51.28 27.40,50.60 C28.43,49.92 29.48,49.10 30.50,48.50 C31.52,47.90 32.65,47.00 33.50,47.00 C34.35,47.00 35.43,47.57 35.60,48.50 C35.77,49.43 34.85,51.23 34.50,52.60 C34.15,53.97 34.00,55.52 33.50,56.70 C33.00,57.88 32.35,58.85 31.50,59.70 C30.65,60.55 29.60,61.37 28.40,61.80 C27.20,62.23 25.67,62.27 24.30,62.30 C22.93,62.33 21.55,62.00 20.20,62.00 C18.85,62.00 17.55,62.33 16.20,62.30 C14.85,62.27 13.47,62.23 12.10,61.80 C10.73,61.37 9.03,60.47 8.00,59.70 C6.97,58.93 6.33,58.22 5.90,57.20 C5.47,56.18 5.05,54.40 5.40,53.60Z" fill="#d1edca"/>
<path d="M13.90,75.90 C14.57,76.38 17.23,78.32 17.90,78.80" fill="none" stroke="#d1edca" stroke-width="2.0" stroke-linecap="round" stroke-linejoin="round"/>
<path d="M28.40,79.80 C28.83,78.92 29.48,78.05 30.50,77.50 C31.52,76.95 32.80,76.72 34.50,76.50 C36.20,76.28 38.98,76.08 40.70,76.20 C42.42,76.32 43.78,76.78 44.80,77.20 C45.82,77.62 46.80,78.10 46.80,78.70 C46.80,79.30 45.82,80.20 44.80,80.80 C43.78,81.40 42.07,81.72 40.70,82.30 C39.33,82.88 37.97,83.73 36.60,84.30 C35.23,84.87 33.70,85.60 32.50,85.70 C31.30,85.80 30.17,85.38 29.40,84.90 C28.63,84.42 28.07,83.65 27.90,82.80 C27.73,81.95 27.97,80.68 28.40,79.80Z" fill="#50b4d2"/>
<path d="M46.80,77.70 C47.82,76.67 50.88,75.62 51.90,74.60 C52.92,73.58 52.05,72.45 52.90,71.60 C53.75,70.75 55.28,69.50 57.00,69.50 C58.72,69.50 61.50,70.75 63.20,71.60 C64.90,72.45 66.43,73.67 67.20,74.60 C67.97,75.53 68.13,76.52 67.80,77.20 C67.47,77.88 65.97,77.77 65.20,78.70 C64.43,79.63 63.20,81.77 63.20,82.80 C63.20,83.83 64.53,84.05 65.20,84.90 C65.87,85.75 66.08,87.23 67.20,87.90 C68.32,88.57 69.92,88.55 71.90,88.90 C73.88,89.25 77.05,89.40 79.10,90.00 C81.15,90.60 82.93,91.32 84.20,92.50 C85.47,93.68 86.37,95.48 86.70,97.10 C87.03,98.72 86.80,100.83 86.20,102.20 C85.60,103.57 84.63,104.53 83.10,105.30 C81.57,106.07 79.03,106.47 77.00,106.80 C74.97,107.13 73.20,107.55 70.90,107.30 C68.60,107.05 65.52,105.97 63.20,105.30 C60.88,104.63 59.40,103.82 57.00,103.30 C54.60,102.78 51.02,102.55 48.80,102.20 C46.58,101.85 44.72,101.70 43.70,101.20 C42.68,100.70 42.18,99.88 42.70,99.20 C43.22,98.52 45.43,97.78 46.80,97.10 C48.17,96.42 50.22,95.95 50.90,95.10 C51.58,94.25 51.42,93.20 50.90,92.00 C50.38,90.80 48.65,89.08 47.80,87.90 C46.95,86.72 46.13,86.08 45.80,84.90 C45.47,83.72 45.63,82.00 45.80,80.80 C45.97,79.60 45.78,78.73 46.80,77.70Z" fill="#c6e9c2"/>
<path d="M47.50,77.50 C47.98,76.60 51.00,75.58 51.90,74.60 C52.80,73.62 52.05,72.45 52.90,71.60 C53.75,70.75 55.28,69.50 57.00,69.50 C58.72,69.50 61.50,70.75 63.20,71.60 C64.90,72.45 66.43,73.67 67.20,74.60 C67.97,75.53 68.13,76.52 67.80,77.20 C67.47,77.88 66.50,78.32 65.20,78.70 C63.90,79.08 61.87,79.28 60.00,79.50 C58.13,79.72 55.83,79.92 54.00,80.00 C52.17,80.08 50.08,80.42 49.00,80.00 C47.92,79.58 47.02,78.40 47.50,77.50Z" fill="#73c8c7"/>
<path d="M79.10,82.80 C79.27,81.85 80.92,80.72 82.10,79.70 C83.28,78.68 84.83,77.55 86.20,76.70 C87.57,75.85 88.77,74.77 90.30,74.60 C91.83,74.43 93.70,74.85 95.40,75.70 C97.10,76.55 98.97,78.35 100.50,79.70 C102.03,81.05 103.48,82.43 104.60,83.80 C105.72,85.17 107.03,86.70 107.20,87.90 C107.37,89.10 106.72,90.40 105.60,91.00 C104.48,91.60 102.37,91.58 100.50,91.50 C98.63,91.42 96.62,91.10 94.40,90.50 C92.18,89.90 89.42,88.75 87.20,87.90 C84.98,87.05 82.45,86.25 81.10,85.40 C79.75,84.55 78.93,83.75 79.10,82.80Z" fill="#ccebc5"/>
<path d="M89.60,67.20 C90.12,66.97 92.08,69.22 93.40,69.90 C94.72,70.58 95.97,71.10 97.50,71.30 C99.03,71.50 100.90,71.28 102.60,71.10 C104.30,70.92 106.00,70.52 107.70,70.20 C109.40,69.88 110.85,69.45 112.80,69.20 C114.75,68.95 118.18,68.53 119.40,68.70 C120.62,68.87 120.87,69.78 120.10,70.20 C119.33,70.62 116.53,70.60 114.80,71.20 C113.07,71.80 111.05,72.88 109.70,73.80 C108.35,74.72 108.07,75.93 106.70,76.70 C105.33,77.47 103.03,78.30 101.50,78.40 C99.97,78.50 98.85,77.90 97.50,77.30 C96.15,76.70 94.60,75.80 93.40,74.80 C92.20,73.80 90.93,72.57 90.30,71.30 C89.67,70.03 89.08,67.43 89.60,67.20Z" fill="#bee6bf"/>
<path d="M94.40,59.80 C95.33,60.08 97.90,60.97 100.00,61.50 C102.10,62.03 104.78,62.52 107.00,63.00 C109.22,63.48 112.25,64.17 113.30,64.40" fill="none" stroke="#bee6bf" stroke-width="3.0" stroke-linecap="round" stroke-linejoin="round"/>
<path d="M88.30,64.40 C89.00,64.73 90.97,65.72 92.50,66.40 C94.03,67.08 96.67,68.15 97.50,68.50" fill="none" stroke="#d1edca" stroke-width="2.4" stroke-linecap="round" stroke-linejoin="round"/>
<path d="M109.70,73.60 C110.73,74.20 113.85,76.43 115.90,77.20 C117.95,77.97 120.13,78.12 122.00,78.20 C123.87,78.28 125.83,77.52 127.10,77.70 C128.37,77.88 129.27,78.28 129.60,79.30 C129.93,80.32 129.43,82.37 129.10,83.80 C128.77,85.23 128.10,86.53 127.60,87.90 C127.10,89.27 126.43,90.88 126.10,92.00 C125.77,93.12 125.68,94.17 125.60,94.60" fill="none" stroke="#d1edca" stroke-width="3.0" stroke-linecap="round" stroke-linejoin="round"/>
<path d="M66.80,66.00 C67.67,66.33 70.13,67.30 72.00,68.00 C73.87,68.70 75.75,69.37 78.00,70.20 C80.25,71.03 84.25,72.53 85.50,73.00" fill="none" stroke="#d1edca" stroke-width="3.6" stroke-linecap="round" stroke-linejoin="round"/>
<path d="M37.60,73.20 C38.50,73.10 41.13,72.77 43.00,72.60 C44.87,72.43 47.83,72.27 48.80,72.20" fill="none" stroke="#d1edca" stroke-width="1.6" stroke-linecap="round" stroke-linejoin="round"/>
<circle cx="53.4" cy="66.3" r="1.6" fill="#08498a"/>
<path d="M38.00,77.50 C38.67,76.75 40.87,76.55 42.00,76.50 C43.13,76.45 44.00,76.83 44.80,77.20 C45.60,77.57 46.80,78.10 46.80,78.70 C46.80,79.30 45.77,80.33 44.80,80.80 C43.83,81.27 42.13,81.47 41.00,81.50 C39.87,81.53 38.50,81.67 38.00,81.00 C37.50,80.33 37.33,78.25 38.00,77.50Z" fill="#3395c3"/>
<path d="M43.80,71.00 C43.58,70.17 42.97,67.83 42.50,66.00 C42.03,64.17 41.25,61.00 41.00,60.00" fill="none" stroke="#bee6bf" stroke-width="2.2" stroke-linecap="round" stroke-linejoin="round"/>
<path d="M36.00,80.50 C37.00,80.28 40.08,79.70 42.00,79.20 C43.92,78.70 45.83,77.95 47.50,77.50 C49.17,77.05 51.25,76.67 52.00,76.50" fill="none" stroke="#2a8bbe" stroke-width="1.8" stroke-linecap="round" stroke-linejoin="round"/>
<path d="M49.50,79.00 C49.67,80.00 50.17,82.83 50.50,85.00 C50.83,87.17 51.33,90.83 51.50,92.00" fill="none" stroke="#57b8d0" stroke-width="1.8" stroke-linecap="round" stroke-linejoin="round"/>
</g>
<rect x="14.50" y="790.80" width="135.70" height="111.30" fill="none" stroke="#111" stroke-width="1.25"/>
<text x="82.60" y="788.90" font-size="8.3" font-style="italic" text-anchor="middle" fill="#080808">NFKB1</text>
<defs><linearGradient id="gb150" x1="0" y1="1" x2="0" y2="0"><stop offset="0.000" stop-color="#f7fcf0"/><stop offset="0.062" stop-color="#ebf7e5"/><stop offset="0.125" stop-color="#e0f3db"/><stop offset="0.188" stop-color="#d6efd0"/><stop offset="0.250" stop-color="#ccebc5"/><stop offset="0.312" stop-color="#bae4bd"/><stop offset="0.375" stop-color="#a7ddb5"/><stop offset="0.438" stop-color="#91d4bd"/><stop offset="0.500" stop-color="#7accc4"/><stop offset="0.562" stop-color="#64bfcc"/><stop offset="0.625" stop-color="#4db2d3"/><stop offset="0.688" stop-color="#3c9fc8"/><stop offset="0.750" stop-color="#2a8bbe"/><stop offset="0.812" stop-color="#1979b5"/><stop offset="0.875" stop-color="#0867ab"/><stop offset="0.938" stop-color="#085395"/><stop offset="1.000" stop-color="#084081"/></linearGradient></defs>
<rect x="150.50" y="790.80" width="4.60" height="111.30" fill="url(#gb150)" stroke="#222" stroke-width="0.9"/>
<line x1="155.10" y1="886.62" x2="156.70" y2="886.62" stroke="#111" stroke-width="0.7"/>
<text x="158.40" y="889.21" font-size="7.2" fill="#080808">0.5</text>
<line x1="155.10" y1="867.45" x2="156.70" y2="867.45" stroke="#111" stroke-width="0.7"/>
<text x="158.40" y="870.04" font-size="7.2" fill="#080808">1.0</text>
<line x1="155.10" y1="848.29" x2="156.70" y2="848.29" stroke="#111" stroke-width="0.7"/>
<text x="158.40" y="850.88" font-size="7.2" fill="#080808">1.5</text>
<line x1="155.10" y1="829.13" x2="156.70" y2="829.13" stroke="#111" stroke-width="0.7"/>
<text x="158.40" y="831.72" font-size="7.2" fill="#080808">2.0</text>
<line x1="155.10" y1="809.96" x2="156.70" y2="809.96" stroke="#111" stroke-width="0.7"/>
<text x="158.40" y="812.56" font-size="7.2" fill="#080808">2.5</text>
<text x="82.35" y="909.30" font-size="6.9" text-anchor="middle" fill="#080808">UMAP1</text>
<text transform="translate(10.9,846.4) rotate(-90)" font-size="6.9" text-anchor="middle" fill="#080808">UMAP2</text>
<g transform="translate(185.30,790.80) scale(0.9985,1.0009)">
<path d="M27.20,4.00 C27.68,3.80 29.28,4.78 30.50,5.10 C31.72,5.42 33.15,5.72 34.50,5.90 C35.85,6.08 37.23,6.10 38.60,6.20 C39.97,6.30 41.33,6.40 42.70,6.50 C44.07,6.60 45.60,6.67 46.80,6.80 C48.00,6.93 49.42,6.85 49.90,7.30 C50.38,7.75 50.22,9.07 49.70,9.50 C49.18,9.93 47.97,9.85 46.80,9.90 C45.63,9.95 44.07,9.90 42.70,9.80 C41.33,9.70 39.97,9.47 38.60,9.30 C37.23,9.13 35.85,9.05 34.50,8.80 C33.15,8.55 31.65,8.22 30.50,7.80 C29.35,7.38 28.15,6.93 27.60,6.30 C27.05,5.67 26.72,4.20 27.20,4.00Z" fill="#acdfb7"/>
<path d="M55.00,7.90 C55.52,7.73 57.08,7.65 58.10,7.90 C59.12,8.15 59.92,8.80 61.10,9.40 C62.28,10.00 63.92,10.65 65.20,11.50 C66.48,12.35 67.68,13.48 68.80,14.50 C69.92,15.52 70.95,16.57 71.90,17.60 C72.85,18.63 73.90,19.52 74.50,20.70 C75.10,21.88 74.92,23.52 75.50,24.70 C76.08,25.88 77.23,26.77 78.00,27.80 C78.77,28.83 79.43,30.20 80.10,30.90 C80.77,31.60 81.32,32.17 82.00,32.00 C82.68,31.83 83.33,30.77 84.20,29.90 C85.07,29.03 86.43,27.83 87.20,26.80 C87.97,25.77 88.53,24.90 88.80,23.70 C89.07,22.50 88.72,20.95 88.80,19.60 C88.88,18.25 88.72,16.82 89.30,15.60 C89.88,14.38 91.37,12.73 92.30,12.30 C93.23,11.87 93.87,12.45 94.90,13.00 C95.93,13.55 97.22,14.67 98.50,15.60 C99.78,16.53 101.23,17.58 102.60,18.60 C103.97,19.62 105.52,20.68 106.70,21.70 C107.88,22.72 108.52,23.52 109.70,24.70 C110.88,25.88 112.95,27.43 113.80,28.80 C114.65,30.17 114.45,31.53 114.80,32.90 C115.15,34.27 115.55,35.80 115.90,37.00 C116.25,38.20 116.57,39.08 116.90,40.10 C117.23,41.12 117.65,41.92 117.90,43.10 C118.15,44.28 118.48,46.00 118.40,47.20 C118.32,48.40 118.00,49.10 117.40,50.30 C116.80,51.50 115.57,53.42 114.80,54.40 C114.03,55.38 113.65,55.55 112.80,56.20 C111.95,56.85 110.90,57.87 109.70,58.30 C108.50,58.73 106.97,59.23 105.60,58.80 C104.23,58.37 102.85,56.47 101.50,55.70 C100.15,54.93 98.68,54.52 97.50,54.20 C96.32,53.88 95.27,54.12 94.40,53.80 C93.53,53.48 93.15,53.05 92.30,52.30 C91.45,51.55 90.48,50.32 89.30,49.30 C88.12,48.28 86.73,47.23 85.20,46.20 C83.67,45.17 81.80,43.95 80.10,43.10 C78.40,42.25 76.37,41.60 75.00,41.10 C73.63,40.60 72.77,40.70 71.90,40.10 C71.03,39.50 70.48,38.53 69.80,37.50 C69.12,36.47 68.48,35.35 67.80,33.90 C67.12,32.45 66.38,30.50 65.70,28.80 C65.02,27.10 64.47,25.40 63.70,23.70 C62.93,22.00 62.05,20.30 61.10,18.60 C60.15,16.90 59.02,15.12 58.00,13.50 C56.98,11.88 55.50,9.83 55.00,8.90 C54.50,7.97 54.48,8.07 55.00,7.90Z" fill="#86d0c0"/>
<path d="M64.50,22.50 C65.08,23.42 66.75,26.25 68.00,28.00 C69.25,29.75 70.75,31.58 72.00,33.00 C73.25,34.42 74.92,35.92 75.50,36.50" fill="none" stroke="#57b8d0" stroke-width="1.6" stroke-linecap="round" stroke-linejoin="round"/>
<path d="M67.20,37.50 C67.90,36.67 70.15,37.42 71.20,38.50 C72.25,39.58 72.95,42.25 73.50,44.00 C74.05,45.75 74.50,47.67 74.50,49.00 C74.50,50.33 74.17,51.67 73.50,52.00 C72.83,52.33 71.33,51.83 70.50,51.00 C69.67,50.17 69.08,48.25 68.50,47.00 C67.92,45.75 67.22,45.08 67.00,43.50 C66.78,41.92 66.50,38.33 67.20,37.50Z" fill="#86d0c0"/>
<path d="M71.30,49.00 C71.65,49.33 72.62,50.23 73.40,51.00 C74.18,51.77 75.05,52.83 76.00,53.60 C76.95,54.37 78.27,54.95 79.10,55.60 C79.93,56.25 80.72,56.85 81.00,57.50 C81.28,58.15 80.83,59.17 80.80,59.50" fill="none" stroke="#9fdab8" stroke-width="3.6" stroke-linecap="round" stroke-linejoin="round"/>
<path d="M80.80,59.50 C80.58,59.75 80.05,60.62 79.50,61.00 C78.95,61.38 78.50,61.73 77.50,61.80 C76.50,61.87 74.72,61.77 73.50,61.40 C72.28,61.03 70.75,59.90 70.20,59.60" fill="none" stroke="#45a8cd" stroke-width="3.0" stroke-linecap="round" stroke-linejoin="round"/>
<path d="M10.50,30.90 C10.73,29.58 11.57,28.67 12.60,28.10 C13.63,27.53 15.35,27.80 16.70,27.50 C18.05,27.20 19.43,27.07 20.70,26.30 C21.97,25.53 23.15,23.80 24.30,22.90 C25.45,22.00 26.48,21.30 27.60,20.90 C28.72,20.50 29.93,20.27 31.00,20.50 C32.07,20.73 33.28,21.38 34.00,22.30 C34.72,23.22 35.12,24.77 35.30,26.00 C35.48,27.23 34.68,29.23 35.10,29.70 C35.52,30.17 36.78,29.05 37.80,28.80 C38.82,28.55 40.22,28.02 41.20,28.20 C42.18,28.38 43.10,29.03 43.70,29.90 C44.30,30.77 44.75,32.25 44.80,33.40 C44.85,34.55 44.52,35.77 44.00,36.80 C43.48,37.83 42.60,38.80 41.70,39.60 C40.80,40.40 39.62,40.83 38.60,41.60 C37.58,42.37 36.78,43.52 35.60,44.20 C34.42,44.88 32.87,45.37 31.50,45.70 C30.13,46.03 28.77,46.25 27.40,46.20 C26.03,46.15 24.67,45.80 23.30,45.40 C21.93,45.00 20.40,44.43 19.20,43.80 C18.00,43.17 17.03,42.38 16.10,41.60 C15.17,40.82 14.42,40.03 13.60,39.10 C12.78,38.17 11.72,37.37 11.20,36.00 C10.68,34.63 10.27,32.22 10.50,30.90Z" fill="#e1f4dc"/>
<path d="M42.70,42.10 C42.87,41.25 44.77,40.37 45.80,39.60 C46.83,38.83 47.72,38.13 48.90,37.50 C50.08,36.87 51.55,36.18 52.90,35.80 C54.25,35.42 55.88,35.08 57.00,35.20 C58.12,35.32 59.25,35.77 59.60,36.50 C59.95,37.23 59.62,38.67 59.10,39.60 C58.58,40.53 57.53,41.33 56.50,42.10 C55.47,42.87 54.17,43.68 52.90,44.20 C51.63,44.72 50.25,45.12 48.90,45.20 C47.55,45.28 45.83,45.22 44.80,44.70 C43.77,44.18 42.53,42.95 42.70,42.10Z" fill="#ccebc5"/>
<path d="M42.70,44.40 C43.63,43.38 45.92,43.48 47.80,43.40 C49.68,43.32 52.12,43.38 54.00,43.90 C55.88,44.42 57.83,45.38 59.10,46.50 C60.37,47.62 61.10,49.25 61.60,50.60 C62.10,51.95 62.18,53.25 62.10,54.60 C62.02,55.95 61.18,57.58 61.10,58.70 C61.02,59.82 61.93,60.78 61.60,61.30 C61.27,61.82 60.20,61.97 59.10,61.80 C58.00,61.63 56.37,60.82 55.00,60.30 C53.63,59.78 52.27,59.30 50.90,58.70 C49.53,58.10 48.00,57.55 46.80,56.70 C45.60,55.85 44.47,54.80 43.70,53.60 C42.93,52.40 42.37,51.03 42.20,49.50 C42.03,47.97 41.77,45.42 42.70,44.40Z" fill="#c6e9c2"/>
<path d="M30.50,47.50 C30.33,46.13 32.73,45.42 33.50,44.40 C34.27,43.38 34.42,41.82 35.10,41.40 C35.78,40.98 36.67,41.57 37.60,41.90 C38.53,42.23 39.85,42.98 40.70,43.40 C41.55,43.82 42.45,43.38 42.70,44.40 C42.95,45.42 42.20,47.80 42.20,49.50 C42.20,51.20 42.78,53.07 42.70,54.60 C42.62,56.13 41.70,57.17 41.70,58.70 C41.70,60.23 42.18,62.43 42.70,63.80 C43.22,65.17 43.95,66.22 44.80,66.90 C45.65,67.58 47.38,67.38 47.80,67.90 C48.22,68.42 47.98,69.65 47.30,70.00 C46.62,70.35 44.63,70.52 43.70,70.00 C42.77,69.48 42.37,67.93 41.70,66.90 C41.03,65.87 40.38,64.82 39.70,63.80 C39.02,62.78 38.37,61.65 37.60,60.80 C36.83,59.95 35.78,59.38 35.10,58.70 C34.42,58.02 33.60,57.72 33.50,56.70 C33.40,55.68 35.00,54.13 34.50,52.60 C34.00,51.07 30.67,48.87 30.50,47.50Z" fill="#d1edca"/>
<circle cx="38.6" cy="47.5" r="3.0" fill="#fff"/>
<path d="M5.40,53.60 C5.75,52.80 6.88,52.65 8.00,52.40 C9.12,52.15 10.73,51.98 12.10,52.10 C13.47,52.22 14.85,52.85 16.20,53.10 C17.55,53.35 18.85,53.68 20.20,53.60 C21.55,53.52 23.10,53.10 24.30,52.60 C25.50,52.10 26.37,51.28 27.40,50.60 C28.43,49.92 29.48,49.10 30.50,48.50 C31.52,47.90 32.65,47.00 33.50,47.00 C34.35,47.00 35.43,47.57 35.60,48.50 C35.77,49.43 34.85,51.23 34.50,52.60 C34.15,53.97 34.00,55.52 33.50,56.70 C33.00,57.88 32.35,58.85 31.50,59.70 C30.65,60.55 29.60,61.37 28.40,61.80 C27.20,62.23 25.67,62.27 24.30,62.30 C22.93,62.33 21.55,62.00 20.20,62.00 C18.85,62.00 17.55,62.33 16.20,62.30 C14.85,62.27 13.47,62.23 12.10,61.80 C10.73,61.37 9.03,60.47 8.00,59.70 C6.97,58.93 6.33,58.22 5.90,57.20 C5.47,56.18 5.05,54.40 5.40,53.60Z" fill="#c6e9c2"/>
<path d="M13.90,75.90 C14.57,76.38 17.23,78.32 17.90,78.80" fill="none" stroke="#7accc4" stroke-width="2.0" stroke-linecap="round" stroke-linejoin="round"/>
<path d="M28.40,79.80 C28.83,78.92 29.48,78.05 30.50,77.50 C31.52,76.95 32.80,76.72 34.50,76.50 C36.20,76.28 38.98,76.08 40.70,76.20 C42.42,76.32 43.78,76.78 44.80,77.20 C45.82,77.62 46.80,78.10 46.80,78.70 C46.80,79.30 45.82,80.20 44.80,80.80 C43.78,81.40 42.07,81.72 40.70,82.30 C39.33,82.88 37.97,83.73 36.60,84.30 C35.23,84.87 33.70,85.60 32.50,85.70 C31.30,85.80 30.17,85.38 29.40,84.90 C28.63,84.42 28.07,83.65 27.90,82.80 C27.73,81.95 27.97,80.68 28.40,79.80Z" fill="#7accc4"/>
<path d="M46.80,77.70 C47.82,76.67 50.88,75.62 51.90,74.60 C52.92,73.58 52.05,72.45 52.90,71.60 C53.75,70.75 55.28,69.50 57.00,69.50 C58.72,69.50 61.50,70.75 63.20,71.60 C64.90,72.45 66.43,73.67 67.20,74.60 C67.97,75.53 68.13,76.52 67.80,77.20 C67.47,77.88 65.97,77.77 65.20,78.70 C64.43,79.63 63.20,81.77 63.20,82.80 C63.20,83.83 64.53,84.05 65.20,84.90 C65.87,85.75 66.08,87.23 67.20,87.90 C68.32,88.57 69.92,88.55 71.90,88.90 C73.88,89.25 77.05,89.40 79.10,90.00 C81.15,90.60 82.93,91.32 84.20,92.50 C85.47,93.68 86.37,95.48 86.70,97.10 C87.03,98.72 86.80,100.83 86.20,102.20 C85.60,103.57 84.63,104.53 83.10,105.30 C81.57,106.07 79.03,106.47 77.00,106.80 C74.97,107.13 73.20,107.55 70.90,107.30 C68.60,107.05 65.52,105.97 63.20,105.30 C60.88,104.63 59.40,103.82 57.00,103.30 C54.60,102.78 51.02,102.55 48.80,102.20 C46.58,101.85 44.72,101.70 43.70,101.20 C42.68,100.70 42.18,99.88 42.70,99.20 C43.22,98.52 45.43,97.78 46.80,97.10 C48.17,96.42 50.22,95.95 50.90,95.10 C51.58,94.25 51.42,93.20 50.90,92.00 C50.38,90.80 48.65,89.08 47.80,87.90 C46.95,86.72 46.13,86.08 45.80,84.90 C45.47,83.72 45.63,82.00 45.80,80.80 C45.97,79.60 45.78,78.73 46.80,77.70Z" fill="#acdfb7"/>
<path d="M47.50,77.50 C47.98,76.60 51.00,75.58 51.90,74.60 C52.80,73.62 52.05,72.45 52.90,71.60 C53.75,70.75 55.28,69.50 57.00,69.50 C58.72,69.50 61.50,70.75 63.20,71.60 C64.90,72.45 66.43,73.67 67.20,74.60 C67.97,75.53 68.13,76.52 67.80,77.20 C67.47,77.88 66.50,78.32 65.20,78.70 C63.90,79.08 61.87,79.28 60.00,79.50 C58.13,79.72 55.83,79.92 54.00,80.00 C52.17,80.08 50.08,80.42 49.00,80.00 C47.92,79.58 47.02,78.40 47.50,77.50Z" fill="#a6dcb6"/>
<path d="M79.10,82.80 C79.27,81.85 80.92,80.72 82.10,79.70 C83.28,78.68 84.83,77.55 86.20,76.70 C87.57,75.85 88.77,74.77 90.30,74.60 C91.83,74.43 93.70,74.85 95.40,75.70 C97.10,76.55 98.97,78.35 100.50,79.70 C102.03,81.05 103.48,82.43 104.60,83.80 C105.72,85.17 107.03,86.70 107.20,87.90 C107.37,89.10 106.72,90.40 105.60,91.00 C104.48,91.60 102.37,91.58 100.50,91.50 C98.63,91.42 96.62,91.10 94.40,90.50 C92.18,89.90 89.42,88.75 87.20,87.90 C84.98,87.05 82.45,86.25 81.10,85.40 C79.75,84.55 78.93,83.75 79.10,82.80Z" fill="#bee6bf"/>
<path d="M89.60,67.20 C90.12,66.97 92.08,69.22 93.40,69.90 C94.72,70.58 95.97,71.10 97.50,71.30 C99.03,71.50 100.90,71.28 102.60,71.10 C104.30,70.92 106.00,70.52 107.70,70.20 C109.40,69.88 110.85,69.45 112.80,69.20 C114.75,68.95 118.18,68.53 119.40,68.70 C120.62,68.87 120.87,69.78 120.10,70.20 C119.33,70.62 116.53,70.60 114.80,71.20 C113.07,71.80 111.05,72.88 109.70,73.80 C108.35,74.72 108.07,75.93 106.70,76.70 C105.33,77.47 103.03,78.30 101.50,78.40 C99.97,78.50 98.85,77.90 97.50,77.30 C96.15,76.70 94.60,75.80 93.40,74.80 C92.20,73.80 90.93,72.57 90.30,71.30 C89.67,70.03 89.08,67.43 89.60,67.20Z" fill="#3395c3"/>
<path d="M94.40,59.80 C95.33,60.08 97.90,60.97 100.00,61.50 C102.10,62.03 104.78,62.52 107.00,63.00 C109.22,63.48 112.25,64.17 113.30,64.40" fill="none" stroke="#bee6bf" stroke-width="3.0" stroke-linecap="round" stroke-linejoin="round"/>
<path d="M88.30,64.40 C89.00,64.73 90.97,65.72 92.50,66.40 C94.03,67.08 96.67,68.15 97.50,68.50" fill="none" stroke="#bee6bf" stroke-width="2.4" stroke-linecap="round" stroke-linejoin="round"/>
<path d="M109.70,73.60 C110.73,74.20 113.85,76.43 115.90,77.20 C117.95,77.97 120.13,78.12 122.00,78.20 C123.87,78.28 125.83,77.52 127.10,77.70 C128.37,77.88 129.27,78.28 129.60,79.30 C129.93,80.32 129.43,82.37 129.10,83.80 C128.77,85.23 128.10,86.53 127.60,87.90 C127.10,89.27 126.43,90.88 126.10,92.00 C125.77,93.12 125.68,94.17 125.60,94.60" fill="none" stroke="#bee6bf" stroke-width="3.0" stroke-linecap="round" stroke-linejoin="round"/>
<path d="M66.80,66.00 C67.67,66.33 70.13,67.30 72.00,68.00 C73.87,68.70 75.75,69.37 78.00,70.20 C80.25,71.03 84.25,72.53 85.50,73.00" fill="none" stroke="#bee6bf" stroke-width="3.6" stroke-linecap="round" stroke-linejoin="round"/>
<path d="M37.60,73.20 C38.50,73.10 41.13,72.77 43.00,72.60 C44.87,72.43 47.83,72.27 48.80,72.20" fill="none" stroke="#bee6bf" stroke-width="1.6" stroke-linecap="round" stroke-linejoin="round"/>
<path d="M33.40,32.80 C33.43,33.33 33.50,34.90 33.60,36.00 C33.70,37.10 33.93,38.83 34.00,39.40" fill="none" stroke="#08498a" stroke-width="2.6" stroke-linecap="round" stroke-linejoin="round"/>
<path d="M34.00,39.40 C34.33,39.83 35.40,41.23 36.00,42.00 C36.60,42.77 37.33,43.67 37.60,44.00" fill="none" stroke="#3395c3" stroke-width="2.0" stroke-linecap="round" stroke-linejoin="round"/>
<path d="M41.60,43.00 C41.93,43.07 43.27,43.33 43.60,43.40" fill="none" stroke="#47abcf" stroke-width="2.0" stroke-linecap="round" stroke-linejoin="round"/>
<circle cx="53.4" cy="66.3" r="1.6" fill="#9fdab8"/>
<path d="M38.00,77.50 C38.67,76.75 40.87,76.55 42.00,76.50 C43.13,76.45 44.00,76.83 44.80,77.20 C45.60,77.57 46.80,78.10 46.80,78.70 C46.80,79.30 45.77,80.33 44.80,80.80 C43.83,81.27 42.13,81.47 41.00,81.50 C39.87,81.53 38.50,81.67 38.00,81.00 C37.50,80.33 37.33,78.25 38.00,77.50Z" fill="#73c8c7"/>
<path d="M43.80,71.00 C43.58,70.17 42.97,67.83 42.50,66.00 C42.03,64.17 41.25,61.00 41.00,60.00" fill="none" stroke="#bee6bf" stroke-width="2.2" stroke-linecap="round" stroke-linejoin="round"/>
</g>
<rect x="185.30" y="790.80" width="135.90" height="111.30" fill="none" stroke="#111" stroke-width="1.25"/>
<text x="253.20" y="788.90" font-size="8.3" font-style="italic" text-anchor="middle" fill="#080808">RELA</text>
<defs><linearGradient id="gb321" x1="0" y1="1" x2="0" y2="0"><stop offset="0.000" stop-color="#f7fcf0"/><stop offset="0.062" stop-color="#ebf7e5"/><stop offset="0.125" stop-color="#e0f3db"/><stop offset="0.188" stop-color="#d6efd0"/><stop offset="0.250" stop-color="#ccebc5"/><stop offset="0.312" stop-color="#bae4bd"/><stop offset="0.375" stop-color="#a7ddb5"/><stop offset="0.438" stop-color="#91d4bd"/><stop offset="0.500" stop-color="#7accc4"/><stop offset="0.562" stop-color="#64bfcc"/><stop offset="0.625" stop-color="#4db2d3"/><stop offset="0.688" stop-color="#3c9fc8"/><stop offset="0.750" stop-color="#2a8bbe"/><stop offset="0.812" stop-color="#1979b5"/><stop offset="0.875" stop-color="#0867ab"/><stop offset="0.938" stop-color="#085395"/><stop offset="1.000" stop-color="#084081"/></linearGradient></defs>
<rect x="321.50" y="790.80" width="4.60" height="111.30" fill="url(#gb321)" stroke="#222" stroke-width="0.9"/>
<line x1="326.10" y1="887.34" x2="327.70" y2="887.34" stroke="#111" stroke-width="0.7"/>
<text x="329.40" y="889.93" font-size="7.2" fill="#080808">0.2</text>
<line x1="326.10" y1="864.62" x2="327.70" y2="864.62" stroke="#111" stroke-width="0.7"/>
<text x="329.40" y="867.21" font-size="7.2" fill="#080808">0.4</text>
<line x1="326.10" y1="841.91" x2="327.70" y2="841.91" stroke="#111" stroke-width="0.7"/>
<text x="329.40" y="844.50" font-size="7.2" fill="#080808">0.6</text>
<line x1="326.10" y1="819.19" x2="327.70" y2="819.19" stroke="#111" stroke-width="0.7"/>
<text x="329.40" y="821.78" font-size="7.2" fill="#080808">0.8</text>
<line x1="326.10" y1="796.48" x2="327.70" y2="796.48" stroke="#111" stroke-width="0.7"/>
<text x="329.40" y="799.07" font-size="7.2" fill="#080808">1.0</text>
<text x="253.25" y="909.30" font-size="6.9" text-anchor="middle" fill="#080808">UMAP1</text>
<text transform="translate(181.7,846.4) rotate(-90)" font-size="6.9" text-anchor="middle" fill="#080808">UMAP2</text>
<g transform="translate(363.10,790.80) scale(1.0000,1.0009)">
<path d="M27.20,4.00 C27.68,3.80 29.28,4.78 30.50,5.10 C31.72,5.42 33.15,5.72 34.50,5.90 C35.85,6.08 37.23,6.10 38.60,6.20 C39.97,6.30 41.33,6.40 42.70,6.50 C44.07,6.60 45.60,6.67 46.80,6.80 C48.00,6.93 49.42,6.85 49.90,7.30 C50.38,7.75 50.22,9.07 49.70,9.50 C49.18,9.93 47.97,9.85 46.80,9.90 C45.63,9.95 44.07,9.90 42.70,9.80 C41.33,9.70 39.97,9.47 38.60,9.30 C37.23,9.13 35.85,9.05 34.50,8.80 C33.15,8.55 31.65,8.22 30.50,7.80 C29.35,7.38 28.15,6.93 27.60,6.30 C27.05,5.67 26.72,4.20 27.20,4.00Z" fill="#084f91"/>
<path d="M55.00,7.90 C55.52,7.73 57.08,7.65 58.10,7.90 C59.12,8.15 59.92,8.80 61.10,9.40 C62.28,10.00 63.92,10.65 65.20,11.50 C66.48,12.35 67.68,13.48 68.80,14.50 C69.92,15.52 70.95,16.57 71.90,17.60 C72.85,18.63 73.90,19.52 74.50,20.70 C75.10,21.88 74.92,23.52 75.50,24.70 C76.08,25.88 77.23,26.77 78.00,27.80 C78.77,28.83 79.43,30.20 80.10,30.90 C80.77,31.60 81.32,32.17 82.00,32.00 C82.68,31.83 83.33,30.77 84.20,29.90 C85.07,29.03 86.43,27.83 87.20,26.80 C87.97,25.77 88.53,24.90 88.80,23.70 C89.07,22.50 88.72,20.95 88.80,19.60 C88.88,18.25 88.72,16.82 89.30,15.60 C89.88,14.38 91.37,12.73 92.30,12.30 C93.23,11.87 93.87,12.45 94.90,13.00 C95.93,13.55 97.22,14.67 98.50,15.60 C99.78,16.53 101.23,17.58 102.60,18.60 C103.97,19.62 105.52,20.68 106.70,21.70 C107.88,22.72 108.52,23.52 109.70,24.70 C110.88,25.88 112.95,27.43 113.80,28.80 C114.65,30.17 114.45,31.53 114.80,32.90 C115.15,34.27 115.55,35.80 115.90,37.00 C116.25,38.20 116.57,39.08 116.90,40.10 C117.23,41.12 117.65,41.92 117.90,43.10 C118.15,44.28 118.48,46.00 118.40,47.20 C118.32,48.40 118.00,49.10 117.40,50.30 C116.80,51.50 115.57,53.42 114.80,54.40 C114.03,55.38 113.65,55.55 112.80,56.20 C111.95,56.85 110.90,57.87 109.70,58.30 C108.50,58.73 106.97,59.23 105.60,58.80 C104.23,58.37 102.85,56.47 101.50,55.70 C100.15,54.93 98.68,54.52 97.50,54.20 C96.32,53.88 95.27,54.12 94.40,53.80 C93.53,53.48 93.15,53.05 92.30,52.30 C91.45,51.55 90.48,50.32 89.30,49.30 C88.12,48.28 86.73,47.23 85.20,46.20 C83.67,45.17 81.80,43.95 80.10,43.10 C78.40,42.25 76.37,41.60 75.00,41.10 C73.63,40.60 72.77,40.70 71.90,40.10 C71.03,39.50 70.48,38.53 69.80,37.50 C69.12,36.47 68.48,35.35 67.80,33.90 C67.12,32.45 66.38,30.50 65.70,28.80 C65.02,27.10 64.47,25.40 63.70,23.70 C62.93,22.00 62.05,20.30 61.10,18.60 C60.15,16.90 59.02,15.12 58.00,13.50 C56.98,11.88 55.50,9.83 55.00,8.90 C54.50,7.97 54.48,8.07 55.00,7.90Z" fill="#aadeb6"/>
<path d="M67.20,37.50 C67.90,36.67 70.15,37.42 71.20,38.50 C72.25,39.58 72.95,42.25 73.50,44.00 C74.05,45.75 74.50,47.67 74.50,49.00 C74.50,50.33 74.17,51.67 73.50,52.00 C72.83,52.33 71.33,51.83 70.50,51.00 C69.67,50.17 69.08,48.25 68.50,47.00 C67.92,45.75 67.22,45.08 67.00,43.50 C66.78,41.92 66.50,38.33 67.20,37.50Z" fill="#7accc4"/>
<path d="M71.30,49.00 C71.65,49.33 72.62,50.23 73.40,51.00 C74.18,51.77 75.05,52.83 76.00,53.60 C76.95,54.37 78.27,54.95 79.10,55.60 C79.93,56.25 80.72,56.85 81.00,57.50 C81.28,58.15 80.83,59.17 80.80,59.50" fill="none" stroke="#7accc4" stroke-width="3.6" stroke-linecap="round" stroke-linejoin="round"/>
<path d="M80.80,59.50 C80.58,59.75 80.05,60.62 79.50,61.00 C78.95,61.38 78.50,61.73 77.50,61.80 C76.50,61.87 74.72,61.77 73.50,61.40 C72.28,61.03 70.75,59.90 70.20,59.60" fill="none" stroke="#69c2ca" stroke-width="3.0" stroke-linecap="round" stroke-linejoin="round"/>
<path d="M10.50,30.90 C10.73,29.58 11.57,28.67 12.60,28.10 C13.63,27.53 15.35,27.80 16.70,27.50 C18.05,27.20 19.43,27.07 20.70,26.30 C21.97,25.53 23.15,23.80 24.30,22.90 C25.45,22.00 26.48,21.30 27.60,20.90 C28.72,20.50 29.93,20.27 31.00,20.50 C32.07,20.73 33.28,21.38 34.00,22.30 C34.72,23.22 35.12,24.77 35.30,26.00 C35.48,27.23 34.68,29.23 35.10,29.70 C35.52,30.17 36.78,29.05 37.80,28.80 C38.82,28.55 40.22,28.02 41.20,28.20 C42.18,28.38 43.10,29.03 43.70,29.90 C44.30,30.77 44.75,32.25 44.80,33.40 C44.85,34.55 44.52,35.77 44.00,36.80 C43.48,37.83 42.60,38.80 41.70,39.60 C40.80,40.40 39.62,40.83 38.60,41.60 C37.58,42.37 36.78,43.52 35.60,44.20 C34.42,44.88 32.87,45.37 31.50,45.70 C30.13,46.03 28.77,46.25 27.40,46.20 C26.03,46.15 24.67,45.80 23.30,45.40 C21.93,45.00 20.40,44.43 19.20,43.80 C18.00,43.17 17.03,42.38 16.10,41.60 C15.17,40.82 14.42,40.03 13.60,39.10 C12.78,38.17 11.72,37.37 11.20,36.00 C10.68,34.63 10.27,32.22 10.50,30.90Z" fill="#e5f5e0"/>
<path d="M42.70,42.10 C42.87,41.25 44.77,40.37 45.80,39.60 C46.83,38.83 47.72,38.13 48.90,37.50 C50.08,36.87 51.55,36.18 52.90,35.80 C54.25,35.42 55.88,35.08 57.00,35.20 C58.12,35.32 59.25,35.77 59.60,36.50 C59.95,37.23 59.62,38.67 59.10,39.60 C58.58,40.53 57.53,41.33 56.50,42.10 C55.47,42.87 54.17,43.68 52.90,44.20 C51.63,44.72 50.25,45.12 48.90,45.20 C47.55,45.28 45.83,45.22 44.80,44.70 C43.77,44.18 42.53,42.95 42.70,42.10Z" fill="#dcf1d7"/>
<path d="M42.70,44.40 C43.63,43.38 45.92,43.48 47.80,43.40 C49.68,43.32 52.12,43.38 54.00,43.90 C55.88,44.42 57.83,45.38 59.10,46.50 C60.37,47.62 61.10,49.25 61.60,50.60 C62.10,51.95 62.18,53.25 62.10,54.60 C62.02,55.95 61.18,57.58 61.10,58.70 C61.02,59.82 61.93,60.78 61.60,61.30 C61.27,61.82 60.20,61.97 59.10,61.80 C58.00,61.63 56.37,60.82 55.00,60.30 C53.63,59.78 52.27,59.30 50.90,58.70 C49.53,58.10 48.00,57.55 46.80,56.70 C45.60,55.85 44.47,54.80 43.70,53.60 C42.93,52.40 42.37,51.03 42.20,49.50 C42.03,47.97 41.77,45.42 42.70,44.40Z" fill="#dcf1d7"/>
<path d="M30.50,47.50 C30.33,46.13 32.73,45.42 33.50,44.40 C34.27,43.38 34.42,41.82 35.10,41.40 C35.78,40.98 36.67,41.57 37.60,41.90 C38.53,42.23 39.85,42.98 40.70,43.40 C41.55,43.82 42.45,43.38 42.70,44.40 C42.95,45.42 42.20,47.80 42.20,49.50 C42.20,51.20 42.78,53.07 42.70,54.60 C42.62,56.13 41.70,57.17 41.70,58.70 C41.70,60.23 42.18,62.43 42.70,63.80 C43.22,65.17 43.95,66.22 44.80,66.90 C45.65,67.58 47.38,67.38 47.80,67.90 C48.22,68.42 47.98,69.65 47.30,70.00 C46.62,70.35 44.63,70.52 43.70,70.00 C42.77,69.48 42.37,67.93 41.70,66.90 C41.03,65.87 40.38,64.82 39.70,63.80 C39.02,62.78 38.37,61.65 37.60,60.80 C36.83,59.95 35.78,59.38 35.10,58.70 C34.42,58.02 33.60,57.72 33.50,56.70 C33.40,55.68 35.00,54.13 34.50,52.60 C34.00,51.07 30.67,48.87 30.50,47.50Z" fill="#d1edca"/>
<circle cx="38.6" cy="47.5" r="3.0" fill="#fff"/>
<path d="M5.40,53.60 C5.75,52.80 6.88,52.65 8.00,52.40 C9.12,52.15 10.73,51.98 12.10,52.10 C13.47,52.22 14.85,52.85 16.20,53.10 C17.55,53.35 18.85,53.68 20.20,53.60 C21.55,53.52 23.10,53.10 24.30,52.60 C25.50,52.10 26.37,51.28 27.40,50.60 C28.43,49.92 29.48,49.10 30.50,48.50 C31.52,47.90 32.65,47.00 33.50,47.00 C34.35,47.00 35.43,47.57 35.60,48.50 C35.77,49.43 34.85,51.23 34.50,52.60 C34.15,53.97 34.00,55.52 33.50,56.70 C33.00,57.88 32.35,58.85 31.50,59.70 C30.65,60.55 29.60,61.37 28.40,61.80 C27.20,62.23 25.67,62.27 24.30,62.30 C22.93,62.33 21.55,62.00 20.20,62.00 C18.85,62.00 17.55,62.33 16.20,62.30 C14.85,62.27 13.47,62.23 12.10,61.80 C10.73,61.37 9.03,60.47 8.00,59.70 C6.97,58.93 6.33,58.22 5.90,57.20 C5.47,56.18 5.05,54.40 5.40,53.60Z" fill="#d7efd1"/>
<path d="M13.90,75.90 C14.57,76.38 17.23,78.32 17.90,78.80" fill="none" stroke="#bee6bf" stroke-width="2.0" stroke-linecap="round" stroke-linejoin="round"/>
<path d="M28.40,79.80 C28.83,78.92 29.48,78.05 30.50,77.50 C31.52,76.95 32.80,76.72 34.50,76.50 C36.20,76.28 38.98,76.08 40.70,76.20 C42.42,76.32 43.78,76.78 44.80,77.20 C45.82,77.62 46.80,78.10 46.80,78.70 C46.80,79.30 45.82,80.20 44.80,80.80 C43.78,81.40 42.07,81.72 40.70,82.30 C39.33,82.88 37.97,83.73 36.60,84.30 C35.23,84.87 33.70,85.60 32.50,85.70 C31.30,85.80 30.17,85.38 29.40,84.90 C28.63,84.42 28.07,83.65 27.90,82.80 C27.73,81.95 27.97,80.68 28.40,79.80Z" fill="#389bc6"/>
<path d="M46.80,77.70 C47.82,76.67 50.88,75.62 51.90,74.60 C52.92,73.58 52.05,72.45 52.90,71.60 C53.75,70.75 55.28,69.50 57.00,69.50 C58.72,69.50 61.50,70.75 63.20,71.60 C64.90,72.45 66.43,73.67 67.20,74.60 C67.97,75.53 68.13,76.52 67.80,77.20 C67.47,77.88 65.97,77.77 65.20,78.70 C64.43,79.63 63.20,81.77 63.20,82.80 C63.20,83.83 64.53,84.05 65.20,84.90 C65.87,85.75 66.08,87.23 67.20,87.90 C68.32,88.57 69.92,88.55 71.90,88.90 C73.88,89.25 77.05,89.40 79.10,90.00 C81.15,90.60 82.93,91.32 84.20,92.50 C85.47,93.68 86.37,95.48 86.70,97.10 C87.03,98.72 86.80,100.83 86.20,102.20 C85.60,103.57 84.63,104.53 83.10,105.30 C81.57,106.07 79.03,106.47 77.00,106.80 C74.97,107.13 73.20,107.55 70.90,107.30 C68.60,107.05 65.52,105.97 63.20,105.30 C60.88,104.63 59.40,103.82 57.00,103.30 C54.60,102.78 51.02,102.55 48.80,102.20 C46.58,101.85 44.72,101.70 43.70,101.20 C42.68,100.70 42.18,99.88 42.70,99.20 C43.22,98.52 45.43,97.78 46.80,97.10 C48.17,96.42 50.22,95.95 50.90,95.10 C51.58,94.25 51.42,93.20 50.90,92.00 C50.38,90.80 48.65,89.08 47.80,87.90 C46.95,86.72 46.13,86.08 45.80,84.90 C45.47,83.72 45.63,82.00 45.80,80.80 C45.97,79.60 45.78,78.73 46.80,77.70Z" fill="#69c2ca"/>
<path d="M47.50,77.50 C47.98,76.60 51.00,75.58 51.90,74.60 C52.80,73.62 52.05,72.45 52.90,71.60 C53.75,70.75 55.28,69.50 57.00,69.50 C58.72,69.50 61.50,70.75 63.20,71.60 C64.90,72.45 66.43,73.67 67.20,74.60 C67.97,75.53 68.13,76.52 67.80,77.20 C67.47,77.88 66.50,78.32 65.20,78.70 C63.90,79.08 61.87,79.28 60.00,79.50 C58.13,79.72 55.83,79.92 54.00,80.00 C52.17,80.08 50.08,80.42 49.00,80.00 C47.92,79.58 47.02,78.40 47.50,77.50Z" fill="#50b4d2"/>
<path d="M79.10,82.80 C79.27,81.85 80.92,80.72 82.10,79.70 C83.28,78.68 84.83,77.55 86.20,76.70 C87.57,75.85 88.77,74.77 90.30,74.60 C91.83,74.43 93.70,74.85 95.40,75.70 C97.10,76.55 98.97,78.35 100.50,79.70 C102.03,81.05 103.48,82.43 104.60,83.80 C105.72,85.17 107.03,86.70 107.20,87.90 C107.37,89.10 106.72,90.40 105.60,91.00 C104.48,91.60 102.37,91.58 100.50,91.50 C98.63,91.42 96.62,91.10 94.40,90.50 C92.18,89.90 89.42,88.75 87.20,87.90 C84.98,87.05 82.45,86.25 81.10,85.40 C79.75,84.55 78.93,83.75 79.10,82.80Z" fill="#b5e2bb"/>
<path d="M89.60,67.20 C90.12,66.97 92.08,69.22 93.40,69.90 C94.72,70.58 95.97,71.10 97.50,71.30 C99.03,71.50 100.90,71.28 102.60,71.10 C104.30,70.92 106.00,70.52 107.70,70.20 C109.40,69.88 110.85,69.45 112.80,69.20 C114.75,68.95 118.18,68.53 119.40,68.70 C120.62,68.87 120.87,69.78 120.10,70.20 C119.33,70.62 116.53,70.60 114.80,71.20 C113.07,71.80 111.05,72.88 109.70,73.80 C108.35,74.72 108.07,75.93 106.70,76.70 C105.33,77.47 103.03,78.30 101.50,78.40 C99.97,78.50 98.85,77.90 97.50,77.30 C96.15,76.70 94.60,75.80 93.40,74.80 C92.20,73.80 90.93,72.57 90.30,71.30 C89.67,70.03 89.08,67.43 89.60,67.20Z" fill="#bee6bf"/>
<path d="M94.40,59.80 C95.33,60.08 97.90,60.97 100.00,61.50 C102.10,62.03 104.78,62.52 107.00,63.00 C109.22,63.48 112.25,64.17 113.30,64.40" fill="none" stroke="#085598" stroke-width="3.0" stroke-linecap="round" stroke-linejoin="round"/>
<path d="M88.30,64.40 C89.00,64.73 90.97,65.72 92.50,66.40 C94.03,67.08 96.67,68.15 97.50,68.50" fill="none" stroke="#8dd3be" stroke-width="2.4" stroke-linecap="round" stroke-linejoin="round"/>
<path d="M109.70,73.60 C110.73,74.20 113.85,76.43 115.90,77.20 C117.95,77.97 120.13,78.12 122.00,78.20 C123.87,78.28 125.83,77.52 127.10,77.70 C128.37,77.88 129.27,78.28 129.60,79.30 C129.93,80.32 129.43,82.37 129.10,83.80 C128.77,85.23 128.10,86.53 127.60,87.90 C127.10,89.27 126.43,90.88 126.10,92.00 C125.77,93.12 125.68,94.17 125.60,94.60" fill="none" stroke="#7accc4" stroke-width="3.0" stroke-linecap="round" stroke-linejoin="round"/>
<path d="M66.80,66.00 C67.67,66.33 70.13,67.30 72.00,68.00 C73.87,68.70 75.75,69.37 78.00,70.20 C80.25,71.03 84.25,72.53 85.50,73.00" fill="none" stroke="#a6dcb6" stroke-width="3.6" stroke-linecap="round" stroke-linejoin="round"/>
<path d="M37.60,73.20 C38.50,73.10 41.13,72.77 43.00,72.60 C44.87,72.43 47.83,72.27 48.80,72.20" fill="none" stroke="#bee6bf" stroke-width="1.6" stroke-linecap="round" stroke-linejoin="round"/>
<circle cx="53.4" cy="66.3" r="1.6" fill="#57b8d0"/>
<path d="M38.00,77.50 C38.67,76.75 40.87,76.55 42.00,76.50 C43.13,76.45 44.00,76.83 44.80,77.20 C45.60,77.57 46.80,78.10 46.80,78.70 C46.80,79.30 45.77,80.33 44.80,80.80 C43.83,81.27 42.13,81.47 41.00,81.50 C39.87,81.53 38.50,81.67 38.00,81.00 C37.50,80.33 37.33,78.25 38.00,77.50Z" fill="#2a8bbe"/>
<path d="M43.80,71.00 C43.58,70.17 42.97,67.83 42.50,66.00 C42.03,64.17 41.25,61.00 41.00,60.00" fill="none" stroke="#7accc4" stroke-width="2.2" stroke-linecap="round" stroke-linejoin="round"/>
<path d="M36.00,80.50 C37.00,80.28 40.08,79.70 42.00,79.20 C43.92,78.70 45.83,77.95 47.50,77.50 C49.17,77.05 51.25,76.67 52.00,76.50" fill="none" stroke="#1d7eb7" stroke-width="1.8" stroke-linecap="round" stroke-linejoin="round"/>
<path d="M49.50,79.00 C49.67,80.00 50.17,82.83 50.50,85.00 C50.83,87.17 51.33,90.83 51.50,92.00" fill="none" stroke="#2a8bbe" stroke-width="1.8" stroke-linecap="round" stroke-linejoin="round"/>
</g>
<rect x="363.10" y="790.80" width="136.10" height="111.30" fill="none" stroke="#111" stroke-width="1.25"/>
<text x="431.20" y="788.90" font-size="8.3" font-style="italic" text-anchor="middle" fill="#080808">NFKB2</text>
<defs><linearGradient id="gb499" x1="0" y1="1" x2="0" y2="0"><stop offset="0.000" stop-color="#f7fcf0"/><stop offset="0.062" stop-color="#ebf7e5"/><stop offset="0.125" stop-color="#e0f3db"/><stop offset="0.188" stop-color="#d6efd0"/><stop offset="0.250" stop-color="#ccebc5"/><stop offset="0.312" stop-color="#bae4bd"/><stop offset="0.375" stop-color="#a7ddb5"/><stop offset="0.438" stop-color="#91d4bd"/><stop offset="0.500" stop-color="#7accc4"/><stop offset="0.562" stop-color="#64bfcc"/><stop offset="0.625" stop-color="#4db2d3"/><stop offset="0.688" stop-color="#3c9fc8"/><stop offset="0.750" stop-color="#2a8bbe"/><stop offset="0.812" stop-color="#1979b5"/><stop offset="0.875" stop-color="#0867ab"/><stop offset="0.938" stop-color="#085395"/><stop offset="1.000" stop-color="#084081"/></linearGradient></defs>
<rect x="499.40" y="790.80" width="4.60" height="111.30" fill="url(#gb499)" stroke="#222" stroke-width="0.9"/>
<line x1="504.00" y1="883.55" x2="505.60" y2="883.55" stroke="#111" stroke-width="0.7"/>
<text x="506.80" y="886.14" font-size="7.2" fill="#080808">0.5</text>
<line x1="504.00" y1="865.00" x2="505.60" y2="865.00" stroke="#111" stroke-width="0.7"/>
<text x="506.80" y="867.59" font-size="7.2" fill="#080808">1.0</text>
<line x1="504.00" y1="846.45" x2="505.60" y2="846.45" stroke="#111" stroke-width="0.7"/>
<text x="506.80" y="849.04" font-size="7.2" fill="#080808">1.5</text>
<line x1="504.00" y1="827.90" x2="505.60" y2="827.90" stroke="#111" stroke-width="0.7"/>
<text x="506.80" y="830.49" font-size="7.2" fill="#080808">2.0</text>
<line x1="504.00" y1="809.35" x2="505.60" y2="809.35" stroke="#111" stroke-width="0.7"/>
<text x="506.80" y="811.94" font-size="7.2" fill="#080808">2.5</text>
<text x="431.15" y="909.30" font-size="6.9" text-anchor="middle" fill="#080808">UMAP1</text>
<text transform="translate(359.5,846.4) rotate(-90)" font-size="6.9" text-anchor="middle" fill="#080808">UMAP2</text>
<g transform="translate(530.70,790.80) scale(0.9971,1.0009)">
<path d="M27.20,4.00 C27.68,3.80 29.28,4.78 30.50,5.10 C31.72,5.42 33.15,5.72 34.50,5.90 C35.85,6.08 37.23,6.10 38.60,6.20 C39.97,6.30 41.33,6.40 42.70,6.50 C44.07,6.60 45.60,6.67 46.80,6.80 C48.00,6.93 49.42,6.85 49.90,7.30 C50.38,7.75 50.22,9.07 49.70,9.50 C49.18,9.93 47.97,9.85 46.80,9.90 C45.63,9.95 44.07,9.90 42.70,9.80 C41.33,9.70 39.97,9.47 38.60,9.30 C37.23,9.13 35.85,9.05 34.50,8.80 C33.15,8.55 31.65,8.22 30.50,7.80 C29.35,7.38 28.15,6.93 27.60,6.30 C27.05,5.67 26.72,4.20 27.20,4.00Z" fill="#dff3da"/>
<path d="M55.00,7.90 C55.52,7.73 57.08,7.65 58.10,7.90 C59.12,8.15 59.92,8.80 61.10,9.40 C62.28,10.00 63.92,10.65 65.20,11.50 C66.48,12.35 67.68,13.48 68.80,14.50 C69.92,15.52 70.95,16.57 71.90,17.60 C72.85,18.63 73.90,19.52 74.50,20.70 C75.10,21.88 74.92,23.52 75.50,24.70 C76.08,25.88 77.23,26.77 78.00,27.80 C78.77,28.83 79.43,30.20 80.10,30.90 C80.77,31.60 81.32,32.17 82.00,32.00 C82.68,31.83 83.33,30.77 84.20,29.90 C85.07,29.03 86.43,27.83 87.20,26.80 C87.97,25.77 88.53,24.90 88.80,23.70 C89.07,22.50 88.72,20.95 88.80,19.60 C88.88,18.25 88.72,16.82 89.30,15.60 C89.88,14.38 91.37,12.73 92.30,12.30 C93.23,11.87 93.87,12.45 94.90,13.00 C95.93,13.55 97.22,14.67 98.50,15.60 C99.78,16.53 101.23,17.58 102.60,18.60 C103.97,19.62 105.52,20.68 106.70,21.70 C107.88,22.72 108.52,23.52 109.70,24.70 C110.88,25.88 112.95,27.43 113.80,28.80 C114.65,30.17 114.45,31.53 114.80,32.90 C115.15,34.27 115.55,35.80 115.90,37.00 C116.25,38.20 116.57,39.08 116.90,40.10 C117.23,41.12 117.65,41.92 117.90,43.10 C118.15,44.28 118.48,46.00 118.40,47.20 C118.32,48.40 118.00,49.10 117.40,50.30 C116.80,51.50 115.57,53.42 114.80,54.40 C114.03,55.38 113.65,55.55 112.80,56.20 C111.95,56.85 110.90,57.87 109.70,58.30 C108.50,58.73 106.97,59.23 105.60,58.80 C104.23,58.37 102.85,56.47 101.50,55.70 C100.15,54.93 98.68,54.52 97.50,54.20 C96.32,53.88 95.27,54.12 94.40,53.80 C93.53,53.48 93.15,53.05 92.30,52.30 C91.45,51.55 90.48,50.32 89.30,49.30 C88.12,48.28 86.73,47.23 85.20,46.20 C83.67,45.17 81.80,43.95 80.10,43.10 C78.40,42.25 76.37,41.60 75.00,41.10 C73.63,40.60 72.77,40.70 71.90,40.10 C71.03,39.50 70.48,38.53 69.80,37.50 C69.12,36.47 68.48,35.35 67.80,33.90 C67.12,32.45 66.38,30.50 65.70,28.80 C65.02,27.10 64.47,25.40 63.70,23.70 C62.93,22.00 62.05,20.30 61.10,18.60 C60.15,16.90 59.02,15.12 58.00,13.50 C56.98,11.88 55.50,9.83 55.00,8.90 C54.50,7.97 54.48,8.07 55.00,7.90Z" fill="#dff3da"/>
<path d="M67.20,37.50 C67.90,36.67 70.15,37.42 71.20,38.50 C72.25,39.58 72.95,42.25 73.50,44.00 C74.05,45.75 74.50,47.67 74.50,49.00 C74.50,50.33 74.17,51.67 73.50,52.00 C72.83,52.33 71.33,51.83 70.50,51.00 C69.67,50.17 69.08,48.25 68.50,47.00 C67.92,45.75 67.22,45.08 67.00,43.50 C66.78,41.92 66.50,38.33 67.20,37.50Z" fill="#dff3da"/>
<path d="M71.30,49.00 C71.65,49.33 72.62,50.23 73.40,51.00 C74.18,51.77 75.05,52.83 76.00,53.60 C76.95,54.37 78.27,54.95 79.10,55.60 C79.93,56.25 80.72,56.85 81.00,57.50 C81.28,58.15 80.83,59.17 80.80,59.50" fill="none" stroke="#bee6bf" stroke-width="3.6" stroke-linecap="round" stroke-linejoin="round"/>
<path d="M80.80,59.50 C80.58,59.75 80.05,60.62 79.50,61.00 C78.95,61.38 78.50,61.73 77.50,61.80 C76.50,61.87 74.72,61.77 73.50,61.40 C72.28,61.03 70.75,59.90 70.20,59.60" fill="none" stroke="#a6dcb6" stroke-width="3.0" stroke-linecap="round" stroke-linejoin="round"/>
<path d="M10.50,30.90 C10.73,29.58 11.57,28.67 12.60,28.10 C13.63,27.53 15.35,27.80 16.70,27.50 C18.05,27.20 19.43,27.07 20.70,26.30 C21.97,25.53 23.15,23.80 24.30,22.90 C25.45,22.00 26.48,21.30 27.60,20.90 C28.72,20.50 29.93,20.27 31.00,20.50 C32.07,20.73 33.28,21.38 34.00,22.30 C34.72,23.22 35.12,24.77 35.30,26.00 C35.48,27.23 34.68,29.23 35.10,29.70 C35.52,30.17 36.78,29.05 37.80,28.80 C38.82,28.55 40.22,28.02 41.20,28.20 C42.18,28.38 43.10,29.03 43.70,29.90 C44.30,30.77 44.75,32.25 44.80,33.40 C44.85,34.55 44.52,35.77 44.00,36.80 C43.48,37.83 42.60,38.80 41.70,39.60 C40.80,40.40 39.62,40.83 38.60,41.60 C37.58,42.37 36.78,43.52 35.60,44.20 C34.42,44.88 32.87,45.37 31.50,45.70 C30.13,46.03 28.77,46.25 27.40,46.20 C26.03,46.15 24.67,45.80 23.30,45.40 C21.93,45.00 20.40,44.43 19.20,43.80 C18.00,43.17 17.03,42.38 16.10,41.60 C15.17,40.82 14.42,40.03 13.60,39.10 C12.78,38.17 11.72,37.37 11.20,36.00 C10.68,34.63 10.27,32.22 10.50,30.90Z" fill="#ebf7e5"/>
<path d="M42.70,42.10 C42.87,41.25 44.77,40.37 45.80,39.60 C46.83,38.83 47.72,38.13 48.90,37.50 C50.08,36.87 51.55,36.18 52.90,35.80 C54.25,35.42 55.88,35.08 57.00,35.20 C58.12,35.32 59.25,35.77 59.60,36.50 C59.95,37.23 59.62,38.67 59.10,39.60 C58.58,40.53 57.53,41.33 56.50,42.10 C55.47,42.87 54.17,43.68 52.90,44.20 C51.63,44.72 50.25,45.12 48.90,45.20 C47.55,45.28 45.83,45.22 44.80,44.70 C43.77,44.18 42.53,42.95 42.70,42.10Z" fill="#e5f5e0"/>
<path d="M42.70,44.40 C43.63,43.38 45.92,43.48 47.80,43.40 C49.68,43.32 52.12,43.38 54.00,43.90 C55.88,44.42 57.83,45.38 59.10,46.50 C60.37,47.62 61.10,49.25 61.60,50.60 C62.10,51.95 62.18,53.25 62.10,54.60 C62.02,55.95 61.18,57.58 61.10,58.70 C61.02,59.82 61.93,60.78 61.60,61.30 C61.27,61.82 60.20,61.97 59.10,61.80 C58.00,61.63 56.37,60.82 55.00,60.30 C53.63,59.78 52.27,59.30 50.90,58.70 C49.53,58.10 48.00,57.55 46.80,56.70 C45.60,55.85 44.47,54.80 43.70,53.60 C42.93,52.40 42.37,51.03 42.20,49.50 C42.03,47.97 41.77,45.42 42.70,44.40Z" fill="#e1f4dc"/>
<path d="M30.50,47.50 C30.33,46.13 32.73,45.42 33.50,44.40 C34.27,43.38 34.42,41.82 35.10,41.40 C35.78,40.98 36.67,41.57 37.60,41.90 C38.53,42.23 39.85,42.98 40.70,43.40 C41.55,43.82 42.45,43.38 42.70,44.40 C42.95,45.42 42.20,47.80 42.20,49.50 C42.20,51.20 42.78,53.07 42.70,54.60 C42.62,56.13 41.70,57.17 41.70,58.70 C41.70,60.23 42.18,62.43 42.70,63.80 C43.22,65.17 43.95,66.22 44.80,66.90 C45.65,67.58 47.38,67.38 47.80,67.90 C48.22,68.42 47.98,69.65 47.30,70.00 C46.62,70.35 44.63,70.52 43.70,70.00 C42.77,69.48 42.37,67.93 41.70,66.90 C41.03,65.87 40.38,64.82 39.70,63.80 C39.02,62.78 38.37,61.65 37.60,60.80 C36.83,59.95 35.78,59.38 35.10,58.70 C34.42,58.02 33.60,57.72 33.50,56.70 C33.40,55.68 35.00,54.13 34.50,52.60 C34.00,51.07 30.67,48.87 30.50,47.50Z" fill="#dff3da"/>
<circle cx="38.6" cy="47.5" r="3.0" fill="#fff"/>
<path d="M5.40,53.60 C5.75,52.80 6.88,52.65 8.00,52.40 C9.12,52.15 10.73,51.98 12.10,52.10 C13.47,52.22 14.85,52.85 16.20,53.10 C17.55,53.35 18.85,53.68 20.20,53.60 C21.55,53.52 23.10,53.10 24.30,52.60 C25.50,52.10 26.37,51.28 27.40,50.60 C28.43,49.92 29.48,49.10 30.50,48.50 C31.52,47.90 32.65,47.00 33.50,47.00 C34.35,47.00 35.43,47.57 35.60,48.50 C35.77,49.43 34.85,51.23 34.50,52.60 C34.15,53.97 34.00,55.52 33.50,56.70 C33.00,57.88 32.35,58.85 31.50,59.70 C30.65,60.55 29.60,61.37 28.40,61.80 C27.20,62.23 25.67,62.27 24.30,62.30 C22.93,62.33 21.55,62.00 20.20,62.00 C18.85,62.00 17.55,62.33 16.20,62.30 C14.85,62.27 13.47,62.23 12.10,61.80 C10.73,61.37 9.03,60.47 8.00,59.70 C6.97,58.93 6.33,58.22 5.90,57.20 C5.47,56.18 5.05,54.40 5.40,53.60Z" fill="#dff3da"/>
<path d="M13.90,75.90 C14.57,76.38 17.23,78.32 17.90,78.80" fill="none" stroke="#dff3da" stroke-width="2.0" stroke-linecap="round" stroke-linejoin="round"/>
<path d="M28.40,79.80 C28.83,78.92 29.48,78.05 30.50,77.50 C31.52,76.95 32.80,76.72 34.50,76.50 C36.20,76.28 38.98,76.08 40.70,76.20 C42.42,76.32 43.78,76.78 44.80,77.20 C45.82,77.62 46.80,78.10 46.80,78.70 C46.80,79.30 45.82,80.20 44.80,80.80 C43.78,81.40 42.07,81.72 40.70,82.30 C39.33,82.88 37.97,83.73 36.60,84.30 C35.23,84.87 33.70,85.60 32.50,85.70 C31.30,85.80 30.17,85.38 29.40,84.90 C28.63,84.42 28.07,83.65 27.90,82.80 C27.73,81.95 27.97,80.68 28.40,79.80Z" fill="#98d7ba"/>
<path d="M46.80,77.70 C47.82,76.67 50.88,75.62 51.90,74.60 C52.92,73.58 52.05,72.45 52.90,71.60 C53.75,70.75 55.28,69.50 57.00,69.50 C58.72,69.50 61.50,70.75 63.20,71.60 C64.90,72.45 66.43,73.67 67.20,74.60 C67.97,75.53 68.13,76.52 67.80,77.20 C67.47,77.88 65.97,77.77 65.20,78.70 C64.43,79.63 63.20,81.77 63.20,82.80 C63.20,83.83 64.53,84.05 65.20,84.90 C65.87,85.75 66.08,87.23 67.20,87.90 C68.32,88.57 69.92,88.55 71.90,88.90 C73.88,89.25 77.05,89.40 79.10,90.00 C81.15,90.60 82.93,91.32 84.20,92.50 C85.47,93.68 86.37,95.48 86.70,97.10 C87.03,98.72 86.80,100.83 86.20,102.20 C85.60,103.57 84.63,104.53 83.10,105.30 C81.57,106.07 79.03,106.47 77.00,106.80 C74.97,107.13 73.20,107.55 70.90,107.30 C68.60,107.05 65.52,105.97 63.20,105.30 C60.88,104.63 59.40,103.82 57.00,103.30 C54.60,102.78 51.02,102.55 48.80,102.20 C46.58,101.85 44.72,101.70 43.70,101.20 C42.68,100.70 42.18,99.88 42.70,99.20 C43.22,98.52 45.43,97.78 46.80,97.10 C48.17,96.42 50.22,95.95 50.90,95.10 C51.58,94.25 51.42,93.20 50.90,92.00 C50.38,90.80 48.65,89.08 47.80,87.90 C46.95,86.72 46.13,86.08 45.80,84.90 C45.47,83.72 45.63,82.00 45.80,80.80 C45.97,79.60 45.78,78.73 46.80,77.70Z" fill="#c6e9c2"/>
<path d="M47.50,77.50 C47.98,76.60 51.00,75.58 51.90,74.60 C52.80,73.62 52.05,72.45 52.90,71.60 C53.75,70.75 55.28,69.50 57.00,69.50 C58.72,69.50 61.50,70.75 63.20,71.60 C64.90,72.45 66.43,73.67 67.20,74.60 C67.97,75.53 68.13,76.52 67.80,77.20 C67.47,77.88 66.50,78.32 65.20,78.70 C63.90,79.08 61.87,79.28 60.00,79.50 C58.13,79.72 55.83,79.92 54.00,80.00 C52.17,80.08 50.08,80.42 49.00,80.00 C47.92,79.58 47.02,78.40 47.50,77.50Z" fill="#acdfb7"/>
<path d="M79.10,82.80 C79.27,81.85 80.92,80.72 82.10,79.70 C83.28,78.68 84.83,77.55 86.20,76.70 C87.57,75.85 88.77,74.77 90.30,74.60 C91.83,74.43 93.70,74.85 95.40,75.70 C97.10,76.55 98.97,78.35 100.50,79.70 C102.03,81.05 103.48,82.43 104.60,83.80 C105.72,85.17 107.03,86.70 107.20,87.90 C107.37,89.10 106.72,90.40 105.60,91.00 C104.48,91.60 102.37,91.58 100.50,91.50 C98.63,91.42 96.62,91.10 94.40,90.50 C92.18,89.90 89.42,88.75 87.20,87.90 C84.98,87.05 82.45,86.25 81.10,85.40 C79.75,84.55 78.93,83.75 79.10,82.80Z" fill="#dcf1d7"/>
<path d="M89.60,67.20 C90.12,66.97 92.08,69.22 93.40,69.90 C94.72,70.58 95.97,71.10 97.50,71.30 C99.03,71.50 100.90,71.28 102.60,71.10 C104.30,70.92 106.00,70.52 107.70,70.20 C109.40,69.88 110.85,69.45 112.80,69.20 C114.75,68.95 118.18,68.53 119.40,68.70 C120.62,68.87 120.87,69.78 120.10,70.20 C119.33,70.62 116.53,70.60 114.80,71.20 C113.07,71.80 111.05,72.88 109.70,73.80 C108.35,74.72 108.07,75.93 106.70,76.70 C105.33,77.47 103.03,78.30 101.50,78.40 C99.97,78.50 98.85,77.90 97.50,77.30 C96.15,76.70 94.60,75.80 93.40,74.80 C92.20,73.80 90.93,72.57 90.30,71.30 C89.67,70.03 89.08,67.43 89.60,67.20Z" fill="#d7efd1"/>
<path d="M94.40,59.80 C95.33,60.08 97.90,60.97 100.00,61.50 C102.10,62.03 104.78,62.52 107.00,63.00 C109.22,63.48 112.25,64.17 113.30,64.40" fill="none" stroke="#dff3da" stroke-width="3.0" stroke-linecap="round" stroke-linejoin="round"/>
<path d="M88.30,64.40 C89.00,64.73 90.97,65.72 92.50,66.40 C94.03,67.08 96.67,68.15 97.50,68.50" fill="none" stroke="#dff3da" stroke-width="2.4" stroke-linecap="round" stroke-linejoin="round"/>
<path d="M109.70,73.60 C110.73,74.20 113.85,76.43 115.90,77.20 C117.95,77.97 120.13,78.12 122.00,78.20 C123.87,78.28 125.83,77.52 127.10,77.70 C128.37,77.88 129.27,78.28 129.60,79.30 C129.93,80.32 129.43,82.37 129.10,83.80 C128.77,85.23 128.10,86.53 127.60,87.90 C127.10,89.27 126.43,90.88 126.10,92.00 C125.77,93.12 125.68,94.17 125.60,94.60" fill="none" stroke="#dff3da" stroke-width="3.0" stroke-linecap="round" stroke-linejoin="round"/>
<path d="M66.80,66.00 C67.67,66.33 70.13,67.30 72.00,68.00 C73.87,68.70 75.75,69.37 78.00,70.20 C80.25,71.03 84.25,72.53 85.50,73.00" fill="none" stroke="#d4eece" stroke-width="3.6" stroke-linecap="round" stroke-linejoin="round"/>
<path d="M37.60,73.20 C38.50,73.10 41.13,72.77 43.00,72.60 C44.87,72.43 47.83,72.27 48.80,72.20" fill="none" stroke="#dff3da" stroke-width="1.6" stroke-linecap="round" stroke-linejoin="round"/>
<circle cx="53.4" cy="66.3" r="1.6" fill="#084f91"/>
<path d="M38.00,77.50 C38.67,76.75 40.87,76.55 42.00,76.50 C43.13,76.45 44.00,76.83 44.80,77.20 C45.60,77.57 46.80,78.10 46.80,78.70 C46.80,79.30 45.77,80.33 44.80,80.80 C43.83,81.27 42.13,81.47 41.00,81.50 C39.87,81.53 38.50,81.67 38.00,81.00 C37.50,80.33 37.33,78.25 38.00,77.50Z" fill="#7accc4"/>
<path d="M36.00,80.50 C37.00,80.28 40.08,79.70 42.00,79.20 C43.92,78.70 45.83,77.95 47.50,77.50 C49.17,77.05 51.25,76.67 52.00,76.50" fill="none" stroke="#389bc6" stroke-width="1.8" stroke-linecap="round" stroke-linejoin="round"/>
<path d="M49.50,79.00 C49.67,80.00 50.17,82.83 50.50,85.00 C50.83,87.17 51.33,90.83 51.50,92.00" fill="none" stroke="#57b8d0" stroke-width="1.8" stroke-linecap="round" stroke-linejoin="round"/>
</g>
<rect x="530.70" y="790.80" width="135.70" height="111.30" fill="none" stroke="#111" stroke-width="1.25"/>
<text x="599.10" y="788.90" font-size="8.3" font-style="italic" text-anchor="middle" fill="#080808">RELB</text>
<defs><linearGradient id="gb667" x1="0" y1="1" x2="0" y2="0"><stop offset="0.000" stop-color="#f7fcf0"/><stop offset="0.062" stop-color="#ebf7e5"/><stop offset="0.125" stop-color="#e0f3db"/><stop offset="0.188" stop-color="#d6efd0"/><stop offset="0.250" stop-color="#ccebc5"/><stop offset="0.312" stop-color="#bae4bd"/><stop offset="0.375" stop-color="#a7ddb5"/><stop offset="0.438" stop-color="#91d4bd"/><stop offset="0.500" stop-color="#7accc4"/><stop offset="0.562" stop-color="#64bfcc"/><stop offset="0.625" stop-color="#4db2d3"/><stop offset="0.688" stop-color="#3c9fc8"/><stop offset="0.750" stop-color="#2a8bbe"/><stop offset="0.812" stop-color="#1979b5"/><stop offset="0.875" stop-color="#0867ab"/><stop offset="0.938" stop-color="#085395"/><stop offset="1.000" stop-color="#084081"/></linearGradient></defs>
<rect x="667.10" y="790.80" width="4.60" height="111.30" fill="url(#gb667)" stroke="#222" stroke-width="0.9"/>
<line x1="671.70" y1="902.10" x2="673.30" y2="902.10" stroke="#111" stroke-width="0.7"/>
<text x="674.40" y="904.69" font-size="7.2" fill="#080808">0.0</text>
<line x1="671.70" y1="874.27" x2="673.30" y2="874.27" stroke="#111" stroke-width="0.7"/>
<text x="674.40" y="876.87" font-size="7.2" fill="#080808">0.5</text>
<line x1="671.70" y1="846.45" x2="673.30" y2="846.45" stroke="#111" stroke-width="0.7"/>
<text x="674.40" y="849.04" font-size="7.2" fill="#080808">1.0</text>
<line x1="671.70" y1="818.62" x2="673.30" y2="818.62" stroke="#111" stroke-width="0.7"/>
<text x="674.40" y="821.22" font-size="7.2" fill="#080808">1.5</text>
<line x1="671.70" y1="790.80" x2="673.30" y2="790.80" stroke="#111" stroke-width="0.7"/>
<text x="674.40" y="793.39" font-size="7.2" fill="#080808">2.0</text>
<text x="598.55" y="909.30" font-size="6.9" text-anchor="middle" fill="#080808">UMAP1</text>
<text transform="translate(527.1,846.4) rotate(-90)" font-size="6.9" text-anchor="middle" fill="#080808">UMAP2</text>
</svg></body></html>
